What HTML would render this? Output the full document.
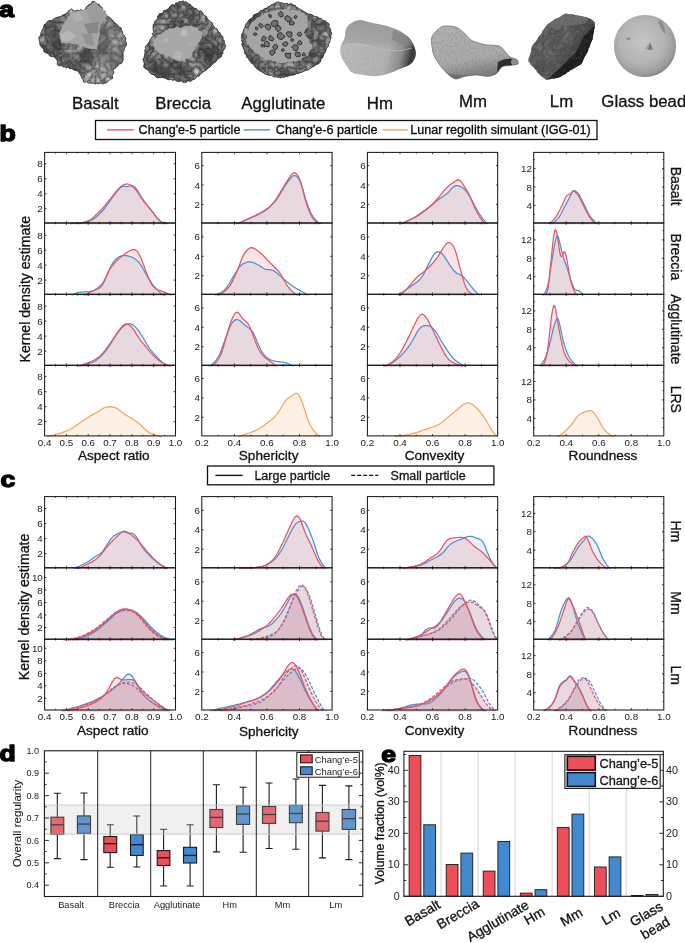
<!DOCTYPE html>
<html><head><meta charset="utf-8"><style>
html,body{margin:0;padding:0;background:#fff;width:685px;height:943px;overflow:hidden}
svg{will-change:transform} svg text{font-family:"Liberation Sans", sans-serif} svg text.b{stroke:#111;stroke-width:0.3px}
</style></head><body>
<svg width="685" height="943" viewBox="0 0 685 943" style="position:absolute;left:0;top:0">
<g font-family='"Liberation Sans", sans-serif'>
<defs>
<filter id="rk1" x="0" y="0" width="1" height="1" color-interpolation-filters="sRGB">
 <feTurbulence type="turbulence" baseFrequency="0.13" numOctaves="3" seed="2" result="n1"/>
 <feColorMatrix in="n1" type="matrix" values="1.05 0 0 0 0.16  1.05 0 0 0 0.16  1.05 0 0 0 0.16  0 0 0 0 1" result="g1"/>
 <feTurbulence type="fractalNoise" baseFrequency="0.045" numOctaves="2" seed="4" result="n2"/>
 <feColorMatrix in="n2" type="matrix" values="1.2 0 0 0 0.0  1.2 0 0 0 0.0  1.2 0 0 0 0.0  0 0 0 0 1" result="g2"/>
 <feBlend in="g1" in2="g2" mode="multiply" result="g3"/>
 <feColorMatrix in="g3" type="matrix" values="0.9 0 0 0 0.165  0.9 0 0 0 0.165  0.9 0 0 0 0.165  0 0 0 0 1"/>
 <feComposite in2="SourceGraphic" operator="in"/>
</filter>
<filter id="rk2" x="0" y="0" width="1" height="1" color-interpolation-filters="sRGB">
 <feTurbulence type="turbulence" baseFrequency="0.16" numOctaves="3" seed="8" result="n1"/>
 <feColorMatrix in="n1" type="matrix" values="1.0 0 0 0 0.14  1.0 0 0 0 0.14  1.0 0 0 0 0.14  0 0 0 0 1" result="g1"/>
 <feTurbulence type="fractalNoise" baseFrequency="0.05" numOctaves="2" seed="12" result="n2"/>
 <feColorMatrix in="n2" type="matrix" values="1.2 0 0 0 0.0  1.2 0 0 0 0.0  1.2 0 0 0 0.0  0 0 0 0 1" result="g2"/>
 <feBlend in="g1" in2="g2" mode="multiply" result="g3"/>
 <feColorMatrix in="g3" type="matrix" values="0.85 0 0 0 0.155  0.85 0 0 0 0.155  0.85 0 0 0 0.155  0 0 0 0 1"/>
 <feComposite in2="SourceGraphic" operator="in"/>
</filter>
<filter id="spk" x="0" y="0" width="1" height="1" color-interpolation-filters="sRGB">
 <feTurbulence type="fractalNoise" baseFrequency="0.3" numOctaves="2" seed="21" result="n"/>
 <feColorMatrix in="n" type="matrix" values="0 0 0 0 0  0 0 0 0 0  0 0 0 0 0  0 0 0 -1.6 0.95" result="a"/>
 <feComposite in="SourceGraphic" in2="a" operator="in"/>
</filter>
<filter id="fine" x="0" y="0" width="1" height="1">
 <feTurbulence type="fractalNoise" baseFrequency="0.9 0.4" numOctaves="2" seed="11" result="n"/>
 <feColorMatrix in="n" type="matrix" values="0 0 0 0 0  0 0 0 0 0  0 0 0 0 0  0 0 0 -3 1.7" result="a"/>
 <feComposite in="SourceGraphic" in2="a" operator="in"/>
</filter>
<filter id="soft"><feGaussianBlur stdDeviation="0.6"/></filter>
<radialGradient id="gbead" cx="0.45" cy="0.42" r="0.6">
 <stop offset="0" stop-color="#c4c4c4"/><stop offset="0.6" stop-color="#b4b4b4"/><stop offset="0.9" stop-color="#9a9a9a"/><stop offset="1" stop-color="#7c7c7c"/>
</radialGradient>
<linearGradient id="ghm" x1="0" y1="0" x2="1" y2="0.15">
 <stop offset="0" stop-color="#bcbcbc"/><stop offset="0.7" stop-color="#b2b2b2"/><stop offset="0.88" stop-color="#8c8c8c"/><stop offset="0.97" stop-color="#555"/><stop offset="1" stop-color="#3c3c3c"/>
</linearGradient>
<linearGradient id="ghmtop" x1="0" y1="0" x2="0" y2="1">
 <stop offset="0" stop-color="#8e8e8e" stop-opacity="0.7"/><stop offset="0.75" stop-color="#9a9a9a" stop-opacity="0.55"/><stop offset="1" stop-color="#9c9c9c" stop-opacity="0"/>
</linearGradient>
<linearGradient id="gmm" x1="0" y1="0" x2="0.3" y2="1">
 <stop offset="0" stop-color="#b2b2b2"/><stop offset="0.7" stop-color="#acacac"/><stop offset="1" stop-color="#808080"/>
</linearGradient>
<linearGradient id="glm" x1="0" y1="0" x2="1" y2="0.4">
 <stop offset="0" stop-color="#626262"/><stop offset="0.6" stop-color="#565656"/><stop offset="1" stop-color="#3a3a3a"/>
</linearGradient>
</defs>
<clipPath id="cpbas"><path d="M94.1,1.2 95.7,2.5 97.1,3.9 99.2,4.4 99.8,6.1 101.7,7 102.6,8.6 102.8,10.6 105.1,11.2 105,13.5 106.5,14.6 107.3,16.2 109,17 110.4,18 111.6,19.2 112.9,20.4 113.8,21.9 115.3,23 116.7,24.2 118.1,25.5 119.1,27.2 121.1,27.7 121.4,29.7 122.4,31.4 122.5,33.5 124.1,35 125.1,36.7 125.7,38.5 125.5,40.5 126.2,42.3 126.5,44.4 126,46.2 124.6,47.8 124.1,49.6 123.9,51.3 122.9,52.8 123.2,54.6 123.2,56.3 123,58 123.3,59.7 122.6,61.3 121.9,63 120.4,63.8 118.6,64.2 117.9,65.9 116.5,66.7 115.6,68.2 113.8,68.6 113,70.2 113.9,72.1 113.5,73.8 112.2,75.3 112.6,77.1 112.4,78.8 110.6,79.1 109.3,80.3 107.8,81 106.9,82.8 105,83 103.6,83.9 101.9,83.8 100.2,83 98.5,83.8 96.8,83.3 95,84.1 93.4,83.2 91.7,83.2 90,83 88.2,83.1 86.7,81.7 84.9,82.2 83.2,81.8 83.4,80 82.1,78.8 81.5,77.3 80.9,75.8 80.3,74.3 78.9,73.2 78.8,71.5 76.9,70.9 75,70.5 73.3,69.5 71.5,68.6 69.7,68.9 68.4,67.1 66.5,68 65,66.8 63.2,67.1 61.8,65.8 60.1,65.8 58.4,65.7 57,64.1 57.5,61.8 56.9,59.9 55.4,58.4 54.3,56.9 52.5,56.6 50.7,56.5 49.3,55.6 48.5,53.6 46.7,53.3 45.2,52.6 43.7,51.5 43.7,49.3 42.3,48.1 41.2,46.7 40.1,45.3 39.7,43.6 39.7,41.8 39.2,40.1 38.7,38.3 39.4,36.5 40.8,35.1 40.8,33.1 41.7,31.4 42,29.6 43.5,28.2 43.8,26.3 44.4,24.5 46,23.8 46.7,22.2 48,21.1 49.6,20.4 51.7,20.5 53.4,19.2 55,18.1 56.9,17.5 58.7,16.8 60.8,16.7 62.3,15.1 64.2,14.6 65.8,13.6 67.3,12.5 68.4,10.9 70.1,10 71.5,8.8 72.8,9.9 74.1,10.9 75.9,10.9 77.4,10 79.2,11.2 80.5,9.3 82.3,10.4 83.9,10.3 85.4,9.5 85.9,7.3 87.6,5.8 89.1,4.5 91.2,4 92,1.6Z"/></clipPath>
<path d="M94.1,1.2 95.7,2.5 97.1,3.9 99.2,4.4 99.8,6.1 101.7,7 102.6,8.6 102.8,10.6 105.1,11.2 105,13.5 106.5,14.6 107.3,16.2 109,17 110.4,18 111.6,19.2 112.9,20.4 113.8,21.9 115.3,23 116.7,24.2 118.1,25.5 119.1,27.2 121.1,27.7 121.4,29.7 122.4,31.4 122.5,33.5 124.1,35 125.1,36.7 125.7,38.5 125.5,40.5 126.2,42.3 126.5,44.4 126,46.2 124.6,47.8 124.1,49.6 123.9,51.3 122.9,52.8 123.2,54.6 123.2,56.3 123,58 123.3,59.7 122.6,61.3 121.9,63 120.4,63.8 118.6,64.2 117.9,65.9 116.5,66.7 115.6,68.2 113.8,68.6 113,70.2 113.9,72.1 113.5,73.8 112.2,75.3 112.6,77.1 112.4,78.8 110.6,79.1 109.3,80.3 107.8,81 106.9,82.8 105,83 103.6,83.9 101.9,83.8 100.2,83 98.5,83.8 96.8,83.3 95,84.1 93.4,83.2 91.7,83.2 90,83 88.2,83.1 86.7,81.7 84.9,82.2 83.2,81.8 83.4,80 82.1,78.8 81.5,77.3 80.9,75.8 80.3,74.3 78.9,73.2 78.8,71.5 76.9,70.9 75,70.5 73.3,69.5 71.5,68.6 69.7,68.9 68.4,67.1 66.5,68 65,66.8 63.2,67.1 61.8,65.8 60.1,65.8 58.4,65.7 57,64.1 57.5,61.8 56.9,59.9 55.4,58.4 54.3,56.9 52.5,56.6 50.7,56.5 49.3,55.6 48.5,53.6 46.7,53.3 45.2,52.6 43.7,51.5 43.7,49.3 42.3,48.1 41.2,46.7 40.1,45.3 39.7,43.6 39.7,41.8 39.2,40.1 38.7,38.3 39.4,36.5 40.8,35.1 40.8,33.1 41.7,31.4 42,29.6 43.5,28.2 43.8,26.3 44.4,24.5 46,23.8 46.7,22.2 48,21.1 49.6,20.4 51.7,20.5 53.4,19.2 55,18.1 56.9,17.5 58.7,16.8 60.8,16.7 62.3,15.1 64.2,14.6 65.8,13.6 67.3,12.5 68.4,10.9 70.1,10 71.5,8.8 72.8,9.9 74.1,10.9 75.9,10.9 77.4,10 79.2,11.2 80.5,9.3 82.3,10.4 83.9,10.3 85.4,9.5 85.9,7.3 87.6,5.8 89.1,4.5 91.2,4 92,1.6Z" fill="#6c6c6c"/>
<g clip-path="url(#cpbas)"><rect x="38" y="0" width="90" height="85" fill="#000" filter="url(#rk1)"/><path d="M98,20 L128,28 L128,72 L100,80 L92,50Z" fill="#a0a0a0" opacity="0.25"/><path d="M40,20 L60,20 L62,60 L40,60Z" fill="#202020" opacity="0.12"/></g>
<path d="M94.1,1.2 95.7,2.5 97.1,3.9 99.2,4.4 99.8,6.1 101.7,7 102.6,8.6 102.8,10.6 105.1,11.2 105,13.5 106.5,14.6 107.3,16.2 109,17 110.4,18 111.6,19.2 112.9,20.4 113.8,21.9 115.3,23 116.7,24.2 118.1,25.5 119.1,27.2 121.1,27.7 121.4,29.7 122.4,31.4 122.5,33.5 124.1,35 125.1,36.7 125.7,38.5 125.5,40.5 126.2,42.3 126.5,44.4 126,46.2 124.6,47.8 124.1,49.6 123.9,51.3 122.9,52.8 123.2,54.6 123.2,56.3 123,58 123.3,59.7 122.6,61.3 121.9,63 120.4,63.8 118.6,64.2 117.9,65.9 116.5,66.7 115.6,68.2 113.8,68.6 113,70.2 113.9,72.1 113.5,73.8 112.2,75.3 112.6,77.1 112.4,78.8 110.6,79.1 109.3,80.3 107.8,81 106.9,82.8 105,83 103.6,83.9 101.9,83.8 100.2,83 98.5,83.8 96.8,83.3 95,84.1 93.4,83.2 91.7,83.2 90,83 88.2,83.1 86.7,81.7 84.9,82.2 83.2,81.8 83.4,80 82.1,78.8 81.5,77.3 80.9,75.8 80.3,74.3 78.9,73.2 78.8,71.5 76.9,70.9 75,70.5 73.3,69.5 71.5,68.6 69.7,68.9 68.4,67.1 66.5,68 65,66.8 63.2,67.1 61.8,65.8 60.1,65.8 58.4,65.7 57,64.1 57.5,61.8 56.9,59.9 55.4,58.4 54.3,56.9 52.5,56.6 50.7,56.5 49.3,55.6 48.5,53.6 46.7,53.3 45.2,52.6 43.7,51.5 43.7,49.3 42.3,48.1 41.2,46.7 40.1,45.3 39.7,43.6 39.7,41.8 39.2,40.1 38.7,38.3 39.4,36.5 40.8,35.1 40.8,33.1 41.7,31.4 42,29.6 43.5,28.2 43.8,26.3 44.4,24.5 46,23.8 46.7,22.2 48,21.1 49.6,20.4 51.7,20.5 53.4,19.2 55,18.1 56.9,17.5 58.7,16.8 60.8,16.7 62.3,15.1 64.2,14.6 65.8,13.6 67.3,12.5 68.4,10.9 70.1,10 71.5,8.8 72.8,9.9 74.1,10.9 75.9,10.9 77.4,10 79.2,11.2 80.5,9.3 82.3,10.4 83.9,10.3 85.4,9.5 85.9,7.3 87.6,5.8 89.1,4.5 91.2,4 92,1.6Z" fill="none" stroke="#2a2a2a" stroke-width="0.9" opacity="0.8"/>
<path d="M58.5,33.6 59.4,32.4 60.3,31.1 60.8,29.7 61.7,28.5 62,26.8 62.7,25.5 63.6,24.3 64.2,22.9 65.1,21.6 66.5,20.7 66.8,19.1 67.3,17.7 68,16.3 69.5,15.4 69.7,13.8 70.5,12.5 72.1,12.8 73.5,11.9 75,11.6 76.6,11.8 78.1,11.3 79.5,10.8 81,10.3 82.6,10.5 84,9.7 85.5,9.5 87,8.9 87.4,7.1 88.8,6.4 90,5.4 91.5,4.8 92,3.1 93.6,2.6 94.5,1.3 95.4,2.6 96.5,3.7 97.6,4.7 98.4,6.1 100.1,6.7 101.1,7.9 102.3,8.8 103.6,9.8 104.5,11 105,12.7 106.1,13.8 107.5,14.6 107,16.3 105.6,17.3 104.8,18.8 103.8,20.1 102.8,21.5 102.2,23.1 100.6,24.1 100.2,25.8 100.1,27.5 99.7,29.1 99.5,30.8 99.9,32.5 99.9,34.2 99.3,35.8 99,37.5 98.5,39 98.2,40.4 98.1,42 98.6,43.6 97.4,44.9 97.4,46.4 97.1,47.9 97.3,49.5 95.7,49.2 94.3,48.4 92.5,49.1 90.9,48.9 89.4,48.6 87.8,48 86.3,47.7 84.7,47.5 83.2,46.8 81.8,46.1 80.1,46 78.9,44.7 77.2,44.5 75.9,43.5 74.3,43.3 72.7,44 71.2,43.7 69.6,42.9 68,43.3 66.4,43 64.9,43.2 63.3,43.2 61.7,43.3 60.8,41.8 60.7,40 59.6,38.6 59.9,36.7 59.6,35Z" fill="#a6a6a6"/>
<path d="M86,10 L95,2 L106,15 L100,24 L90,22 Z" fill="#9c9c9c"/>
<path d="M84,24 L99,22 L98,33 L88,33 Z" fill="#888"/><path d="M82,34 L92,33 L94,46 L86,44 Z" fill="#939393"/><path d="M60,35 L68,30 L76,36 L70,41 L62,41 Z" fill="#b6b6b6"/><path d="M72,14 L80,12 L84,20 L75,22 Z" fill="#b0b0b0"/>
<clipPath id="cpbre"><path d="M183.3,0.7 184.3,2.1 186.5,1.8 187.6,3.1 189,4 190.5,4.5 191.4,6.2 192.9,6.9 194.2,8.3 196.3,8.4 197.4,10.2 199,11 201.2,10.9 202.5,12.4 203.3,14.1 204.3,15.6 206.4,16.2 207.1,18 208.2,19.4 209.4,20.8 210.7,22 212.3,22.7 212.6,24.6 213.7,25.8 214.5,27.2 215.6,28.4 217.3,29.1 217.9,30.7 218.7,32.1 220.3,32.9 220.3,34.7 222.2,35.8 223.1,37.2 222.8,39.2 224.2,40.4 224.3,42.2 224.4,44.1 225.8,45.3 225.3,46.9 224.8,48.6 223.8,49.9 222.8,51.3 223,53.3 221.9,54.6 221.6,56.3 220.3,57.6 218.7,58.5 217.2,59.4 216.3,61.2 215,62.4 213.4,63.3 212.1,64.5 211.1,66.1 209.7,67.2 208.2,68.2 206.7,69.2 205.7,70.9 203.6,71.2 202.5,72.7 201,73.6 200,75 198.8,76.3 196.7,76.3 196,78.2 194.7,79.2 192.9,79.6 191.5,80.8 189.9,81.4 187.8,80.5 186.5,82.2 184.7,82.3 183,82.3 181.4,81.1 179.7,81.2 177.9,81.7 176.3,80.9 174.8,79.8 172.9,80.4 171.3,79.5 169.6,79.6 167.7,80 166.2,78.5 164.5,78.1 162.8,77.6 161,77.5 159.2,77.7 157.4,77.9 155.8,76.8 154.5,75.7 153.4,74.4 151.4,74.2 150.1,73 149,71.6 147.9,70.3 146.7,69.1 144.9,68.6 143.9,67.1 143.6,65.5 144.4,63.7 143.8,62.1 143.5,60.5 142.8,59 144.1,57.5 144.4,55.8 144.7,54 145,52.3 144.7,50.4 145.6,48.8 145.2,46.9 146.2,45.3 147.6,44.2 148.5,42.8 149.5,41.4 150.1,39.8 151,38.3 152,37 153.1,35.7 152.3,33.9 153.7,32 153.2,30.2 152.9,28.4 153.2,26.5 153.1,24.7 154.4,23.3 154.7,21.4 156.4,20.2 157.4,18.7 157.5,16.6 158.6,15.1 159.6,13.6 161.6,13.4 163.3,12.7 163.7,10.5 165.7,10.3 167.2,9.4 168.7,8.5 169.6,6.9 170.9,5.5 172.5,4.6 174.9,5.2 175.8,2.9 177.8,2.7 179.4,1.5 181.5,1.5Z"/></clipPath>
<path d="M183.3,0.7 184.3,2.1 186.5,1.8 187.6,3.1 189,4 190.5,4.5 191.4,6.2 192.9,6.9 194.2,8.3 196.3,8.4 197.4,10.2 199,11 201.2,10.9 202.5,12.4 203.3,14.1 204.3,15.6 206.4,16.2 207.1,18 208.2,19.4 209.4,20.8 210.7,22 212.3,22.7 212.6,24.6 213.7,25.8 214.5,27.2 215.6,28.4 217.3,29.1 217.9,30.7 218.7,32.1 220.3,32.9 220.3,34.7 222.2,35.8 223.1,37.2 222.8,39.2 224.2,40.4 224.3,42.2 224.4,44.1 225.8,45.3 225.3,46.9 224.8,48.6 223.8,49.9 222.8,51.3 223,53.3 221.9,54.6 221.6,56.3 220.3,57.6 218.7,58.5 217.2,59.4 216.3,61.2 215,62.4 213.4,63.3 212.1,64.5 211.1,66.1 209.7,67.2 208.2,68.2 206.7,69.2 205.7,70.9 203.6,71.2 202.5,72.7 201,73.6 200,75 198.8,76.3 196.7,76.3 196,78.2 194.7,79.2 192.9,79.6 191.5,80.8 189.9,81.4 187.8,80.5 186.5,82.2 184.7,82.3 183,82.3 181.4,81.1 179.7,81.2 177.9,81.7 176.3,80.9 174.8,79.8 172.9,80.4 171.3,79.5 169.6,79.6 167.7,80 166.2,78.5 164.5,78.1 162.8,77.6 161,77.5 159.2,77.7 157.4,77.9 155.8,76.8 154.5,75.7 153.4,74.4 151.4,74.2 150.1,73 149,71.6 147.9,70.3 146.7,69.1 144.9,68.6 143.9,67.1 143.6,65.5 144.4,63.7 143.8,62.1 143.5,60.5 142.8,59 144.1,57.5 144.4,55.8 144.7,54 145,52.3 144.7,50.4 145.6,48.8 145.2,46.9 146.2,45.3 147.6,44.2 148.5,42.8 149.5,41.4 150.1,39.8 151,38.3 152,37 153.1,35.7 152.3,33.9 153.7,32 153.2,30.2 152.9,28.4 153.2,26.5 153.1,24.7 154.4,23.3 154.7,21.4 156.4,20.2 157.4,18.7 157.5,16.6 158.6,15.1 159.6,13.6 161.6,13.4 163.3,12.7 163.7,10.5 165.7,10.3 167.2,9.4 168.7,8.5 169.6,6.9 170.9,5.5 172.5,4.6 174.9,5.2 175.8,2.9 177.8,2.7 179.4,1.5 181.5,1.5Z" fill="#5c5c5c"/>
<g clip-path="url(#cpbre)"><rect x="140" y="0" width="90" height="85" fill="#000" filter="url(#rk2)"/></g>
<path d="M183.3,0.7 184.3,2.1 186.5,1.8 187.6,3.1 189,4 190.5,4.5 191.4,6.2 192.9,6.9 194.2,8.3 196.3,8.4 197.4,10.2 199,11 201.2,10.9 202.5,12.4 203.3,14.1 204.3,15.6 206.4,16.2 207.1,18 208.2,19.4 209.4,20.8 210.7,22 212.3,22.7 212.6,24.6 213.7,25.8 214.5,27.2 215.6,28.4 217.3,29.1 217.9,30.7 218.7,32.1 220.3,32.9 220.3,34.7 222.2,35.8 223.1,37.2 222.8,39.2 224.2,40.4 224.3,42.2 224.4,44.1 225.8,45.3 225.3,46.9 224.8,48.6 223.8,49.9 222.8,51.3 223,53.3 221.9,54.6 221.6,56.3 220.3,57.6 218.7,58.5 217.2,59.4 216.3,61.2 215,62.4 213.4,63.3 212.1,64.5 211.1,66.1 209.7,67.2 208.2,68.2 206.7,69.2 205.7,70.9 203.6,71.2 202.5,72.7 201,73.6 200,75 198.8,76.3 196.7,76.3 196,78.2 194.7,79.2 192.9,79.6 191.5,80.8 189.9,81.4 187.8,80.5 186.5,82.2 184.7,82.3 183,82.3 181.4,81.1 179.7,81.2 177.9,81.7 176.3,80.9 174.8,79.8 172.9,80.4 171.3,79.5 169.6,79.6 167.7,80 166.2,78.5 164.5,78.1 162.8,77.6 161,77.5 159.2,77.7 157.4,77.9 155.8,76.8 154.5,75.7 153.4,74.4 151.4,74.2 150.1,73 149,71.6 147.9,70.3 146.7,69.1 144.9,68.6 143.9,67.1 143.6,65.5 144.4,63.7 143.8,62.1 143.5,60.5 142.8,59 144.1,57.5 144.4,55.8 144.7,54 145,52.3 144.7,50.4 145.6,48.8 145.2,46.9 146.2,45.3 147.6,44.2 148.5,42.8 149.5,41.4 150.1,39.8 151,38.3 152,37 153.1,35.7 152.3,33.9 153.7,32 153.2,30.2 152.9,28.4 153.2,26.5 153.1,24.7 154.4,23.3 154.7,21.4 156.4,20.2 157.4,18.7 157.5,16.6 158.6,15.1 159.6,13.6 161.6,13.4 163.3,12.7 163.7,10.5 165.7,10.3 167.2,9.4 168.7,8.5 169.6,6.9 170.9,5.5 172.5,4.6 174.9,5.2 175.8,2.9 177.8,2.7 179.4,1.5 181.5,1.5Z" fill="none" stroke="#2a2a2a" stroke-width="0.9" opacity="0.8"/>
<path d="M154.5,39.4 155.7,38 157.5,37.2 158,35.1 159.7,34.2 161.4,34.1 162,32.2 163.9,32.4 164.5,30.4 166.3,30.3 167.6,29.6 168.9,28.3 170.5,28.5 172,28.1 173.7,28.5 175.1,27.6 176.4,26.4 178.1,26.9 179.7,27.8 181.1,27.5 182.6,27.5 184.1,26.1 185.6,26.3 187.1,25.8 188.6,26.3 190.3,25.9 191.9,26.1 193.2,27.3 194.9,26.9 196.4,27.3 197.8,28.3 198.4,30.1 200.1,30.9 201.7,31.8 202.4,33.5 201.6,35.2 201.9,37.2 200.8,38.9 200.4,40.7 199.4,42.3 197.8,43.3 196.5,44.7 195.6,46.2 195.1,47.9 194.7,49.7 193.9,51.2 192.6,52.2 191.7,53.5 192,55.5 191.3,56.9 189.9,57.8 189,59.3 186.8,58.6 185.5,59.4 185,61.5 183.4,61.8 182,60.6 180.1,61.8 178.7,60.9 177.1,60.7 175.5,60.4 174.6,58.9 172.4,59.6 171.4,58.4 170.3,57.1 168.9,56.5 167.1,56.9 165.7,56.1 164.3,55.3 163,54 161.4,53.8 159.7,53.9 158.8,52.4 157.4,51.5 156.1,50.6 154.5,49.9 154.7,48 153.9,46.3 153.1,44.7 154,43.1 153.6,41.1Z" fill="#a8a8a8"/>
<circle cx="184" cy="33" r="3.5" fill="#bababa"/><circle cx="178" cy="55" r="4" fill="#b6b6b6"/><circle cx="166" cy="40" r="2.5" fill="#b4b4b4"/><circle cx="190" cy="44" r="2.2" fill="#b0b0b0"/><circle cx="205" cy="32" r="3" fill="#8c8c8c"/><circle cx="186" cy="21" r="2.2" fill="#8a8a8a"/>
<clipPath id="cpagg"><path d="M276.6,2.1 278.4,1.9 280.1,2.9 281.9,2.4 283.5,3.7 285.4,3.5 287.2,3.3 288.8,4.4 290.7,3.6 292.4,4.3 293.8,5.2 295.6,5.5 296.4,7.4 298.1,7.8 299.3,9 301.1,9.2 302.2,10.7 303.7,11.4 305.2,12.2 306.7,12.9 308.1,14.1 310,14 311.6,14.6 313.1,15.6 314.7,16.4 316.6,16.4 318.1,17.2 319.4,18.2 321.2,18.5 322.3,19.7 323.6,20.8 325.5,20.7 326.5,22.4 328.1,22.9 329.3,24.3 328.7,26.5 329.9,27.9 330.6,29.5 330.8,31.3 331.7,32.9 331.3,34.6 330.7,36.2 331.2,38 330.2,39.5 329.9,41.2 329.6,42.9 328.3,44.1 328.7,46.1 327.5,47.2 326.5,48.6 325.9,50.1 325.8,51.8 324.4,52.9 323.8,54.4 323.3,56.3 322.5,58 320.7,59.3 320.7,61.4 319.5,62.9 318.1,63.9 316.5,64.4 315.1,65.4 313.8,66.4 312.1,67 311,68.3 309.4,69.1 308.1,70.1 306.3,70.2 304.8,70.9 303.2,71.5 301.7,72.4 300,72.7 298.5,73.5 296.7,73.5 295.2,74.4 293.7,75 292,75.2 290.3,75.3 288.8,76 287.3,76.6 285.6,76.4 284.1,77.4 282.4,77.1 280.9,78 279.4,77.3 277.7,77.4 276.3,76.6 274.5,77.2 273,76.4 271.6,75.3 269.9,75.4 268.4,75 266.8,74.5 265.2,74.4 263.9,73.2 262.4,72.2 260.8,71.4 259.2,70.6 257.9,69.5 256.5,68.5 255.2,67.2 254.1,66 253.6,64.2 251.8,63.6 250.8,62.2 249.7,61.1 248.8,59.6 248.2,58 246.6,57.2 246.5,55.4 245.2,54 244.5,52.4 244.6,50.5 243.5,49.1 243.2,47.3 242.3,45.8 241.6,44.2 242.6,42.5 241.7,40.9 241.9,39.2 241.4,37.6 241.6,35.9 241.6,34.3 242.7,32.9 243.4,31.2 243.7,29.4 244.8,27.9 245.1,26.1 245.7,24.5 246.6,22.9 247.9,21.7 248.8,20.1 250.1,19 251.7,18.2 253,17 253.5,15.1 255.2,14.3 256.8,13.8 258.3,13.1 259.4,11.8 260.6,10.5 262.5,10.5 263.6,9.1 265.2,8.6 266.7,8 268,6.8 269.6,6.3 270.7,5.1 272.3,4.5 273.8,3.8 275.3,3.1Z"/></clipPath>
<path d="M276.6,2.1 278.4,1.9 280.1,2.9 281.9,2.4 283.5,3.7 285.4,3.5 287.2,3.3 288.8,4.4 290.7,3.6 292.4,4.3 293.8,5.2 295.6,5.5 296.4,7.4 298.1,7.8 299.3,9 301.1,9.2 302.2,10.7 303.7,11.4 305.2,12.2 306.7,12.9 308.1,14.1 310,14 311.6,14.6 313.1,15.6 314.7,16.4 316.6,16.4 318.1,17.2 319.4,18.2 321.2,18.5 322.3,19.7 323.6,20.8 325.5,20.7 326.5,22.4 328.1,22.9 329.3,24.3 328.7,26.5 329.9,27.9 330.6,29.5 330.8,31.3 331.7,32.9 331.3,34.6 330.7,36.2 331.2,38 330.2,39.5 329.9,41.2 329.6,42.9 328.3,44.1 328.7,46.1 327.5,47.2 326.5,48.6 325.9,50.1 325.8,51.8 324.4,52.9 323.8,54.4 323.3,56.3 322.5,58 320.7,59.3 320.7,61.4 319.5,62.9 318.1,63.9 316.5,64.4 315.1,65.4 313.8,66.4 312.1,67 311,68.3 309.4,69.1 308.1,70.1 306.3,70.2 304.8,70.9 303.2,71.5 301.7,72.4 300,72.7 298.5,73.5 296.7,73.5 295.2,74.4 293.7,75 292,75.2 290.3,75.3 288.8,76 287.3,76.6 285.6,76.4 284.1,77.4 282.4,77.1 280.9,78 279.4,77.3 277.7,77.4 276.3,76.6 274.5,77.2 273,76.4 271.6,75.3 269.9,75.4 268.4,75 266.8,74.5 265.2,74.4 263.9,73.2 262.4,72.2 260.8,71.4 259.2,70.6 257.9,69.5 256.5,68.5 255.2,67.2 254.1,66 253.6,64.2 251.8,63.6 250.8,62.2 249.7,61.1 248.8,59.6 248.2,58 246.6,57.2 246.5,55.4 245.2,54 244.5,52.4 244.6,50.5 243.5,49.1 243.2,47.3 242.3,45.8 241.6,44.2 242.6,42.5 241.7,40.9 241.9,39.2 241.4,37.6 241.6,35.9 241.6,34.3 242.7,32.9 243.4,31.2 243.7,29.4 244.8,27.9 245.1,26.1 245.7,24.5 246.6,22.9 247.9,21.7 248.8,20.1 250.1,19 251.7,18.2 253,17 253.5,15.1 255.2,14.3 256.8,13.8 258.3,13.1 259.4,11.8 260.6,10.5 262.5,10.5 263.6,9.1 265.2,8.6 266.7,8 268,6.8 269.6,6.3 270.7,5.1 272.3,4.5 273.8,3.8 275.3,3.1Z" fill="#5a5a5a"/>
<g clip-path="url(#cpagg)"><rect x="240" y="0" width="95" height="80" fill="#000" filter="url(#rk2)"/></g>
<path d="M276.6,2.1 278.4,1.9 280.1,2.9 281.9,2.4 283.5,3.7 285.4,3.5 287.2,3.3 288.8,4.4 290.7,3.6 292.4,4.3 293.8,5.2 295.6,5.5 296.4,7.4 298.1,7.8 299.3,9 301.1,9.2 302.2,10.7 303.7,11.4 305.2,12.2 306.7,12.9 308.1,14.1 310,14 311.6,14.6 313.1,15.6 314.7,16.4 316.6,16.4 318.1,17.2 319.4,18.2 321.2,18.5 322.3,19.7 323.6,20.8 325.5,20.7 326.5,22.4 328.1,22.9 329.3,24.3 328.7,26.5 329.9,27.9 330.6,29.5 330.8,31.3 331.7,32.9 331.3,34.6 330.7,36.2 331.2,38 330.2,39.5 329.9,41.2 329.6,42.9 328.3,44.1 328.7,46.1 327.5,47.2 326.5,48.6 325.9,50.1 325.8,51.8 324.4,52.9 323.8,54.4 323.3,56.3 322.5,58 320.7,59.3 320.7,61.4 319.5,62.9 318.1,63.9 316.5,64.4 315.1,65.4 313.8,66.4 312.1,67 311,68.3 309.4,69.1 308.1,70.1 306.3,70.2 304.8,70.9 303.2,71.5 301.7,72.4 300,72.7 298.5,73.5 296.7,73.5 295.2,74.4 293.7,75 292,75.2 290.3,75.3 288.8,76 287.3,76.6 285.6,76.4 284.1,77.4 282.4,77.1 280.9,78 279.4,77.3 277.7,77.4 276.3,76.6 274.5,77.2 273,76.4 271.6,75.3 269.9,75.4 268.4,75 266.8,74.5 265.2,74.4 263.9,73.2 262.4,72.2 260.8,71.4 259.2,70.6 257.9,69.5 256.5,68.5 255.2,67.2 254.1,66 253.6,64.2 251.8,63.6 250.8,62.2 249.7,61.1 248.8,59.6 248.2,58 246.6,57.2 246.5,55.4 245.2,54 244.5,52.4 244.6,50.5 243.5,49.1 243.2,47.3 242.3,45.8 241.6,44.2 242.6,42.5 241.7,40.9 241.9,39.2 241.4,37.6 241.6,35.9 241.6,34.3 242.7,32.9 243.4,31.2 243.7,29.4 244.8,27.9 245.1,26.1 245.7,24.5 246.6,22.9 247.9,21.7 248.8,20.1 250.1,19 251.7,18.2 253,17 253.5,15.1 255.2,14.3 256.8,13.8 258.3,13.1 259.4,11.8 260.6,10.5 262.5,10.5 263.6,9.1 265.2,8.6 266.7,8 268,6.8 269.6,6.3 270.7,5.1 272.3,4.5 273.8,3.8 275.3,3.1Z" fill="none" stroke="#2a2a2a" stroke-width="0.9" opacity="0.8"/>
<path d="M246.6,32.9 246.9,31.3 248.7,30.4 248.4,28.5 249.2,27.1 249.8,25.6 250.3,24 251.5,22.9 252.3,21.5 253.8,21 255.1,20.1 255.9,18.5 257.1,17.6 258.6,17 260.3,16.7 261.3,15.5 263,15.2 264,14 265.2,12.9 266.8,12.7 268.4,12.6 270,12.2 271.4,11.2 273,10.7 274.6,10.6 276.2,10.4 277.6,9.5 279.3,9.6 280.9,9.3 282.4,9.7 284.1,9 285.6,9.1 287.2,9.3 288.7,9.6 290.2,10.8 291.9,9.4 293.5,9.8 295,9.9 296.5,10.5 298.1,10.7 299.9,10.9 301,12.3 302.7,12.7 304,13.7 305,15.3 306.7,15.7 307.4,17.3 306.9,19 307.4,20.6 307.6,22.3 307.2,24 308.4,25.5 308.1,27.2 306.5,28.2 305.4,29.7 304.7,31.3 303.8,32.9 305.3,33.7 305.5,35.5 306.5,36.6 307.3,38 308.9,38.6 309.5,40.1 309.4,41.8 310.1,43.2 311.8,44.1 312.1,45.7 312.4,47.2 312.4,49 310.5,49.8 309.7,51.2 308.8,52.6 308.7,54.3 308.1,55.8 306.6,56.2 305.1,56.8 303.8,57.6 302.1,57.7 300.9,58.8 299.6,59.8 298.1,60.2 296.9,61.6 295.2,61.5 293.6,61.3 292,61.5 290.4,62.1 288.8,61.6 287.2,61.9 285.7,62.7 284.1,63.3 282.5,63.3 280.9,62.9 279.2,63.1 277.7,62.6 276.1,62 274.7,61 272.9,61.7 271.5,60.4 269.8,60.4 268.3,59.9 266.6,60.1 265.2,59.4 263.6,59 263,57.1 261.2,57 259.8,56.3 259.1,54.5 257.7,53.8 256,53.6 254.8,52.7 253.7,51.5 253.2,49.8 251.4,49.3 250.9,47.6 249.2,47 249,45 247.1,44.5 246.6,42.9 246.6,41.2 245.9,39.6 246.7,37.9 247.2,36.2 245.9,34.6Z" fill="#a4a4a4"/>
<path d="M283,14.3 C283.1,14.9 283.2,15.8 282.9,16.3 C282.5,16.7 281.5,17 280.9,16.9 C280.3,16.8 279.8,16.3 279.4,15.8 C278.9,15.4 278.3,14.8 278.3,14.3 C278.3,13.8 278.8,13.1 279.2,12.6 C279.7,12.1 280.4,11.3 280.9,11.4 C281.4,11.4 282.1,12.3 282.4,12.8 C282.8,13.3 283,13.7 283,14.3Z" fill="#707070" stroke="#2a2a2a" stroke-width="1.0"/>
<path d="M291.4,18.6 C291.5,19.2 290.8,20.3 290.2,20.8 C289.7,21.4 288.7,22 288,21.9 C287.3,21.9 286.6,21.1 286.1,20.5 C285.5,20 284.8,19.3 284.7,18.6 C284.6,17.9 285.2,16.8 285.7,16.3 C286.2,15.8 287.4,15.7 288,15.9 C288.6,16 289,16.6 289.5,17.1 C290.1,17.5 291.2,18 291.4,18.6Z" fill="#707070" stroke="#2a2a2a" stroke-width="1.0"/>
<path d="M294.3,23 C294.4,23.6 293.7,24.5 293.3,24.8 C292.8,25.1 292.1,24.9 291.5,24.9 C290.9,24.9 290,25.1 289.7,24.8 C289.4,24.5 289.5,23.6 289.5,23 C289.6,22.4 289.6,21.9 289.9,21.4 C290.3,21 291,20.3 291.5,20.3 C292,20.3 292.6,21 293,21.5 C293.5,21.9 294.3,22.4 294.3,23Z" fill="#707070" stroke="#2a2a2a" stroke-width="1.0"/>
<path d="M277.9,23.6 C277.9,24.5 277.5,25.6 277,26.1 C276.4,26.6 275.3,26.6 274.5,26.6 C273.7,26.5 272.7,26.4 272.2,25.9 C271.6,25.4 271.1,24.4 271.1,23.6 C271.1,22.8 271.7,21.8 272.3,21.4 C272.8,20.9 273.7,20.7 274.5,20.7 C275.3,20.6 276.6,20.4 277.2,20.9 C277.8,21.4 278,22.7 277.9,23.6Z" fill="#707070" stroke="#2a2a2a" stroke-width="1.0"/>
<path d="M270.5,26.5 C270.6,27.2 270.8,28.2 270.3,28.8 C269.9,29.5 268.7,30.2 268,30.1 C267.3,30 266.7,28.9 266.2,28.3 C265.7,27.7 265,27.1 265,26.5 C264.9,25.9 265.4,24.8 265.9,24.4 C266.4,24.1 267.4,24.2 268,24.3 C268.6,24.4 269.2,24.5 269.6,24.9 C270,25.2 270.3,25.8 270.5,26.5Z" fill="#707070" stroke="#2a2a2a" stroke-width="1.0"/>
<path d="M263.3,25.8 C263.3,26.2 262.7,26.8 262.3,27.2 C261.9,27.5 261.3,28.1 260.9,28.1 C260.5,28 260.2,27.2 259.9,26.8 C259.5,26.5 258.9,26.3 258.8,25.8 C258.7,25.3 258.9,24.5 259.2,24.1 C259.6,23.7 260.5,23.3 260.9,23.4 C261.3,23.6 261.5,24.4 261.9,24.8 C262.3,25.2 263.2,25.4 263.3,25.8Z" fill="#707070" stroke="#2a2a2a" stroke-width="1.0"/>
<path d="M281,28.5 C280.9,29.2 280.4,29.9 279.9,30.4 C279.4,31 278.6,31.9 278,31.9 C277.4,31.8 276.9,30.6 276.4,30.1 C276,29.5 275.6,29.2 275.5,28.5 C275.3,27.8 275.1,26.5 275.6,26.1 C276,25.6 277.3,25.6 278,25.6 C278.7,25.7 279.5,26 280,26.5 C280.5,27 281,27.8 281,28.5Z" fill="#707070" stroke="#2a2a2a" stroke-width="1.0"/>
<path d="M297,17.2 C297,17.6 296.4,17.9 296.1,18.1 C295.8,18.3 295.5,18.3 295.2,18.3 C294.9,18.3 294.4,18.4 294.2,18.2 C294,18 294,17.5 294,17.2 C294.1,16.9 294.2,16.7 294.4,16.4 C294.6,16.2 294.9,15.8 295.2,15.7 C295.5,15.6 296.2,15.6 296.5,15.9 C296.8,16.2 297.1,16.8 297,17.2Z" fill="#707070" stroke="#2a2a2a" stroke-width="1.0"/>
<path d="M301.5,34.3 C301.5,34.8 301.3,35.5 301,35.8 C300.7,36.1 300,36.1 299.5,36.1 C299,36 298.4,36 298.1,35.7 C297.7,35.4 297.3,34.8 297.3,34.3 C297.3,33.8 297.7,33.2 298.1,32.9 C298.4,32.5 299,32 299.5,32 C300,32 300.6,32.5 300.9,32.9 C301.3,33.3 301.5,33.8 301.5,34.3Z" fill="#707070" stroke="#2a2a2a" stroke-width="1.0"/>
<path d="M291.9,34.3 C291.9,35 292.1,36 291.7,36.5 C291.3,36.9 290.1,37.3 289.5,37.2 C288.9,37.1 288.3,36.5 287.8,36 C287.3,35.5 286.5,35 286.4,34.3 C286.3,33.6 286.5,32.2 287.1,31.9 C287.6,31.5 288.7,31.9 289.5,32 C290.3,32 291.2,31.8 291.6,32.2 C292,32.6 291.9,33.6 291.9,34.3Z" fill="#707070" stroke="#2a2a2a" stroke-width="1.0"/>
<path d="M284.9,36.3 C284.9,37 283.9,38.1 283.2,38.6 C282.6,39.2 281.7,39.4 280.9,39.4 C280.1,39.3 279.2,39.1 278.6,38.6 C278,38.1 277.4,37.1 277.3,36.3 C277.2,35.5 277.6,34.2 278.2,33.6 C278.8,33 280.1,32.5 280.9,32.7 C281.7,32.8 282.2,33.8 282.8,34.4 C283.5,35 284.8,35.6 284.9,36.3Z" fill="#707070" stroke="#2a2a2a" stroke-width="1.0"/>
<path d="M273.8,38.6 C273.9,39.2 273.5,40.4 273,40.7 C272.6,41.1 271.5,40.6 270.9,40.5 C270.3,40.4 269.8,40.4 269.4,40.1 C269.1,39.8 269,39.2 268.9,38.6 C268.8,38 268.5,37 268.8,36.5 C269.2,36 270.3,35.5 270.9,35.6 C271.5,35.7 271.7,36.8 272.2,37.3 C272.7,37.8 273.6,38 273.8,38.6Z" fill="#707070" stroke="#2a2a2a" stroke-width="1.0"/>
<path d="M266,38.6 C266,39.1 265.6,39.6 265.2,40 C264.9,40.4 264.4,40.9 263.8,41 C263.2,41.1 262,41.1 261.7,40.7 C261.4,40.3 261.8,39.2 262,38.6 C262.1,38 262.1,37.6 262.4,37.2 C262.7,36.8 263.3,36.2 263.8,36.2 C264.3,36.1 265.2,36.4 265.5,36.9 C265.9,37.3 266.1,38.1 266,38.6Z" fill="#707070" stroke="#2a2a2a" stroke-width="1.0"/>
<path d="M256.9,34.3 C256.8,34.7 256.5,35.1 256.2,35.3 C255.9,35.5 255.5,35.5 255.2,35.5 C254.9,35.5 254.6,35.4 254.3,35.2 C253.9,35.1 253.4,34.7 253.3,34.3 C253.3,33.9 253.7,33.3 254,33.1 C254.3,32.9 254.8,33.2 255.2,33.2 C255.6,33.1 256.1,32.9 256.4,33.1 C256.7,33.3 256.9,33.9 256.9,34.3Z" fill="#707070" stroke="#2a2a2a" stroke-width="1.0"/>
<path d="M269.2,44.3 C269.3,45 269.4,46.3 269,46.7 C268.6,47.1 267.4,46.4 266.6,46.4 C265.8,46.4 264.5,47.2 264.1,46.8 C263.7,46.4 264.2,45.1 264.2,44.3 C264.3,43.5 264.2,42.8 264.6,42.3 C265,41.8 265.9,41.1 266.6,41.1 C267.3,41.1 268.2,41.7 268.7,42.2 C269.1,42.8 269.2,43.6 269.2,44.3Z" fill="#707070" stroke="#2a2a2a" stroke-width="1.0"/>
<path d="M277.6,47.2 C277.5,47.8 277.2,48.4 276.8,48.8 C276.5,49.3 275.7,49.8 275.2,49.8 C274.7,49.8 274.1,49.2 273.7,48.7 C273.2,48.3 272.8,47.7 272.7,47.2 C272.7,46.7 273.2,46 273.6,45.6 C274,45.1 274.6,44.4 275.2,44.3 C275.8,44.3 276.7,44.8 277.1,45.3 C277.5,45.8 277.6,46.6 277.6,47.2Z" fill="#707070" stroke="#2a2a2a" stroke-width="1.0"/>
<path d="M287.8,44.3 C287.7,44.9 287.1,45.5 286.7,45.8 C286.3,46.1 285.7,46.1 285.2,46.1 C284.7,46.1 284.1,46.2 283.6,45.9 C283.2,45.6 282.4,44.8 282.4,44.3 C282.4,43.8 283.2,43.2 283.7,42.8 C284.2,42.4 284.6,42.1 285.2,42 C285.8,41.9 286.7,41.9 287.2,42.3 C287.6,42.7 287.8,43.7 287.8,44.3Z" fill="#707070" stroke="#2a2a2a" stroke-width="1.0"/>
<path d="M298,47.2 C298.1,48 298.2,49.1 297.7,49.7 C297.3,50.3 295.9,50.9 295.2,50.8 C294.5,50.7 293.9,49.6 293.4,49 C292.8,48.4 291.9,47.8 291.9,47.2 C291.9,46.6 292.9,45.8 293.4,45.4 C294,45 294.6,44.9 295.2,44.9 C295.8,44.8 296.7,44.8 297.2,45.2 C297.7,45.6 297.9,46.4 298,47.2Z" fill="#707070" stroke="#2a2a2a" stroke-width="1.0"/>
<path d="M301.6,42.9 C301.6,43.4 301.6,44.4 301.2,44.6 C300.9,44.9 300,44.5 299.5,44.5 C299,44.4 298.3,44.7 298,44.4 C297.6,44.2 297.5,43.3 297.6,42.9 C297.7,42.5 298.1,42.2 298.4,41.8 C298.7,41.4 299.1,40.5 299.5,40.4 C299.9,40.4 300.7,41 301,41.4 C301.4,41.8 301.5,42.4 301.6,42.9Z" fill="#707070" stroke="#2a2a2a" stroke-width="1.0"/>
<path d="M290.3,55.8 C290.3,56.6 290.9,58 290.5,58.3 C290.2,58.7 288.7,58.2 288,58.1 C287.3,57.9 286.8,57.8 286.4,57.4 C286,57 285.5,56.5 285.4,55.8 C285.2,55.1 285,53.6 285.4,53.2 C285.9,52.9 287.1,53.6 288,53.6 C288.9,53.6 290.2,52.9 290.6,53.2 C290.9,53.6 290.3,55 290.3,55.8Z" fill="#707070" stroke="#2a2a2a" stroke-width="1.0"/>
<path d="M274.9,52.9 C274.7,53.5 274,53.8 273.6,54.2 C273.2,54.6 272.8,55.4 272.3,55.4 C271.8,55.5 271,55 270.6,54.6 C270.2,54.2 269.8,53.5 269.8,52.9 C269.7,52.3 269.9,51.4 270.3,50.9 C270.8,50.5 271.6,50.3 272.3,50.2 C273,50.2 274.1,50.2 274.5,50.7 C274.9,51.1 275,52.3 274.9,52.9Z" fill="#707070" stroke="#2a2a2a" stroke-width="1.0"/>
<path d="M300.1,54.4 C300.1,55 300.5,56 300.1,56.4 C299.8,56.8 298.8,56.7 298.1,56.7 C297.4,56.7 296.6,56.8 296.1,56.4 C295.6,56 295.2,55.1 295.1,54.4 C295.1,53.7 295.4,52.6 295.9,52.2 C296.4,51.8 297.5,52.2 298.1,52.3 C298.7,52.4 299.5,52.4 299.8,52.7 C300.1,53.1 300,53.8 300.1,54.4Z" fill="#707070" stroke="#2a2a2a" stroke-width="1.0"/>
<path d="M305.6,54.4 C305.7,54.8 305.4,55.5 305.1,55.7 C304.8,55.9 304.2,55.8 303.8,55.8 C303.4,55.8 302.7,55.9 302.5,55.7 C302.3,55.5 302.4,54.8 302.4,54.4 C302.5,54 302.6,53.7 302.8,53.4 C303.1,53.2 303.5,52.7 303.8,52.7 C304.1,52.7 304.5,53.1 304.8,53.4 C305.1,53.7 305.6,54 305.6,54.4Z" fill="#707070" stroke="#2a2a2a" stroke-width="1.0"/>
<path d="M258,28.6 C258,29 257.8,29.3 257.6,29.6 C257.3,29.8 256.9,30 256.6,30 C256.3,30 256,29.7 255.8,29.4 C255.6,29.2 255.6,28.9 255.5,28.6 C255.4,28.3 255.2,27.7 255.4,27.4 C255.6,27.2 256.2,27.1 256.6,27.1 C257,27.1 257.5,27.2 257.7,27.5 C258,27.7 258,28.2 258,28.6Z" fill="#707070" stroke="#2a2a2a" stroke-width="1.0"/>
<path d="M264,45.8 C264,46.1 263.5,46.5 263.2,46.7 C262.9,46.9 262.6,47 262.3,47 C262,47 261.6,46.9 261.4,46.7 C261.2,46.5 261,46.1 261,45.8 C261,45.5 260.9,44.8 261.1,44.6 C261.3,44.4 261.9,44.4 262.3,44.4 C262.7,44.5 262.9,44.6 263.2,44.9 C263.5,45.1 264,45.5 264,45.8Z" fill="#707070" stroke="#2a2a2a" stroke-width="1.0"/>
<path d="M284.6,50 C284.6,50.3 284.1,50.7 283.9,50.9 C283.6,51 283.3,51.1 283,51.1 C282.7,51.2 282.1,51.3 281.9,51.1 C281.6,51 281.3,50.3 281.3,50 C281.4,49.7 281.8,49.3 282.1,49.1 C282.4,48.8 282.7,48.4 283,48.4 C283.3,48.5 283.5,49 283.8,49.2 C284,49.5 284.6,49.7 284.6,50Z" fill="#707070" stroke="#2a2a2a" stroke-width="1.0"/>
<path d="M293.4,40 C293.4,40.4 293.3,40.9 293.1,41.1 C292.8,41.3 292.3,41.3 292,41.3 C291.7,41.2 291.3,41.2 291.1,40.9 C290.8,40.7 290.5,40.3 290.4,40 C290.4,39.7 290.7,39.1 290.9,38.9 C291.2,38.7 291.6,38.8 292,38.8 C292.4,38.8 292.9,38.6 293.2,38.8 C293.4,39 293.4,39.6 293.4,40Z" fill="#707070" stroke="#2a2a2a" stroke-width="1.0"/>
<path d="M271.1,16 C271.2,16.4 271.5,17.1 271.3,17.3 C271.1,17.5 270.4,17.3 270,17.2 C269.6,17.1 269.3,17.1 269.1,16.9 C268.9,16.7 268.9,16.4 268.8,16 C268.7,15.6 268.5,14.9 268.7,14.7 C268.9,14.5 269.6,14.7 270,14.7 C270.4,14.8 270.9,14.7 271.1,14.9 C271.3,15.1 271.1,15.6 271.1,16Z" fill="#707070" stroke="#2a2a2a" stroke-width="1.0"/>
<path d="M359.3,19.9 C362.6,19.7 366,21.5 370.3,22.4 C374.6,23.3 380.5,24.2 385,25.4 C389.5,26.6 393.4,27.8 397.3,29.7 C401.2,31.6 405.4,34.2 408.3,37.1 C411.2,40 413.3,43.8 414.5,46.9 C415.7,50 416.3,52.6 415.7,55.5 C415.1,58.4 413.4,61.8 410.8,64 C408.2,66.2 403.7,67.3 399.8,69 C395.9,70.7 391.6,72.7 387.5,73.9 C383.4,75.1 379.3,76.1 375.2,76.3 C371.1,76.5 366.9,75.7 363,75.1 C359.1,74.5 354.7,74 352,72.6 C349.3,71.2 348.9,69.3 347,66.5 C345.1,63.6 341.9,59 340.9,55.5 C339.9,52 340.3,48.6 340.9,45.7 C341.5,42.8 343.8,41 344.6,38.3 C345.4,35.6 344.8,32.1 345.8,29.7 C346.8,27.2 348.4,25.2 350.7,23.6 C352.9,22 356,20.1 359.3,19.9Z" fill="url(#ghm)"/>
<clipPath id="cphm"><path d="M359.3,19.9 C362.6,19.7 366,21.5 370.3,22.4 C374.6,23.3 380.5,24.2 385,25.4 C389.5,26.6 393.4,27.8 397.3,29.7 C401.2,31.6 405.4,34.2 408.3,37.1 C411.2,40 413.3,43.8 414.5,46.9 C415.7,50 416.3,52.6 415.7,55.5 C415.1,58.4 413.4,61.8 410.8,64 C408.2,66.2 403.7,67.3 399.8,69 C395.9,70.7 391.6,72.7 387.5,73.9 C383.4,75.1 379.3,76.1 375.2,76.3 C371.1,76.5 366.9,75.7 363,75.1 C359.1,74.5 354.7,74 352,72.6 C349.3,71.2 348.9,69.3 347,66.5 C345.1,63.6 341.9,59 340.9,55.5 C339.9,52 340.3,48.6 340.9,45.7 C341.5,42.8 343.8,41 344.6,38.3 C345.4,35.6 344.8,32.1 345.8,29.7 C346.8,27.2 348.4,25.2 350.7,23.6 C352.9,22 356,20.1 359.3,19.9Z"/></clipPath>
<g clip-path="url(#cphm)"><path d="M338,46 C350,41 365,43 380,48 C392,51 402,50 418,46 L418,15 L338,15Z" fill="url(#ghmtop)"/><path d="M341,47 C350,42 365,44 380,49 C392,52 402,51 412,48" fill="none" stroke="#c2c2c2" stroke-width="1.2" opacity="0.7"/><path d="M393,30 L410,38 L405,46 L392,40Z" fill="#7c7c7c" opacity="0.5"/><rect x="338" y="15" width="80" height="65" fill="#707070" filter="url(#fine)" opacity="0.14"/></g>
<path d="M443.1,26.2 C445.8,25.5 452.7,26.1 455.4,26.9 C458.1,27.7 461.5,30.6 463.7,32.4 C465.9,34.2 469,39 471.9,40.6 C474.8,42.2 481.9,44 485.6,44.7 C489.3,45.4 496.7,45 499.4,46.1 C502.1,47.2 504.7,51.4 506.2,52.9 C507.7,54.4 508.8,56.2 510.3,57.1 C511.8,58 516.2,58.9 517.2,59.8 C518.2,60.7 518.6,63.2 517.9,63.9 C517.2,64.6 513.8,64.9 511.7,65.3 C509.6,65.7 504.1,65.6 502.1,66.7 C500.1,67.8 498.4,72.2 496.6,73.5 C494.8,74.8 491.1,76.1 488.4,76.3 C485.7,76.5 479.1,74.9 476,74.9 C472.9,74.9 467.8,75.8 465.1,76.3 C462.4,76.8 457.8,79.4 455.4,79 C453,78.6 449.4,75.5 447.2,73.5 C445,71.5 440.8,66.5 439,63.9 C437.2,61.3 434.5,57.6 433.5,54.3 C432.5,51 431.2,42.1 431.4,39.2 C431.6,36.3 433.3,34.1 434.9,32.4 C436.5,30.7 440.4,26.9 443.1,26.2Z" fill="url(#gmm)"/>
<clipPath id="cpmm"><path d="M443.1,26.2 C445.8,25.5 452.7,26.1 455.4,26.9 C458.1,27.7 461.5,30.6 463.7,32.4 C465.9,34.2 469,39 471.9,40.6 C474.8,42.2 481.9,44 485.6,44.7 C489.3,45.4 496.7,45 499.4,46.1 C502.1,47.2 504.7,51.4 506.2,52.9 C507.7,54.4 508.8,56.2 510.3,57.1 C511.8,58 516.2,58.9 517.2,59.8 C518.2,60.7 518.6,63.2 517.9,63.9 C517.2,64.6 513.8,64.9 511.7,65.3 C509.6,65.7 504.1,65.6 502.1,66.7 C500.1,67.8 498.4,72.2 496.6,73.5 C494.8,74.8 491.1,76.1 488.4,76.3 C485.7,76.5 479.1,74.9 476,74.9 C472.9,74.9 467.8,75.8 465.1,76.3 C462.4,76.8 457.8,79.4 455.4,79 C453,78.6 449.4,75.5 447.2,73.5 C445,71.5 440.8,66.5 439,63.9 C437.2,61.3 434.5,57.6 433.5,54.3 C432.5,51 431.2,42.1 431.4,39.2 C431.6,36.3 433.3,34.1 434.9,32.4 C436.5,30.7 440.4,26.9 443.1,26.2Z"/></clipPath>
<g clip-path="url(#cpmm)"><rect x="430" y="24" width="90" height="57" fill="#555" filter="url(#fine)" opacity="0.22"/><path d="M498,62 C503,59 508,58 512,59 L512,66 C507,67 502,69 497,72Z" fill="#2e2e2e"/><ellipse cx="514.5" cy="62" rx="3.6" ry="3" fill="#8a8a8a"/><path d="M440,70 C455,78 470,74 490,76 L500,70 L505,80 L440,82Z" fill="#5a5a5a" opacity="0.5"/></g>
<path d="M443.1,26.2 C445.8,25.5 452.7,26.1 455.4,26.9 C458.1,27.7 461.5,30.6 463.7,32.4 C465.9,34.2 469,39 471.9,40.6 C474.8,42.2 481.9,44 485.6,44.7 C489.3,45.4 496.7,45 499.4,46.1 C502.1,47.2 504.7,51.4 506.2,52.9 C507.7,54.4 508.8,56.2 510.3,57.1 C511.8,58 516.2,58.9 517.2,59.8 C518.2,60.7 518.6,63.2 517.9,63.9 C517.2,64.6 513.8,64.9 511.7,65.3 C509.6,65.7 504.1,65.6 502.1,66.7 C500.1,67.8 498.4,72.2 496.6,73.5 C494.8,74.8 491.1,76.1 488.4,76.3 C485.7,76.5 479.1,74.9 476,74.9 C472.9,74.9 467.8,75.8 465.1,76.3 C462.4,76.8 457.8,79.4 455.4,79 C453,78.6 449.4,75.5 447.2,73.5 C445,71.5 440.8,66.5 439,63.9 C437.2,61.3 434.5,57.6 433.5,54.3 C432.5,51 431.2,42.1 431.4,39.2 C431.6,36.3 433.3,34.1 434.9,32.4 C436.5,30.7 440.4,26.9 443.1,26.2Z" fill="none" stroke="#6a6a6a" stroke-width="0.7"/>
<path d="M566.2,13.5 568.3,14.3 570.6,14.6 572.9,14.3 575.1,15.1 577.3,15.5 579.5,15.8 581.7,16.5 584,16.8 586.2,17.3 588.4,18 590.8,19.1 593,20.6 595,22.4 594.6,25 594.6,27.6 593.9,30.2 593.7,32.5 593.2,34.7 592.9,36.9 592.5,39.2 591.7,41.3 590.6,43.1 590.1,45.1 589.5,47.1 588.3,48.8 588.1,51 587.1,52.8 586.1,54.6 584.7,56.7 583.6,58.9 582.7,61.2 581.7,63.5 580,64.9 578.1,65.8 576.3,67.1 574.4,68.1 572.6,69.3 570.6,70.1 569.1,71.5 567.2,72.2 565.8,73.7 564.1,74.8 562.1,75.4 560.6,76.8 558.6,77.4 556.5,77.9 554.5,78.5 552.3,78.5 550.3,79 548.2,79.6 546.2,80.1 544.5,78.5 542.4,77.3 540.7,75.6 539.1,73.9 537.3,72.4 536.3,70.6 535,69.1 533.6,67.6 532.2,66 530.6,64.7 529.9,62.7 528.4,61.3 528.5,59.1 529.1,57.1 530,55.1 530.6,53.1 531.1,51 531.3,48.9 531.8,46.8 532.9,44.8 534.1,42.9 535.9,41.4 537.2,39.6 538,37.4 539.5,35.7 541.1,33.9 542.1,31.7 543.4,29.7 544.9,27.8 546.2,25.8 547.7,24.1 549.7,23.1 551.4,21.6 553.4,20.6 555.1,19.1 557,18.2 558.9,17.5 560.8,16.6 562.4,15.2 564.3,14.3Z" fill="url(#glm)"/>
<clipPath id="cplm"><path d="M566.2,13.5 568.3,14.3 570.6,14.6 572.9,14.3 575.1,15.1 577.3,15.5 579.5,15.8 581.7,16.5 584,16.8 586.2,17.3 588.4,18 590.8,19.1 593,20.6 595,22.4 594.6,25 594.6,27.6 593.9,30.2 593.7,32.5 593.2,34.7 592.9,36.9 592.5,39.2 591.7,41.3 590.6,43.1 590.1,45.1 589.5,47.1 588.3,48.8 588.1,51 587.1,52.8 586.1,54.6 584.7,56.7 583.6,58.9 582.7,61.2 581.7,63.5 580,64.9 578.1,65.8 576.3,67.1 574.4,68.1 572.6,69.3 570.6,70.1 569.1,71.5 567.2,72.2 565.8,73.7 564.1,74.8 562.1,75.4 560.6,76.8 558.6,77.4 556.5,77.9 554.5,78.5 552.3,78.5 550.3,79 548.2,79.6 546.2,80.1 544.5,78.5 542.4,77.3 540.7,75.6 539.1,73.9 537.3,72.4 536.3,70.6 535,69.1 533.6,67.6 532.2,66 530.6,64.7 529.9,62.7 528.4,61.3 528.5,59.1 529.1,57.1 530,55.1 530.6,53.1 531.1,51 531.3,48.9 531.8,46.8 532.9,44.8 534.1,42.9 535.9,41.4 537.2,39.6 538,37.4 539.5,35.7 541.1,33.9 542.1,31.7 543.4,29.7 544.9,27.8 546.2,25.8 547.7,24.1 549.7,23.1 551.4,21.6 553.4,20.6 555.1,19.1 557,18.2 558.9,17.5 560.8,16.6 562.4,15.2 564.3,14.3Z"/></clipPath>
<g clip-path="url(#cplm)"><rect x="528" y="12" width="70" height="70" fill="#000" filter="url(#rk2)" opacity="0.3"/><path d="M596,24 L584,36 L576,52 L562,66 L546,81 L600,81 L600,20Z" fill="#1e1e1e"/><path d="M546,26 L566,13 L590,18 L584,24 L563,26 L558,30Z" fill="#6c6c6c"/><rect x="528" y="12" width="70" height="70" fill="#8a8a8a" filter="url(#spk)" opacity="0.3"/><rect x="528" y="12" width="70" height="70" fill="#222" filter="url(#spk)" opacity="0.25" transform="translate(1,1)"/></g>
<circle cx="645" cy="46" r="31.1" fill="url(#gbead)"/>
<ellipse cx="628.5" cy="38.6" rx="2.3" ry="1.2" fill="#8a8a8a"/>
<path d="M645.5,49 L650,42.5 L653,49.5 Z" fill="#9a9a9a"/><path d="M650,42.5 L653,49.5 L648,50 Z" fill="#7c7c7c"/>
<path d="M660,20 C664,24 666,30 665,34 C662,31 660,26 658,22Z" fill="#8c8c8c"/>
<text transform="translate(-0.7,17.1) scale(1.18,1)" font-size="22.5" font-weight="bold" fill="#000" style="stroke:#000;stroke-width:1.4px;stroke-linejoin:round">a</text>
<text transform="translate(-0.5,141.0) scale(1.18,1)" font-size="22.5" font-weight="bold" fill="#000" style="stroke:#000;stroke-width:1.4px;stroke-linejoin:round">b</text>
<text transform="translate(0.6,486.5) scale(1.18,1)" font-size="22.5" font-weight="bold" fill="#000" style="stroke:#000;stroke-width:1.4px;stroke-linejoin:round">c</text>
<text transform="translate(-0.44,760.8) scale(1.18,1)" font-size="22.5" font-weight="bold" fill="#000" style="stroke:#000;stroke-width:1.4px;stroke-linejoin:round">d</text>
<text transform="translate(381.2,761.6) scale(1.18,1)" font-size="22.5" font-weight="bold" fill="#000" style="stroke:#000;stroke-width:1.4px;stroke-linejoin:round">e</text>
<text class="b" x="95.3" y="108.5" font-size="16.8" text-anchor="middle" font-weight="normal" fill="#111" >Basalt</text>
<text class="b" x="183.2" y="108.6" font-size="16.8" text-anchor="middle" font-weight="normal" fill="#111" >Breccia</text>
<text class="b" x="283.3" y="108.6" font-size="16.8" text-anchor="middle" font-weight="normal" fill="#111" >Agglutinate</text>
<text class="b" x="379.9" y="108.7" font-size="16.8" text-anchor="middle" font-weight="normal" fill="#111" >Hm</text>
<text class="b" x="472.9" y="106.9" font-size="16.8" text-anchor="middle" font-weight="normal" fill="#111" >Mm</text>
<text class="b" x="561.5" y="106.9" font-size="16.8" text-anchor="middle" font-weight="normal" fill="#111" >Lm</text>
<text class="b" x="643.8" y="106.9" font-size="16.8" text-anchor="middle" font-weight="normal" fill="#111" >Glass bead</text>
<rect x="95.5" y="120.5" width="501.5" height="19" fill="#fff" stroke="#111" stroke-width="1.3"/>
<path d="M107,129.9 H133.8" stroke="#ea5461" stroke-width="1.4"/>
<path d="M243.7,129.9 H270" stroke="#4b90d5" stroke-width="1.4"/>
<path d="M382.4,129.9 H408" stroke="#f5a65b" stroke-width="1.4"/>
<text class="b" x="138.6" y="133.9" font-size="12.6" text-anchor="start" font-weight="normal" fill="#000" >Chang'e-5 particle</text>
<text class="b" x="275.8" y="133.9" font-size="12.6" text-anchor="start" font-weight="normal" fill="#000" >Chang'e-6 particle</text>
<text class="b" x="410.2" y="133.9" font-size="12.6" text-anchor="start" font-weight="normal" fill="#000" >Lunar regolith simulant (IGG-01)</text>
<clipPath id="clipb00"><rect x="44.6" y="152.4" width="130.9" height="72.2"/></clipPath>
<g clip-path="url(#clipb00)">
<path d="M76.6,223.6 78.1,223.5 79.5,223.3 81,223.1 82.6,222.8 84.1,222.5 85.5,222.2 87,221.9 88.5,221.5 89.9,221 91.4,220.3 92.8,219.4 94.3,218.4 95.7,217.3 97.2,216 98.8,214.6 100.3,213.2 101.7,211.7 103.2,210 104.7,208.1 106.1,206.2 107.6,204.2 109,202.2 110.5,200.3 111.9,198.2 113.6,195.9 115,193.9 116.5,192 118,190.2 119.4,188.7 120.9,187.4 122.3,186.5 123.8,186.3 125.2,186.4 126.7,186.6 128.2,186.5 129.8,186 131.2,185.7 132.7,185.8 134.2,186.7 135.6,188 137.1,189.9 138.5,192.1 140,194.5 141.4,197 142.9,199.3 144.5,201.7 146,203.7 147.5,205.6 148.9,207.4 150.4,209.3 151.8,211.1 153.3,213 154.7,215 156.2,216.9 157.7,218.7 159.1,220.3 160.7,221.5 162.2,222.3 163.7,222.9 165.1,223.2 166.6,223.5 168,223.7 168,226.8 76.6,226.8Z" fill="rgba(74,143,210,0.13)"/>
<path d="M70,223.6 71.6,223.6 73.1,223.4 74.9,223.3 76.4,223.2 78,223 79.5,222.9 81,222.6 82.6,222.4 84.1,222 85.7,221.6 87.2,221.1 88.8,220.5 90.3,219.7 92.1,218.5 93.6,217.2 95.1,215.8 96.7,214.3 98.2,212.8 99.8,211.2 101.3,209.6 102.9,207.9 104.4,206.1 105.9,204.2 107.7,202.1 109.2,200.2 110.8,198.3 112.3,196.4 113.9,194.4 115.4,192.5 117,190.6 118.5,188.9 120,187.4 121.6,186.1 123.1,185.1 124.9,184.3 126.4,183.9 128,184 129.5,184.5 131,185.4 132.6,186.6 134.1,188 135.7,189.7 137.2,191.7 138.8,194 140.5,196.7 142,199 143.6,201.1 145.1,203 146.7,204.9 148.2,206.7 149.8,208.5 151.3,210.3 152.9,212.2 154.4,214.2 155.9,216.3 157.7,218.5 159.2,220.2 160.8,221.5 162.3,222.4 163.9,223.1 165.4,223.5 166.9,223.7 166.9,226.8 70,226.8Z" fill="rgba(236,80,84,0.15)"/>
<path d="M76.6,223.6 78.1,223.5 79.5,223.3 81,223.1 82.6,222.8 84.1,222.5 85.5,222.2 87,221.9 88.5,221.5 89.9,221 91.4,220.3 92.8,219.4 94.3,218.4 95.7,217.3 97.2,216 98.8,214.6 100.3,213.2 101.7,211.7 103.2,210 104.7,208.1 106.1,206.2 107.6,204.2 109,202.2 110.5,200.3 111.9,198.2 113.6,195.9 115,193.9 116.5,192 118,190.2 119.4,188.7 120.9,187.4 122.3,186.5 123.8,186.3 125.2,186.4 126.7,186.6 128.2,186.5 129.8,186 131.2,185.7 132.7,185.8 134.2,186.7 135.6,188 137.1,189.9 138.5,192.1 140,194.5 141.4,197 142.9,199.3 144.5,201.7 146,203.7 147.5,205.6 148.9,207.4 150.4,209.3 151.8,211.1 153.3,213 154.7,215 156.2,216.9 157.7,218.7 159.1,220.3 160.7,221.5 162.2,222.3 163.7,222.9 165.1,223.2 166.6,223.5 168,223.7" fill="none" stroke="#4b90d5" stroke-width="1.25" stroke-linejoin="round"/>
<path d="M70,223.6 71.6,223.6 73.1,223.4 74.9,223.3 76.4,223.2 78,223 79.5,222.9 81,222.6 82.6,222.4 84.1,222 85.7,221.6 87.2,221.1 88.8,220.5 90.3,219.7 92.1,218.5 93.6,217.2 95.1,215.8 96.7,214.3 98.2,212.8 99.8,211.2 101.3,209.6 102.9,207.9 104.4,206.1 105.9,204.2 107.7,202.1 109.2,200.2 110.8,198.3 112.3,196.4 113.9,194.4 115.4,192.5 117,190.6 118.5,188.9 120,187.4 121.6,186.1 123.1,185.1 124.9,184.3 126.4,183.9 128,184 129.5,184.5 131,185.4 132.6,186.6 134.1,188 135.7,189.7 137.2,191.7 138.8,194 140.5,196.7 142,199 143.6,201.1 145.1,203 146.7,204.9 148.2,206.7 149.8,208.5 151.3,210.3 152.9,212.2 154.4,214.2 155.9,216.3 157.7,218.5 159.2,220.2 160.8,221.5 162.3,222.4 163.9,223.1 165.4,223.5 166.9,223.7" fill="none" stroke="#ea5461" stroke-width="1.25" stroke-linejoin="round"/>
</g>
<path d="M55.5,152.4 v1.2 M55.5,223 v-1.2 M66.4,152.4 v1.8 M66.4,223 v-1.8 M77.3,152.4 v1.2 M77.3,223 v-1.2 M88.2,152.4 v1.8 M88.2,223 v-1.8 M99.1,152.4 v1.2 M99.1,223 v-1.2 M110,152.4 v1.8 M110,223 v-1.8 M121,152.4 v1.2 M121,223 v-1.2 M131.9,152.4 v1.8 M131.9,223 v-1.8 M142.8,152.4 v1.2 M142.8,223 v-1.2 M153.7,152.4 v1.8 M153.7,223 v-1.8 M164.6,152.4 v1.2 M164.6,223 v-1.2 M44.6,208.8 h1.8 M175.5,208.8 h-1.8 M44.6,193.8 h1.8 M175.5,193.8 h-1.8 M44.6,178.8 h1.8 M175.5,178.8 h-1.8 M44.6,163.8 h1.8 M175.5,163.8 h-1.8" stroke="#222" stroke-width="0.9" fill="none"/>
<rect x="44.6" y="152.4" width="130.9" height="70.6" fill="none" stroke="#1a1a1a" stroke-width="1.05"/>
<text x="42.8" y="212.3" font-size="9.8" text-anchor="end" font-weight="normal" fill="#1a1a1a" >2</text>
<text x="42.8" y="197.3" font-size="9.8" text-anchor="end" font-weight="normal" fill="#1a1a1a" >4</text>
<text x="42.8" y="182.3" font-size="9.8" text-anchor="end" font-weight="normal" fill="#1a1a1a" >6</text>
<text x="42.8" y="167.3" font-size="9.8" text-anchor="end" font-weight="normal" fill="#1a1a1a" >8</text>
<clipPath id="clipb10"><rect x="44.6" y="223" width="130.9" height="72.9"/></clipPath>
<g clip-path="url(#clipb10)">
<path d="M71.7,294.9 73.1,294.6 74.4,293.9 75.8,293.3 77.2,292.7 78.5,292.4 79.9,292.2 81.5,292 82.8,292 84.2,291.9 85.6,291.9 87,291.8 88.3,291.7 89.7,291.5 91.1,291.2 92.4,290.9 93.8,290.5 95.2,290 96.7,289.4 98.1,288.8 99.5,287.9 100.9,286.8 102.2,285.3 103.6,283 105,280.1 106.3,276.7 107.7,273.2 109.1,269.9 110.6,266.6 112,264.2 113.4,262.2 114.7,260.5 116.1,259 117.5,257.8 118.9,256.9 120.2,256.3 121.6,255.9 123,255.6 124.4,255.6 125.9,255.7 127.3,255.9 128.6,256.2 130,256.6 131.4,257 132.8,257.6 134.1,258.3 135.5,259.2 136.9,260.4 138.2,261.7 139.8,263.5 141.2,265.4 142.5,267.7 143.9,270.2 145.3,272.9 146.7,275.3 148,277.6 149.4,279.8 150.8,281.9 152.1,283.9 153.5,285.7 155.1,287.5 156.4,289 157.8,290.4 159.2,291.7 160.5,293 161.9,294.1 163.3,294.8 164.7,295 164.7,298.1 71.7,298.1Z" fill="rgba(74,143,210,0.13)"/>
<path d="M83.7,295 85,294.8 86.3,294.4 87.7,293.8 89,293.1 90.3,292.5 91.6,291.8 93.1,291 94.4,290.2 95.7,289.4 97.1,288.5 98.4,287.5 99.7,286.3 101,285 102.3,283.4 103.7,281.3 105,279 106.3,276.4 107.8,273.4 109.1,270.8 110.4,268.5 111.7,266.5 113.1,264.8 114.4,263.3 115.7,261.9 117,260.5 118.3,259.3 119.7,258.1 121.1,256.8 122.5,255.7 123.8,254.7 125.1,253.6 126.4,252.7 127.7,251.9 129.1,251.2 130.4,250.6 131.7,250.1 133,249.7 134.3,249.7 135.8,250.2 137.2,251.4 138.5,253.2 139.8,255.6 141.1,258.4 142.4,261.7 143.8,265.3 145.1,269.1 146.4,272.6 147.7,275.9 149.2,279.3 150.5,282.1 151.8,284.6 153.2,286.5 154.5,287.8 155.8,288.8 157.1,289.4 158.4,290 159.8,290.4 161.1,290.9 162.4,291.3 163.9,291.9 165.2,292.4 166.5,293 167.8,293.6 169.2,294.2 170.5,294.7 171.8,295 171.8,298.1 83.7,298.1Z" fill="rgba(236,80,84,0.15)"/>
<path d="M71.7,294.9 73.1,294.6 74.4,293.9 75.8,293.3 77.2,292.7 78.5,292.4 79.9,292.2 81.5,292 82.8,292 84.2,291.9 85.6,291.9 87,291.8 88.3,291.7 89.7,291.5 91.1,291.2 92.4,290.9 93.8,290.5 95.2,290 96.7,289.4 98.1,288.8 99.5,287.9 100.9,286.8 102.2,285.3 103.6,283 105,280.1 106.3,276.7 107.7,273.2 109.1,269.9 110.6,266.6 112,264.2 113.4,262.2 114.7,260.5 116.1,259 117.5,257.8 118.9,256.9 120.2,256.3 121.6,255.9 123,255.6 124.4,255.6 125.9,255.7 127.3,255.9 128.6,256.2 130,256.6 131.4,257 132.8,257.6 134.1,258.3 135.5,259.2 136.9,260.4 138.2,261.7 139.8,263.5 141.2,265.4 142.5,267.7 143.9,270.2 145.3,272.9 146.7,275.3 148,277.6 149.4,279.8 150.8,281.9 152.1,283.9 153.5,285.7 155.1,287.5 156.4,289 157.8,290.4 159.2,291.7 160.5,293 161.9,294.1 163.3,294.8 164.7,295" fill="none" stroke="#4b90d5" stroke-width="1.25" stroke-linejoin="round"/>
<path d="M83.7,295 85,294.8 86.3,294.4 87.7,293.8 89,293.1 90.3,292.5 91.6,291.8 93.1,291 94.4,290.2 95.7,289.4 97.1,288.5 98.4,287.5 99.7,286.3 101,285 102.3,283.4 103.7,281.3 105,279 106.3,276.4 107.8,273.4 109.1,270.8 110.4,268.5 111.7,266.5 113.1,264.8 114.4,263.3 115.7,261.9 117,260.5 118.3,259.3 119.7,258.1 121.1,256.8 122.5,255.7 123.8,254.7 125.1,253.6 126.4,252.7 127.7,251.9 129.1,251.2 130.4,250.6 131.7,250.1 133,249.7 134.3,249.7 135.8,250.2 137.2,251.4 138.5,253.2 139.8,255.6 141.1,258.4 142.4,261.7 143.8,265.3 145.1,269.1 146.4,272.6 147.7,275.9 149.2,279.3 150.5,282.1 151.8,284.6 153.2,286.5 154.5,287.8 155.8,288.8 157.1,289.4 158.4,290 159.8,290.4 161.1,290.9 162.4,291.3 163.9,291.9 165.2,292.4 166.5,293 167.8,293.6 169.2,294.2 170.5,294.7 171.8,295" fill="none" stroke="#ea5461" stroke-width="1.25" stroke-linejoin="round"/>
</g>
<path d="M55.5,223 v1.2 M55.5,294.3 v-1.2 M66.4,223 v1.8 M66.4,294.3 v-1.8 M77.3,223 v1.2 M77.3,294.3 v-1.2 M88.2,223 v1.8 M88.2,294.3 v-1.8 M99.1,223 v1.2 M99.1,294.3 v-1.2 M110,223 v1.8 M110,294.3 v-1.8 M121,223 v1.2 M121,294.3 v-1.2 M131.9,223 v1.8 M131.9,294.3 v-1.8 M142.8,223 v1.2 M142.8,294.3 v-1.2 M153.7,223 v1.8 M153.7,294.3 v-1.8 M164.6,223 v1.2 M164.6,294.3 v-1.2 M44.6,280.1 h1.8 M175.5,280.1 h-1.8 M44.6,265.1 h1.8 M175.5,265.1 h-1.8 M44.6,250.1 h1.8 M175.5,250.1 h-1.8 M44.6,235.1 h1.8 M175.5,235.1 h-1.8" stroke="#222" stroke-width="0.9" fill="none"/>
<rect x="44.6" y="223" width="130.9" height="71.3" fill="none" stroke="#1a1a1a" stroke-width="1.05"/>
<text x="42.8" y="283.6" font-size="9.8" text-anchor="end" font-weight="normal" fill="#1a1a1a" >2</text>
<text x="42.8" y="268.6" font-size="9.8" text-anchor="end" font-weight="normal" fill="#1a1a1a" >4</text>
<text x="42.8" y="253.6" font-size="9.8" text-anchor="end" font-weight="normal" fill="#1a1a1a" >6</text>
<text x="42.8" y="238.6" font-size="9.8" text-anchor="end" font-weight="normal" fill="#1a1a1a" >8</text>
<clipPath id="clipb20"><rect x="44.6" y="294.3" width="130.9" height="72.6"/></clipPath>
<g clip-path="url(#clipb20)">
<path d="M78.7,366 80.1,365.8 81.6,365.5 83,365.2 84.4,364.8 86,364.4 87.5,363.9 88.9,363.5 90.3,363 91.8,362.6 93.2,362 94.6,361.3 96.1,360.4 97.5,359.3 98.9,358.1 100.3,356.8 102,355.1 103.4,353.6 104.8,352 106.2,350.3 107.7,348.4 109.1,346.2 110.5,344 112,341.6 113.4,339.2 114.8,336.9 116.4,334.5 117.9,332.6 119.3,330.7 120.7,329 122.2,327.4 123.6,326.2 125,325.2 126.5,324.5 127.9,324 129.3,323.7 130.7,323.9 132.4,324.6 133.8,325.6 135.2,326.9 136.7,328.4 138.1,330.1 139.5,332.1 140.9,334.3 142.4,336.5 143.8,338.9 145.2,341.3 146.8,344 148.3,346.3 149.7,348.5 151.1,350.4 152.6,352.2 154,353.9 155.4,355.5 156.9,357 158.3,358.5 159.7,360 161.2,361.3 162.8,362.7 164.2,363.6 165.6,364.4 167.1,365 168.5,365.6 169.9,365.9 169.9,369.1 78.7,369.1Z" fill="rgba(74,143,210,0.13)"/>
<path d="M77.4,365.9 78.9,365.7 80.3,365.3 81.8,364.9 83.2,364.4 84.7,363.9 86.3,363.4 87.8,362.8 89.2,362.3 90.7,361.7 92.2,361 93.6,360.3 95.1,359.5 96.5,358.6 98,357.6 99.4,356.4 100.9,355.2 102.5,353.5 104,351.7 105.5,349.9 106.9,347.9 108.4,345.8 109.8,343.8 111.3,341.7 112.7,339.6 114.2,337.4 115.7,335.2 117.3,332.8 118.7,330.7 120.2,328.8 121.7,327 123.1,325.4 124.6,324.3 126,323.8 127.5,324 128.9,324.8 130.4,325.9 131.9,327.3 133.5,329.4 135,331.6 136.4,334.1 137.9,336.4 139.3,338.6 140.8,340.5 142.2,342.4 143.7,344.2 145.2,346 146.6,347.7 148.3,349.7 149.7,351.4 151.2,353.1 152.6,354.7 154.1,356.1 155.5,357.5 157,358.8 158.4,360 159.9,361.2 161.4,362.2 162.8,363 164.5,363.8 165.9,364.4 167.4,364.9 168.8,365.4 170.3,365.7 171.7,366 171.7,369.1 77.4,369.1Z" fill="rgba(236,80,84,0.15)"/>
<path d="M78.7,366 80.1,365.8 81.6,365.5 83,365.2 84.4,364.8 86,364.4 87.5,363.9 88.9,363.5 90.3,363 91.8,362.6 93.2,362 94.6,361.3 96.1,360.4 97.5,359.3 98.9,358.1 100.3,356.8 102,355.1 103.4,353.6 104.8,352 106.2,350.3 107.7,348.4 109.1,346.2 110.5,344 112,341.6 113.4,339.2 114.8,336.9 116.4,334.5 117.9,332.6 119.3,330.7 120.7,329 122.2,327.4 123.6,326.2 125,325.2 126.5,324.5 127.9,324 129.3,323.7 130.7,323.9 132.4,324.6 133.8,325.6 135.2,326.9 136.7,328.4 138.1,330.1 139.5,332.1 140.9,334.3 142.4,336.5 143.8,338.9 145.2,341.3 146.8,344 148.3,346.3 149.7,348.5 151.1,350.4 152.6,352.2 154,353.9 155.4,355.5 156.9,357 158.3,358.5 159.7,360 161.2,361.3 162.8,362.7 164.2,363.6 165.6,364.4 167.1,365 168.5,365.6 169.9,365.9" fill="none" stroke="#4b90d5" stroke-width="1.25" stroke-linejoin="round"/>
<path d="M77.4,365.9 78.9,365.7 80.3,365.3 81.8,364.9 83.2,364.4 84.7,363.9 86.3,363.4 87.8,362.8 89.2,362.3 90.7,361.7 92.2,361 93.6,360.3 95.1,359.5 96.5,358.6 98,357.6 99.4,356.4 100.9,355.2 102.5,353.5 104,351.7 105.5,349.9 106.9,347.9 108.4,345.8 109.8,343.8 111.3,341.7 112.7,339.6 114.2,337.4 115.7,335.2 117.3,332.8 118.7,330.7 120.2,328.8 121.7,327 123.1,325.4 124.6,324.3 126,323.8 127.5,324 128.9,324.8 130.4,325.9 131.9,327.3 133.5,329.4 135,331.6 136.4,334.1 137.9,336.4 139.3,338.6 140.8,340.5 142.2,342.4 143.7,344.2 145.2,346 146.6,347.7 148.3,349.7 149.7,351.4 151.2,353.1 152.6,354.7 154.1,356.1 155.5,357.5 157,358.8 158.4,360 159.9,361.2 161.4,362.2 162.8,363 164.5,363.8 165.9,364.4 167.4,364.9 168.8,365.4 170.3,365.7 171.7,366" fill="none" stroke="#ea5461" stroke-width="1.25" stroke-linejoin="round"/>
</g>
<path d="M55.5,294.3 v1.2 M55.5,365.3 v-1.2 M66.4,294.3 v1.8 M66.4,365.3 v-1.8 M77.3,294.3 v1.2 M77.3,365.3 v-1.2 M88.2,294.3 v1.8 M88.2,365.3 v-1.8 M99.1,294.3 v1.2 M99.1,365.3 v-1.2 M110,294.3 v1.8 M110,365.3 v-1.8 M121,294.3 v1.2 M121,365.3 v-1.2 M131.9,294.3 v1.8 M131.9,365.3 v-1.8 M142.8,294.3 v1.2 M142.8,365.3 v-1.2 M153.7,294.3 v1.8 M153.7,365.3 v-1.8 M164.6,294.3 v1.2 M164.6,365.3 v-1.2 M44.6,351.1 h1.8 M175.5,351.1 h-1.8 M44.6,336.1 h1.8 M175.5,336.1 h-1.8 M44.6,321.1 h1.8 M175.5,321.1 h-1.8 M44.6,306.1 h1.8 M175.5,306.1 h-1.8" stroke="#222" stroke-width="0.9" fill="none"/>
<rect x="44.6" y="294.3" width="130.9" height="71" fill="none" stroke="#1a1a1a" stroke-width="1.05"/>
<text x="42.8" y="354.6" font-size="9.8" text-anchor="end" font-weight="normal" fill="#1a1a1a" >2</text>
<text x="42.8" y="339.6" font-size="9.8" text-anchor="end" font-weight="normal" fill="#1a1a1a" >4</text>
<text x="42.8" y="324.6" font-size="9.8" text-anchor="end" font-weight="normal" fill="#1a1a1a" >6</text>
<text x="42.8" y="309.6" font-size="9.8" text-anchor="end" font-weight="normal" fill="#1a1a1a" >8</text>
<clipPath id="clipb30"><rect x="44.6" y="365.3" width="130.9" height="72.2"/></clipPath>
<g clip-path="url(#clipb30)">
<path d="M47.1,436.5 48.8,436.3 50.6,435.9 52.3,435.4 54,435 55.7,434.5 57.4,434 59.4,433.4 61.1,432.9 62.8,432.3 64.5,431.7 66.2,431.1 68,430.3 69.7,429.5 71.4,428.6 73.1,427.6 74.8,426.5 76.6,425.2 78.5,423.9 80.2,422.7 81.9,421.5 83.6,420.3 85.4,419.1 87.1,417.9 88.8,416.9 90.5,415.8 92.2,414.9 94,414 95.9,412.9 97.6,412 99.3,410.9 101.1,409.8 102.8,408.6 104.5,407.6 106.2,407.1 107.9,406.8 109.6,406.7 111.4,406.9 113.1,407.2 115,407.7 116.7,408.4 118.5,409.4 120.2,410.7 121.9,412 123.6,413.3 125.3,414.6 127.1,415.7 128.8,416.8 130.5,417.8 132.4,419 134.1,420.1 135.9,421.3 137.6,422.5 139.3,423.8 141,425.3 142.7,427 144.5,428.7 146.2,430.2 147.9,431.6 149.6,432.7 151.5,433.6 153.3,434.2 155,434.9 156.7,435.5 158.4,436 160.1,436.4 161.9,436.6 161.9,439.7 47.1,439.7Z" fill="rgba(245,166,91,0.16)"/>
<path d="M47.1,436.5 48.8,436.3 50.6,435.9 52.3,435.4 54,435 55.7,434.5 57.4,434 59.4,433.4 61.1,432.9 62.8,432.3 64.5,431.7 66.2,431.1 68,430.3 69.7,429.5 71.4,428.6 73.1,427.6 74.8,426.5 76.6,425.2 78.5,423.9 80.2,422.7 81.9,421.5 83.6,420.3 85.4,419.1 87.1,417.9 88.8,416.9 90.5,415.8 92.2,414.9 94,414 95.9,412.9 97.6,412 99.3,410.9 101.1,409.8 102.8,408.6 104.5,407.6 106.2,407.1 107.9,406.8 109.6,406.7 111.4,406.9 113.1,407.2 115,407.7 116.7,408.4 118.5,409.4 120.2,410.7 121.9,412 123.6,413.3 125.3,414.6 127.1,415.7 128.8,416.8 130.5,417.8 132.4,419 134.1,420.1 135.9,421.3 137.6,422.5 139.3,423.8 141,425.3 142.7,427 144.5,428.7 146.2,430.2 147.9,431.6 149.6,432.7 151.5,433.6 153.3,434.2 155,434.9 156.7,435.5 158.4,436 160.1,436.4 161.9,436.6" fill="none" stroke="#f5a65b" stroke-width="1.25" stroke-linejoin="round"/>
</g>
<path d="M55.5,365.3 v1.2 M55.5,435.9 v-1.2 M66.4,365.3 v1.8 M66.4,435.9 v-1.8 M77.3,365.3 v1.2 M77.3,435.9 v-1.2 M88.2,365.3 v1.8 M88.2,435.9 v-1.8 M99.1,365.3 v1.2 M99.1,435.9 v-1.2 M110,365.3 v1.8 M110,435.9 v-1.8 M121,365.3 v1.2 M121,435.9 v-1.2 M131.9,365.3 v1.8 M131.9,435.9 v-1.8 M142.8,365.3 v1.2 M142.8,435.9 v-1.2 M153.7,365.3 v1.8 M153.7,435.9 v-1.8 M164.6,365.3 v1.2 M164.6,435.9 v-1.2 M44.6,421.7 h1.8 M175.5,421.7 h-1.8 M44.6,406.7 h1.8 M175.5,406.7 h-1.8 M44.6,391.7 h1.8 M175.5,391.7 h-1.8 M44.6,376.7 h1.8 M175.5,376.7 h-1.8" stroke="#222" stroke-width="0.9" fill="none"/>
<rect x="44.6" y="365.3" width="130.9" height="70.6" fill="none" stroke="#1a1a1a" stroke-width="1.05"/>
<text x="42.8" y="425.2" font-size="9.8" text-anchor="end" font-weight="normal" fill="#1a1a1a" >2</text>
<text x="42.8" y="410.2" font-size="9.8" text-anchor="end" font-weight="normal" fill="#1a1a1a" >4</text>
<text x="42.8" y="395.2" font-size="9.8" text-anchor="end" font-weight="normal" fill="#1a1a1a" >6</text>
<text x="42.8" y="380.2" font-size="9.8" text-anchor="end" font-weight="normal" fill="#1a1a1a" >8</text>
<clipPath id="clipb01"><rect x="201.8" y="152.4" width="130.3" height="72.2"/></clipPath>
<g clip-path="url(#clipb01)">
<path d="M236.5,223.7 237.7,223.5 238.9,223.1 240.2,222.6 241.4,222 242.7,221.4 243.9,220.9 245.1,220.4 246.5,219.8 247.8,219.2 249,218.6 250.3,218 251.5,217.4 252.7,216.8 254,216.1 255.2,215.5 256.5,214.8 257.7,214.2 258.9,213.5 260.3,212.8 261.6,212.1 262.8,211.3 264.1,210.6 265.3,209.8 266.5,209 267.8,208.1 269,207.2 270.3,206.2 271.5,205.1 272.9,203.8 274.1,202.6 275.4,201.1 276.6,199.5 277.8,197.7 279.1,195.7 280.3,193.6 281.6,191.6 282.8,189.6 284,187.5 285.3,185.5 286.7,183.4 287.9,181.6 289.2,180 290.4,178.5 291.6,177.1 292.9,176.1 294.1,175.6 295.4,175.7 296.6,176.3 297.8,177.5 299.2,179.6 300.5,182.2 301.7,185.6 303,189.8 304.2,194.2 305.4,198.4 306.7,202.3 307.9,205.8 309.2,209 310.4,211.9 311.6,214.4 313,216.6 314.3,218.2 315.5,219.6 316.8,220.9 318,222 319.2,222.9 320.5,223.5 321.7,223.7 321.7,226.8 236.5,226.8Z" fill="rgba(74,143,210,0.13)"/>
<path d="M235.8,223.6 237.1,223.5 238.3,223.2 239.6,222.8 240.8,222.4 242.1,221.8 243.5,221 244.8,220.4 246,219.8 247.3,219.2 248.6,218.7 249.8,218.2 251.1,217.7 252.4,217.2 253.6,216.7 254.9,216.2 256.1,215.6 257.6,214.9 258.8,214.3 260.1,213.7 261.3,213 262.6,212.3 263.9,211.5 265.1,210.7 266.4,209.8 267.7,208.8 268.9,207.7 270.3,206.3 271.6,204.9 272.9,203.4 274.1,201.9 275.4,200.2 276.6,198.3 277.9,196.3 279.2,194.2 280.4,192.1 281.7,189.9 283,187.8 284.4,185.4 285.6,183.3 286.9,181.3 288.2,179.3 289.4,177.5 290.7,175.7 291.9,174.2 293.2,173.1 294.5,172.7 295.7,173.2 297.1,174.6 298.4,176.7 299.7,179.5 300.9,183.1 302.2,187.6 303.5,192.5 304.7,197.5 306,201.9 307.2,205.9 308.5,209.4 309.8,212.6 311.2,215.6 312.4,217.6 313.7,219.3 315,220.6 316.2,221.8 317.5,222.8 318.8,223.4 320,223.7 320,226.8 235.8,226.8Z" fill="rgba(236,80,84,0.15)"/>
<path d="M236.5,223.7 237.7,223.5 238.9,223.1 240.2,222.6 241.4,222 242.7,221.4 243.9,220.9 245.1,220.4 246.5,219.8 247.8,219.2 249,218.6 250.3,218 251.5,217.4 252.7,216.8 254,216.1 255.2,215.5 256.5,214.8 257.7,214.2 258.9,213.5 260.3,212.8 261.6,212.1 262.8,211.3 264.1,210.6 265.3,209.8 266.5,209 267.8,208.1 269,207.2 270.3,206.2 271.5,205.1 272.9,203.8 274.1,202.6 275.4,201.1 276.6,199.5 277.8,197.7 279.1,195.7 280.3,193.6 281.6,191.6 282.8,189.6 284,187.5 285.3,185.5 286.7,183.4 287.9,181.6 289.2,180 290.4,178.5 291.6,177.1 292.9,176.1 294.1,175.6 295.4,175.7 296.6,176.3 297.8,177.5 299.2,179.6 300.5,182.2 301.7,185.6 303,189.8 304.2,194.2 305.4,198.4 306.7,202.3 307.9,205.8 309.2,209 310.4,211.9 311.6,214.4 313,216.6 314.3,218.2 315.5,219.6 316.8,220.9 318,222 319.2,222.9 320.5,223.5 321.7,223.7" fill="none" stroke="#4b90d5" stroke-width="1.25" stroke-linejoin="round"/>
<path d="M235.8,223.6 237.1,223.5 238.3,223.2 239.6,222.8 240.8,222.4 242.1,221.8 243.5,221 244.8,220.4 246,219.8 247.3,219.2 248.6,218.7 249.8,218.2 251.1,217.7 252.4,217.2 253.6,216.7 254.9,216.2 256.1,215.6 257.6,214.9 258.8,214.3 260.1,213.7 261.3,213 262.6,212.3 263.9,211.5 265.1,210.7 266.4,209.8 267.7,208.8 268.9,207.7 270.3,206.3 271.6,204.9 272.9,203.4 274.1,201.9 275.4,200.2 276.6,198.3 277.9,196.3 279.2,194.2 280.4,192.1 281.7,189.9 283,187.8 284.4,185.4 285.6,183.3 286.9,181.3 288.2,179.3 289.4,177.5 290.7,175.7 291.9,174.2 293.2,173.1 294.5,172.7 295.7,173.2 297.1,174.6 298.4,176.7 299.7,179.5 300.9,183.1 302.2,187.6 303.5,192.5 304.7,197.5 306,201.9 307.2,205.9 308.5,209.4 309.8,212.6 311.2,215.6 312.4,217.6 313.7,219.3 315,220.6 316.2,221.8 317.5,222.8 318.8,223.4 320,223.7" fill="none" stroke="#ea5461" stroke-width="1.25" stroke-linejoin="round"/>
</g>
<path d="M218.1,152.4 v1.2 M218.1,223 v-1.2 M234.4,152.4 v1.8 M234.4,223 v-1.8 M250.7,152.4 v1.2 M250.7,223 v-1.2 M266.9,152.4 v1.8 M266.9,223 v-1.8 M283.2,152.4 v1.2 M283.2,223 v-1.2 M299.5,152.4 v1.8 M299.5,223 v-1.8 M315.8,152.4 v1.2 M315.8,223 v-1.2 M201.8,204.4 h1.8 M332.1,204.4 h-1.8 M201.8,185 h1.8 M332.1,185 h-1.8 M201.8,165.6 h1.8 M332.1,165.6 h-1.8" stroke="#222" stroke-width="0.9" fill="none"/>
<rect x="201.8" y="152.4" width="130.3" height="70.6" fill="none" stroke="#1a1a1a" stroke-width="1.05"/>
<text x="200" y="207.9" font-size="9.8" text-anchor="end" font-weight="normal" fill="#1a1a1a" >2</text>
<text x="200" y="188.5" font-size="9.8" text-anchor="end" font-weight="normal" fill="#1a1a1a" >4</text>
<text x="200" y="169.1" font-size="9.8" text-anchor="end" font-weight="normal" fill="#1a1a1a" >6</text>
<clipPath id="clipb11"><rect x="201.8" y="223" width="130.3" height="72.9"/></clipPath>
<g clip-path="url(#clipb11)">
<path d="M214.8,294.9 216.2,294.6 217.6,294.1 219,293.5 220.4,292.8 221.8,292 223.1,291.1 224.7,289.7 226.1,288.2 227.5,286.2 228.9,284.1 230.3,281.8 231.6,279.4 233,277.1 234.4,274.8 235.8,272.5 237.2,270.3 238.6,268.2 240.1,266.2 241.5,265 242.9,264 244.3,263.2 245.7,262.6 247.1,262.1 248.4,261.9 249.8,261.9 251.2,262.1 252.6,262.4 254.2,263 255.5,263.6 256.9,264.2 258.3,265 259.7,265.8 261.1,266.8 262.5,267.8 263.9,268.5 265.2,269.1 266.6,269.4 268,269.6 269.6,269.7 271,269.9 272.3,270.3 273.7,270.9 275.1,271.7 276.5,272.8 277.9,274 279.3,275.2 280.7,276.4 282,277.6 283.6,278.9 285,280.1 286.4,281.3 287.8,282.4 289.1,283.5 290.5,284.5 291.9,285.5 293.3,286.5 294.7,287.5 296.1,288.3 297.5,289.1 299,290 300.4,290.8 301.8,291.5 303.2,292.3 304.6,293 305.9,293.8 307.3,294.4 308.7,294.9 308.7,298.1 214.8,298.1Z" fill="rgba(74,143,210,0.13)"/>
<path d="M218,295 219.1,294.7 220.3,294.2 221.5,293.5 222.7,292.7 223.9,291.8 225.1,290.9 226.4,289.7 227.6,288.5 228.8,287.2 230,285.6 231.2,283.6 232.4,281.4 233.5,279 234.7,276.5 235.9,273.8 237.1,271.1 238.3,268.2 239.6,264.7 240.8,261.5 242,258.4 243.2,255.8 244.4,253.6 245.6,251.9 246.8,250.5 247.9,249.3 249.1,248.4 250.3,247.9 251.7,247.7 252.8,247.9 254,248.4 255.2,249 256.4,249.8 257.6,250.7 258.8,251.6 260,252.6 261.2,253.6 262.3,254.7 263.5,255.9 264.9,257.3 266.1,258.5 267.2,259.7 268.4,260.9 269.6,262.1 270.8,263.4 272,264.6 273.2,265.8 274.4,267 275.6,268.2 276.9,269.5 278.1,270.7 279.3,272.1 280.5,273.8 281.6,275.7 282.8,277.9 284,280.1 285.2,282.3 286.4,284.3 287.6,286.1 288.8,287.7 290.1,289.4 291.3,290.7 292.5,291.8 293.7,292.8 294.9,293.6 296,294.3 297.2,294.8 298.4,295 298.4,298.1 218,298.1Z" fill="rgba(236,80,84,0.15)"/>
<path d="M214.8,294.9 216.2,294.6 217.6,294.1 219,293.5 220.4,292.8 221.8,292 223.1,291.1 224.7,289.7 226.1,288.2 227.5,286.2 228.9,284.1 230.3,281.8 231.6,279.4 233,277.1 234.4,274.8 235.8,272.5 237.2,270.3 238.6,268.2 240.1,266.2 241.5,265 242.9,264 244.3,263.2 245.7,262.6 247.1,262.1 248.4,261.9 249.8,261.9 251.2,262.1 252.6,262.4 254.2,263 255.5,263.6 256.9,264.2 258.3,265 259.7,265.8 261.1,266.8 262.5,267.8 263.9,268.5 265.2,269.1 266.6,269.4 268,269.6 269.6,269.7 271,269.9 272.3,270.3 273.7,270.9 275.1,271.7 276.5,272.8 277.9,274 279.3,275.2 280.7,276.4 282,277.6 283.6,278.9 285,280.1 286.4,281.3 287.8,282.4 289.1,283.5 290.5,284.5 291.9,285.5 293.3,286.5 294.7,287.5 296.1,288.3 297.5,289.1 299,290 300.4,290.8 301.8,291.5 303.2,292.3 304.6,293 305.9,293.8 307.3,294.4 308.7,294.9" fill="none" stroke="#4b90d5" stroke-width="1.25" stroke-linejoin="round"/>
<path d="M218,295 219.1,294.7 220.3,294.2 221.5,293.5 222.7,292.7 223.9,291.8 225.1,290.9 226.4,289.7 227.6,288.5 228.8,287.2 230,285.6 231.2,283.6 232.4,281.4 233.5,279 234.7,276.5 235.9,273.8 237.1,271.1 238.3,268.2 239.6,264.7 240.8,261.5 242,258.4 243.2,255.8 244.4,253.6 245.6,251.9 246.8,250.5 247.9,249.3 249.1,248.4 250.3,247.9 251.7,247.7 252.8,247.9 254,248.4 255.2,249 256.4,249.8 257.6,250.7 258.8,251.6 260,252.6 261.2,253.6 262.3,254.7 263.5,255.9 264.9,257.3 266.1,258.5 267.2,259.7 268.4,260.9 269.6,262.1 270.8,263.4 272,264.6 273.2,265.8 274.4,267 275.6,268.2 276.9,269.5 278.1,270.7 279.3,272.1 280.5,273.8 281.6,275.7 282.8,277.9 284,280.1 285.2,282.3 286.4,284.3 287.6,286.1 288.8,287.7 290.1,289.4 291.3,290.7 292.5,291.8 293.7,292.8 294.9,293.6 296,294.3 297.2,294.8 298.4,295" fill="none" stroke="#ea5461" stroke-width="1.25" stroke-linejoin="round"/>
</g>
<path d="M218.1,223 v1.2 M218.1,294.3 v-1.2 M234.4,223 v1.8 M234.4,294.3 v-1.8 M250.7,223 v1.2 M250.7,294.3 v-1.2 M266.9,223 v1.8 M266.9,294.3 v-1.8 M283.2,223 v1.2 M283.2,294.3 v-1.2 M299.5,223 v1.8 M299.5,294.3 v-1.8 M315.8,223 v1.2 M315.8,294.3 v-1.2 M201.8,275.7 h1.8 M332.1,275.7 h-1.8 M201.8,256.3 h1.8 M332.1,256.3 h-1.8 M201.8,236.9 h1.8 M332.1,236.9 h-1.8" stroke="#222" stroke-width="0.9" fill="none"/>
<rect x="201.8" y="223" width="130.3" height="71.3" fill="none" stroke="#1a1a1a" stroke-width="1.05"/>
<text x="200" y="279.2" font-size="9.8" text-anchor="end" font-weight="normal" fill="#1a1a1a" >2</text>
<text x="200" y="259.8" font-size="9.8" text-anchor="end" font-weight="normal" fill="#1a1a1a" >4</text>
<text x="200" y="240.4" font-size="9.8" text-anchor="end" font-weight="normal" fill="#1a1a1a" >6</text>
<clipPath id="clipb21"><rect x="201.8" y="294.3" width="130.3" height="72.6"/></clipPath>
<g clip-path="url(#clipb21)">
<path d="M208.6,366 209.9,365.7 211.1,365.1 212.3,364.1 213.6,363 214.8,361.6 216.1,360.1 217.3,358.4 218.7,356 220,353.5 221.2,350.4 222.4,347 223.7,343.4 224.9,339.9 226.2,336.5 227.4,333.2 228.6,330 229.9,327.1 231.1,324.5 232.5,322.4 233.8,321 235,320.1 236.3,319.6 237.5,319.6 238.7,320 240,320.7 241.2,321.8 242.5,322.9 243.7,324.1 245.1,325.2 246.3,326.2 247.6,327.2 248.8,328.1 250.1,329.2 251.3,330.4 252.6,331.9 253.8,333.9 255,336.4 256.3,339.4 257.5,342.6 258.9,345.8 260.2,348.5 261.4,350.8 262.7,352.8 263.9,354.5 265.1,355.9 266.4,357.1 267.6,358.1 268.9,358.9 270.1,359.6 271.5,360.2 272.7,360.6 274,360.9 275.2,361.1 276.5,361.3 277.7,361.5 279,361.6 280.2,361.8 281.4,362 282.7,362.2 283.9,362.4 285.3,362.7 286.6,363.1 287.8,363.5 289,364 290.3,364.6 291.5,365.1 292.8,365.6 294,365.9 294,369.1 208.6,369.1Z" fill="rgba(74,143,210,0.13)"/>
<path d="M210.9,366 211.9,365.8 212.9,365.3 213.9,364.6 214.8,363.7 215.8,362.7 216.8,361.5 217.9,360 218.9,358.5 219.9,356.8 220.8,354.6 221.8,352.1 222.8,349.1 223.8,345.8 224.8,342.4 225.7,338.9 226.7,335.4 227.7,332 228.8,328.4 229.8,325.2 230.7,322.3 231.7,319.7 232.7,317.4 233.7,315.5 234.7,313.9 235.6,312.8 236.6,312.3 237.6,312.3 238.7,313.1 239.7,314.3 240.7,315.7 241.6,317.2 242.6,318.4 243.6,319.5 244.6,320.3 245.6,321.1 246.5,322 247.5,323 248.5,324.3 249.6,326.3 250.6,328.6 251.6,331.2 252.5,334 253.5,336.8 254.5,339.4 255.5,341.9 256.4,344.4 257.4,346.6 258.4,348.7 259.5,350.8 260.5,352.4 261.5,353.8 262.4,355 263.4,356.1 264.4,357 265.4,357.9 266.4,358.7 267.3,359.4 268.3,360.1 269.3,360.8 270.4,361.5 271.4,362.2 272.4,362.9 273.3,363.7 274.3,364.5 275.3,365.2 276.3,365.7 277.2,366 277.2,369.1 210.9,369.1Z" fill="rgba(236,80,84,0.15)"/>
<path d="M208.6,366 209.9,365.7 211.1,365.1 212.3,364.1 213.6,363 214.8,361.6 216.1,360.1 217.3,358.4 218.7,356 220,353.5 221.2,350.4 222.4,347 223.7,343.4 224.9,339.9 226.2,336.5 227.4,333.2 228.6,330 229.9,327.1 231.1,324.5 232.5,322.4 233.8,321 235,320.1 236.3,319.6 237.5,319.6 238.7,320 240,320.7 241.2,321.8 242.5,322.9 243.7,324.1 245.1,325.2 246.3,326.2 247.6,327.2 248.8,328.1 250.1,329.2 251.3,330.4 252.6,331.9 253.8,333.9 255,336.4 256.3,339.4 257.5,342.6 258.9,345.8 260.2,348.5 261.4,350.8 262.7,352.8 263.9,354.5 265.1,355.9 266.4,357.1 267.6,358.1 268.9,358.9 270.1,359.6 271.5,360.2 272.7,360.6 274,360.9 275.2,361.1 276.5,361.3 277.7,361.5 279,361.6 280.2,361.8 281.4,362 282.7,362.2 283.9,362.4 285.3,362.7 286.6,363.1 287.8,363.5 289,364 290.3,364.6 291.5,365.1 292.8,365.6 294,365.9" fill="none" stroke="#4b90d5" stroke-width="1.25" stroke-linejoin="round"/>
<path d="M210.9,366 211.9,365.8 212.9,365.3 213.9,364.6 214.8,363.7 215.8,362.7 216.8,361.5 217.9,360 218.9,358.5 219.9,356.8 220.8,354.6 221.8,352.1 222.8,349.1 223.8,345.8 224.8,342.4 225.7,338.9 226.7,335.4 227.7,332 228.8,328.4 229.8,325.2 230.7,322.3 231.7,319.7 232.7,317.4 233.7,315.5 234.7,313.9 235.6,312.8 236.6,312.3 237.6,312.3 238.7,313.1 239.7,314.3 240.7,315.7 241.6,317.2 242.6,318.4 243.6,319.5 244.6,320.3 245.6,321.1 246.5,322 247.5,323 248.5,324.3 249.6,326.3 250.6,328.6 251.6,331.2 252.5,334 253.5,336.8 254.5,339.4 255.5,341.9 256.4,344.4 257.4,346.6 258.4,348.7 259.5,350.8 260.5,352.4 261.5,353.8 262.4,355 263.4,356.1 264.4,357 265.4,357.9 266.4,358.7 267.3,359.4 268.3,360.1 269.3,360.8 270.4,361.5 271.4,362.2 272.4,362.9 273.3,363.7 274.3,364.5 275.3,365.2 276.3,365.7 277.2,366" fill="none" stroke="#ea5461" stroke-width="1.25" stroke-linejoin="round"/>
</g>
<path d="M218.1,294.3 v1.2 M218.1,365.3 v-1.2 M234.4,294.3 v1.8 M234.4,365.3 v-1.8 M250.7,294.3 v1.2 M250.7,365.3 v-1.2 M266.9,294.3 v1.8 M266.9,365.3 v-1.8 M283.2,294.3 v1.2 M283.2,365.3 v-1.2 M299.5,294.3 v1.8 M299.5,365.3 v-1.8 M315.8,294.3 v1.2 M315.8,365.3 v-1.2 M201.8,346.7 h1.8 M332.1,346.7 h-1.8 M201.8,327.3 h1.8 M332.1,327.3 h-1.8 M201.8,307.9 h1.8 M332.1,307.9 h-1.8" stroke="#222" stroke-width="0.9" fill="none"/>
<rect x="201.8" y="294.3" width="130.3" height="71" fill="none" stroke="#1a1a1a" stroke-width="1.05"/>
<text x="200" y="350.2" font-size="9.8" text-anchor="end" font-weight="normal" fill="#1a1a1a" >2</text>
<text x="200" y="330.8" font-size="9.8" text-anchor="end" font-weight="normal" fill="#1a1a1a" >4</text>
<text x="200" y="311.4" font-size="9.8" text-anchor="end" font-weight="normal" fill="#1a1a1a" >6</text>
<clipPath id="clipb31"><rect x="201.8" y="365.3" width="130.3" height="72.2"/></clipPath>
<g clip-path="url(#clipb31)">
<path d="M238.1,436.5 239.3,436.3 240.5,435.9 241.7,435.5 242.9,435.1 244.1,434.7 245.4,434.3 246.7,433.8 247.9,433.4 249.1,433 250.3,432.5 251.6,432.1 252.8,431.6 254,431.1 255.2,430.6 256.4,430 257.6,429.4 258.8,428.8 260.2,428.1 261.4,427.3 262.6,426.5 263.8,425.5 265,424.5 266.3,423.5 267.5,422.6 268.7,421.7 269.9,420.9 271.1,420.1 272.5,419.1 273.7,418 274.9,416.7 276.1,415.2 277.3,413.6 278.5,411.8 279.7,410 280.9,408 282.2,406 283.4,404 284.6,402.1 285.9,400.3 287.2,399.1 288.4,398.1 289.6,397.2 290.8,396.4 292,395.6 293.2,394.7 294.4,393.9 295.6,393.3 296.8,393.3 298.2,394.3 299.4,396 300.6,398.3 301.8,401.3 303.1,404.8 304.3,408.7 305.5,412.5 306.7,416.2 307.9,419.6 309.1,422.6 310.3,425.2 311.7,427.6 312.9,429.4 314.1,431 315.3,432.4 316.5,433.7 317.7,434.8 319,435.8 320.2,436.4 320.2,439.7 238.1,439.7Z" fill="rgba(245,166,91,0.16)"/>
<path d="M238.1,436.5 239.3,436.3 240.5,435.9 241.7,435.5 242.9,435.1 244.1,434.7 245.4,434.3 246.7,433.8 247.9,433.4 249.1,433 250.3,432.5 251.6,432.1 252.8,431.6 254,431.1 255.2,430.6 256.4,430 257.6,429.4 258.8,428.8 260.2,428.1 261.4,427.3 262.6,426.5 263.8,425.5 265,424.5 266.3,423.5 267.5,422.6 268.7,421.7 269.9,420.9 271.1,420.1 272.5,419.1 273.7,418 274.9,416.7 276.1,415.2 277.3,413.6 278.5,411.8 279.7,410 280.9,408 282.2,406 283.4,404 284.6,402.1 285.9,400.3 287.2,399.1 288.4,398.1 289.6,397.2 290.8,396.4 292,395.6 293.2,394.7 294.4,393.9 295.6,393.3 296.8,393.3 298.2,394.3 299.4,396 300.6,398.3 301.8,401.3 303.1,404.8 304.3,408.7 305.5,412.5 306.7,416.2 307.9,419.6 309.1,422.6 310.3,425.2 311.7,427.6 312.9,429.4 314.1,431 315.3,432.4 316.5,433.7 317.7,434.8 319,435.8 320.2,436.4" fill="none" stroke="#f5a65b" stroke-width="1.25" stroke-linejoin="round"/>
</g>
<path d="M218.1,365.3 v1.2 M218.1,435.9 v-1.2 M234.4,365.3 v1.8 M234.4,435.9 v-1.8 M250.7,365.3 v1.2 M250.7,435.9 v-1.2 M266.9,365.3 v1.8 M266.9,435.9 v-1.8 M283.2,365.3 v1.2 M283.2,435.9 v-1.2 M299.5,365.3 v1.8 M299.5,435.9 v-1.8 M315.8,365.3 v1.2 M315.8,435.9 v-1.2 M201.8,417.3 h1.8 M332.1,417.3 h-1.8 M201.8,397.9 h1.8 M332.1,397.9 h-1.8 M201.8,378.5 h1.8 M332.1,378.5 h-1.8" stroke="#222" stroke-width="0.9" fill="none"/>
<rect x="201.8" y="365.3" width="130.3" height="70.6" fill="none" stroke="#1a1a1a" stroke-width="1.05"/>
<text x="200" y="420.8" font-size="9.8" text-anchor="end" font-weight="normal" fill="#1a1a1a" >2</text>
<text x="200" y="401.4" font-size="9.8" text-anchor="end" font-weight="normal" fill="#1a1a1a" >4</text>
<text x="200" y="382" font-size="9.8" text-anchor="end" font-weight="normal" fill="#1a1a1a" >6</text>
<clipPath id="clipb02"><rect x="367.4" y="152.4" width="130.3" height="72.2"/></clipPath>
<g clip-path="url(#clipb02)">
<path d="M400.2,223.5 401.5,223.2 402.8,222.7 404.1,222.2 405.4,221.6 406.6,221.1 407.9,220.6 409.4,220 410.7,219.4 411.9,218.8 413.2,218.2 414.5,217.6 415.8,216.9 417.1,216.1 418.4,215.3 419.6,214.5 420.9,213.7 422.2,212.8 423.6,211.7 424.9,210.8 426.2,209.8 427.5,208.8 428.8,207.8 430.1,206.7 431.3,205.7 432.6,204.6 433.9,203.5 435.2,202.4 436.6,201.1 437.9,200 439.2,199 440.5,198 441.8,197.2 443.1,196.4 444.3,195.6 445.6,194.8 446.9,193.8 448.2,192.5 449.5,191.1 450.9,189.5 452.2,188.1 453.5,186.9 454.8,186.1 456.1,185.6 457.3,185.5 458.6,185.8 459.9,186.2 461.2,186.9 462.5,187.7 463.9,188.9 465.2,190.2 466.5,191.7 467.8,193.4 469,195.3 470.3,197.5 471.6,199.8 472.9,202.4 474.2,204.9 475.5,207.4 476.7,209.6 478.2,212 479.5,214 480.8,215.8 482,217.6 483.3,219.3 484.6,220.9 485.9,222.3 487.2,223.3 488.5,223.7 488.5,226.8 400.2,226.8Z" fill="rgba(74,143,210,0.13)"/>
<path d="M402,223.7 403.2,223.4 404.4,222.9 405.6,222.3 406.8,221.6 408,220.9 409.3,220.3 410.5,219.6 411.8,218.9 413,218.2 414.2,217.4 415.5,216.7 416.7,215.9 417.9,215.1 419.1,214.3 420.3,213.5 421.5,212.6 422.7,211.8 423.9,210.9 425.3,209.9 426.5,209 427.7,208.1 428.9,207.1 430.2,206.1 431.4,205 432.6,203.9 433.8,202.6 435,201.4 436.2,200 437.6,198.5 438.8,197.1 440,195.7 441.2,194.2 442.4,192.7 443.6,191.2 444.8,189.8 446.1,188.4 447.3,187.2 448.5,186.1 449.7,185.1 451.1,184.1 452.3,183.3 453.5,182.4 454.7,181.5 455.9,180.7 457.1,180.1 458.3,179.8 459.5,180.1 460.7,181.2 462,182.7 463.3,184.8 464.5,186.7 465.7,188.6 467,190.6 468.2,192.8 469.4,195.2 470.6,197.7 471.8,200.5 473,203.4 474.2,206.3 475.4,208.9 476.8,211.7 478,213.9 479.2,215.9 480.4,217.8 481.6,219.6 482.9,221.2 484.1,222.5 485.3,223.4 486.5,223.7 486.5,226.8 402,226.8Z" fill="rgba(236,80,84,0.15)"/>
<path d="M400.2,223.5 401.5,223.2 402.8,222.7 404.1,222.2 405.4,221.6 406.6,221.1 407.9,220.6 409.4,220 410.7,219.4 411.9,218.8 413.2,218.2 414.5,217.6 415.8,216.9 417.1,216.1 418.4,215.3 419.6,214.5 420.9,213.7 422.2,212.8 423.6,211.7 424.9,210.8 426.2,209.8 427.5,208.8 428.8,207.8 430.1,206.7 431.3,205.7 432.6,204.6 433.9,203.5 435.2,202.4 436.6,201.1 437.9,200 439.2,199 440.5,198 441.8,197.2 443.1,196.4 444.3,195.6 445.6,194.8 446.9,193.8 448.2,192.5 449.5,191.1 450.9,189.5 452.2,188.1 453.5,186.9 454.8,186.1 456.1,185.6 457.3,185.5 458.6,185.8 459.9,186.2 461.2,186.9 462.5,187.7 463.9,188.9 465.2,190.2 466.5,191.7 467.8,193.4 469,195.3 470.3,197.5 471.6,199.8 472.9,202.4 474.2,204.9 475.5,207.4 476.7,209.6 478.2,212 479.5,214 480.8,215.8 482,217.6 483.3,219.3 484.6,220.9 485.9,222.3 487.2,223.3 488.5,223.7" fill="none" stroke="#4b90d5" stroke-width="1.25" stroke-linejoin="round"/>
<path d="M402,223.7 403.2,223.4 404.4,222.9 405.6,222.3 406.8,221.6 408,220.9 409.3,220.3 410.5,219.6 411.8,218.9 413,218.2 414.2,217.4 415.5,216.7 416.7,215.9 417.9,215.1 419.1,214.3 420.3,213.5 421.5,212.6 422.7,211.8 423.9,210.9 425.3,209.9 426.5,209 427.7,208.1 428.9,207.1 430.2,206.1 431.4,205 432.6,203.9 433.8,202.6 435,201.4 436.2,200 437.6,198.5 438.8,197.1 440,195.7 441.2,194.2 442.4,192.7 443.6,191.2 444.8,189.8 446.1,188.4 447.3,187.2 448.5,186.1 449.7,185.1 451.1,184.1 452.3,183.3 453.5,182.4 454.7,181.5 455.9,180.7 457.1,180.1 458.3,179.8 459.5,180.1 460.7,181.2 462,182.7 463.3,184.8 464.5,186.7 465.7,188.6 467,190.6 468.2,192.8 469.4,195.2 470.6,197.7 471.8,200.5 473,203.4 474.2,206.3 475.4,208.9 476.8,211.7 478,213.9 479.2,215.9 480.4,217.8 481.6,219.6 482.9,221.2 484.1,222.5 485.3,223.4 486.5,223.7" fill="none" stroke="#ea5461" stroke-width="1.25" stroke-linejoin="round"/>
</g>
<path d="M383.7,152.4 v1.2 M383.7,223 v-1.2 M400,152.4 v1.8 M400,223 v-1.8 M416.3,152.4 v1.2 M416.3,223 v-1.2 M432.5,152.4 v1.8 M432.5,223 v-1.8 M448.8,152.4 v1.2 M448.8,223 v-1.2 M465.1,152.4 v1.8 M465.1,223 v-1.8 M481.4,152.4 v1.2 M481.4,223 v-1.2 M367.4,204.4 h1.8 M497.7,204.4 h-1.8 M367.4,185 h1.8 M497.7,185 h-1.8 M367.4,165.6 h1.8 M497.7,165.6 h-1.8" stroke="#222" stroke-width="0.9" fill="none"/>
<rect x="367.4" y="152.4" width="130.3" height="70.6" fill="none" stroke="#1a1a1a" stroke-width="1.05"/>
<text x="365.6" y="207.9" font-size="9.8" text-anchor="end" font-weight="normal" fill="#1a1a1a" >2</text>
<text x="365.6" y="188.5" font-size="9.8" text-anchor="end" font-weight="normal" fill="#1a1a1a" >4</text>
<text x="365.6" y="169.1" font-size="9.8" text-anchor="end" font-weight="normal" fill="#1a1a1a" >6</text>
<clipPath id="clipb12"><rect x="367.4" y="223" width="130.3" height="72.9"/></clipPath>
<g clip-path="url(#clipb12)">
<path d="M397.4,294.9 398.6,294.5 399.8,293.9 401,293 402.2,292.2 403.4,291.4 404.6,290.6 405.8,289.8 407.2,288.9 408.4,288.1 409.6,287.3 410.8,286.5 412,285.7 413.2,284.8 414.4,284 415.6,283.1 416.8,282.2 418,281.3 419.2,280.1 420.6,278.6 421.8,277 423,275.1 424.2,272.9 425.4,270.5 426.6,268.1 427.8,265.6 429,263.3 430.2,260.9 431.4,258.6 432.7,256.3 433.9,254.6 435.1,253.2 436.3,252.2 437.5,251.8 438.7,251.9 439.9,252.4 441.2,253.1 442.4,254.1 443.6,255.4 444.8,257 446.1,259.1 447.3,261.1 448.5,263 449.7,264.9 450.9,266.7 452.1,268.4 453.3,270 454.5,271.3 455.7,272.3 456.9,273.2 458.3,273.9 459.5,274.5 460.7,275.2 461.9,275.9 463.1,276.8 464.3,278 465.5,279.3 466.7,280.8 467.9,282.3 469.1,283.8 470.3,285.4 471.7,287 472.9,288.5 474.1,290 475.3,291.3 476.5,292.5 477.7,293.6 478.9,294.4 480.1,294.9 480.1,298.1 397.4,298.1Z" fill="rgba(74,143,210,0.13)"/>
<path d="M398.9,295 400,294.7 401.1,294.1 402.2,293.3 403.3,292.3 404.4,291.3 405.5,290.3 406.6,289.2 407.8,287.8 408.9,286.5 410.1,285.1 411.2,283.7 412.3,282.4 413.4,281 414.5,279.7 415.6,278.5 416.7,277.4 417.8,276.4 418.9,275.5 420.1,274.5 421.2,273.7 422.3,272.9 423.4,272.1 424.5,271.2 425.6,270.3 426.7,269.3 427.8,268.3 428.9,267.2 430,266.1 431.3,264.8 432.4,263.5 433.5,262.3 434.6,260.9 435.7,259.5 436.8,258.1 437.9,256.5 439,254.9 440.1,253.1 441.2,251.3 442.3,249.5 443.6,247.5 444.7,245.8 445.8,244.3 446.9,243.2 448,242.6 449.1,242.6 450.2,243 451.3,243.7 452.4,244.9 453.5,246.5 454.7,249 455.8,252.1 456.9,255.8 458,259.9 459.1,264.1 460.2,268.3 461.3,272.6 462.4,276.7 463.5,280.5 464.6,283.9 465.7,286.8 467,289.2 468.1,290.8 469.2,292 470.3,293 471.4,293.8 472.5,294.5 473.6,294.8 473.6,298.1 398.9,298.1Z" fill="rgba(236,80,84,0.15)"/>
<path d="M397.4,294.9 398.6,294.5 399.8,293.9 401,293 402.2,292.2 403.4,291.4 404.6,290.6 405.8,289.8 407.2,288.9 408.4,288.1 409.6,287.3 410.8,286.5 412,285.7 413.2,284.8 414.4,284 415.6,283.1 416.8,282.2 418,281.3 419.2,280.1 420.6,278.6 421.8,277 423,275.1 424.2,272.9 425.4,270.5 426.6,268.1 427.8,265.6 429,263.3 430.2,260.9 431.4,258.6 432.7,256.3 433.9,254.6 435.1,253.2 436.3,252.2 437.5,251.8 438.7,251.9 439.9,252.4 441.2,253.1 442.4,254.1 443.6,255.4 444.8,257 446.1,259.1 447.3,261.1 448.5,263 449.7,264.9 450.9,266.7 452.1,268.4 453.3,270 454.5,271.3 455.7,272.3 456.9,273.2 458.3,273.9 459.5,274.5 460.7,275.2 461.9,275.9 463.1,276.8 464.3,278 465.5,279.3 466.7,280.8 467.9,282.3 469.1,283.8 470.3,285.4 471.7,287 472.9,288.5 474.1,290 475.3,291.3 476.5,292.5 477.7,293.6 478.9,294.4 480.1,294.9" fill="none" stroke="#4b90d5" stroke-width="1.25" stroke-linejoin="round"/>
<path d="M398.9,295 400,294.7 401.1,294.1 402.2,293.3 403.3,292.3 404.4,291.3 405.5,290.3 406.6,289.2 407.8,287.8 408.9,286.5 410.1,285.1 411.2,283.7 412.3,282.4 413.4,281 414.5,279.7 415.6,278.5 416.7,277.4 417.8,276.4 418.9,275.5 420.1,274.5 421.2,273.7 422.3,272.9 423.4,272.1 424.5,271.2 425.6,270.3 426.7,269.3 427.8,268.3 428.9,267.2 430,266.1 431.3,264.8 432.4,263.5 433.5,262.3 434.6,260.9 435.7,259.5 436.8,258.1 437.9,256.5 439,254.9 440.1,253.1 441.2,251.3 442.3,249.5 443.6,247.5 444.7,245.8 445.8,244.3 446.9,243.2 448,242.6 449.1,242.6 450.2,243 451.3,243.7 452.4,244.9 453.5,246.5 454.7,249 455.8,252.1 456.9,255.8 458,259.9 459.1,264.1 460.2,268.3 461.3,272.6 462.4,276.7 463.5,280.5 464.6,283.9 465.7,286.8 467,289.2 468.1,290.8 469.2,292 470.3,293 471.4,293.8 472.5,294.5 473.6,294.8" fill="none" stroke="#ea5461" stroke-width="1.25" stroke-linejoin="round"/>
</g>
<path d="M383.7,223 v1.2 M383.7,294.3 v-1.2 M400,223 v1.8 M400,294.3 v-1.8 M416.3,223 v1.2 M416.3,294.3 v-1.2 M432.5,223 v1.8 M432.5,294.3 v-1.8 M448.8,223 v1.2 M448.8,294.3 v-1.2 M465.1,223 v1.8 M465.1,294.3 v-1.8 M481.4,223 v1.2 M481.4,294.3 v-1.2 M367.4,275.7 h1.8 M497.7,275.7 h-1.8 M367.4,256.3 h1.8 M497.7,256.3 h-1.8 M367.4,236.9 h1.8 M497.7,236.9 h-1.8" stroke="#222" stroke-width="0.9" fill="none"/>
<rect x="367.4" y="223" width="130.3" height="71.3" fill="none" stroke="#1a1a1a" stroke-width="1.05"/>
<text x="365.6" y="279.2" font-size="9.8" text-anchor="end" font-weight="normal" fill="#1a1a1a" >2</text>
<text x="365.6" y="259.8" font-size="9.8" text-anchor="end" font-weight="normal" fill="#1a1a1a" >4</text>
<text x="365.6" y="240.4" font-size="9.8" text-anchor="end" font-weight="normal" fill="#1a1a1a" >6</text>
<clipPath id="clipb22"><rect x="367.4" y="294.3" width="130.3" height="72.6"/></clipPath>
<g clip-path="url(#clipb22)">
<path d="M385,365.8 386.2,365.5 387.5,365.1 388.7,364.6 390,364 391.2,363.4 392.6,362.5 393.8,361.7 395.1,360.7 396.3,359.7 397.6,358.7 398.8,357.6 400,356.5 401.3,355.3 402.5,354 403.8,352.7 405,351.3 406.4,349.6 407.6,348 408.9,346.2 410.1,344.4 411.3,342.5 412.6,340.5 413.8,338.3 415.1,335.9 416.3,333.6 417.5,331.5 418.9,329.4 420.2,328 421.4,326.9 422.7,326.2 423.9,325.8 425.1,325.6 426.4,325.5 427.6,325.6 428.9,325.8 430.1,326.2 431.3,326.9 432.7,328.1 434,329.4 435.2,330.9 436.5,332.7 437.7,334.7 438.9,336.8 440.2,339 441.4,341.1 442.7,343.1 443.9,345.1 445.3,347.4 446.5,349.3 447.8,351.1 449,352.9 450.3,354.6 451.5,356.2 452.7,357.7 454,359 455.2,360.2 456.5,361.2 457.7,362.1 459.1,363 460.3,363.8 461.6,364.4 462.8,365 464,365.4 465.3,365.8 466.5,366 466.5,369.1 385,369.1Z" fill="rgba(74,143,210,0.13)"/>
<path d="M383.7,366 384.9,365.8 386.1,365.4 387.3,364.9 388.5,364.3 389.8,363.6 391,362.8 392.4,361.9 393.6,360.8 394.8,359.6 396,358.3 397.2,356.8 398.4,355.3 399.7,353.5 400.9,351.6 402.1,349.6 403.3,347.4 404.5,345.1 405.9,342.5 407.1,340.1 408.3,337.6 409.6,335.1 410.8,332.5 412,329.9 413.2,327.3 414.4,324.7 415.7,322.2 416.9,319.9 418.2,317.7 419.5,316.1 420.7,314.8 421.9,314.2 423.1,314.4 424.3,315.2 425.5,316.6 426.8,318.4 428,320.4 429.2,322.7 430.4,325.2 431.8,328 433,330.5 434.2,333 435.4,335.6 436.7,338.1 437.9,340.7 439.1,343.2 440.3,345.7 441.5,348.1 442.8,350.4 444.1,352.9 445.3,354.9 446.6,356.8 447.8,358.5 449,359.7 450.2,360.8 451.4,361.6 452.7,362.3 453.9,363 455.1,363.6 456.3,364.1 457.7,364.6 458.9,364.9 460.1,365.3 461.3,365.6 462.5,365.8 463.8,366 463.8,369.1 383.7,369.1Z" fill="rgba(236,80,84,0.15)"/>
<path d="M385,365.8 386.2,365.5 387.5,365.1 388.7,364.6 390,364 391.2,363.4 392.6,362.5 393.8,361.7 395.1,360.7 396.3,359.7 397.6,358.7 398.8,357.6 400,356.5 401.3,355.3 402.5,354 403.8,352.7 405,351.3 406.4,349.6 407.6,348 408.9,346.2 410.1,344.4 411.3,342.5 412.6,340.5 413.8,338.3 415.1,335.9 416.3,333.6 417.5,331.5 418.9,329.4 420.2,328 421.4,326.9 422.7,326.2 423.9,325.8 425.1,325.6 426.4,325.5 427.6,325.6 428.9,325.8 430.1,326.2 431.3,326.9 432.7,328.1 434,329.4 435.2,330.9 436.5,332.7 437.7,334.7 438.9,336.8 440.2,339 441.4,341.1 442.7,343.1 443.9,345.1 445.3,347.4 446.5,349.3 447.8,351.1 449,352.9 450.3,354.6 451.5,356.2 452.7,357.7 454,359 455.2,360.2 456.5,361.2 457.7,362.1 459.1,363 460.3,363.8 461.6,364.4 462.8,365 464,365.4 465.3,365.8 466.5,366" fill="none" stroke="#4b90d5" stroke-width="1.25" stroke-linejoin="round"/>
<path d="M383.7,366 384.9,365.8 386.1,365.4 387.3,364.9 388.5,364.3 389.8,363.6 391,362.8 392.4,361.9 393.6,360.8 394.8,359.6 396,358.3 397.2,356.8 398.4,355.3 399.7,353.5 400.9,351.6 402.1,349.6 403.3,347.4 404.5,345.1 405.9,342.5 407.1,340.1 408.3,337.6 409.6,335.1 410.8,332.5 412,329.9 413.2,327.3 414.4,324.7 415.7,322.2 416.9,319.9 418.2,317.7 419.5,316.1 420.7,314.8 421.9,314.2 423.1,314.4 424.3,315.2 425.5,316.6 426.8,318.4 428,320.4 429.2,322.7 430.4,325.2 431.8,328 433,330.5 434.2,333 435.4,335.6 436.7,338.1 437.9,340.7 439.1,343.2 440.3,345.7 441.5,348.1 442.8,350.4 444.1,352.9 445.3,354.9 446.6,356.8 447.8,358.5 449,359.7 450.2,360.8 451.4,361.6 452.7,362.3 453.9,363 455.1,363.6 456.3,364.1 457.7,364.6 458.9,364.9 460.1,365.3 461.3,365.6 462.5,365.8 463.8,366" fill="none" stroke="#ea5461" stroke-width="1.25" stroke-linejoin="round"/>
</g>
<path d="M383.7,294.3 v1.2 M383.7,365.3 v-1.2 M400,294.3 v1.8 M400,365.3 v-1.8 M416.3,294.3 v1.2 M416.3,365.3 v-1.2 M432.5,294.3 v1.8 M432.5,365.3 v-1.8 M448.8,294.3 v1.2 M448.8,365.3 v-1.2 M465.1,294.3 v1.8 M465.1,365.3 v-1.8 M481.4,294.3 v1.2 M481.4,365.3 v-1.2 M367.4,346.7 h1.8 M497.7,346.7 h-1.8 M367.4,327.3 h1.8 M497.7,327.3 h-1.8 M367.4,307.9 h1.8 M497.7,307.9 h-1.8" stroke="#222" stroke-width="0.9" fill="none"/>
<rect x="367.4" y="294.3" width="130.3" height="71" fill="none" stroke="#1a1a1a" stroke-width="1.05"/>
<text x="365.6" y="350.2" font-size="9.8" text-anchor="end" font-weight="normal" fill="#1a1a1a" >2</text>
<text x="365.6" y="330.8" font-size="9.8" text-anchor="end" font-weight="normal" fill="#1a1a1a" >4</text>
<text x="365.6" y="311.4" font-size="9.8" text-anchor="end" font-weight="normal" fill="#1a1a1a" >6</text>
<clipPath id="clipb32"><rect x="367.4" y="365.3" width="130.3" height="72.2"/></clipPath>
<g clip-path="url(#clipb32)">
<path d="M394.7,436.4 396.3,436.3 397.8,436.2 399.4,436 401.2,435.8 402.7,435.6 404.3,435.3 405.9,435 407.4,434.7 409,434.3 410.6,434 412.2,433.6 413.7,433.2 415.3,432.8 416.9,432.4 418.6,431.8 420.2,431.3 421.8,430.7 423.3,430.2 424.9,429.6 426.5,429.1 428.1,428.5 429.6,428 431.2,427.5 432.8,427 434.5,426.4 436.1,425.8 437.7,425 439.2,424.2 440.8,423.1 442.4,421.9 444,420.6 445.5,419.2 447.1,417.9 448.7,416.6 450.2,415.3 452,413.9 453.6,412.6 455.1,411.3 456.7,410 458.3,408.6 459.9,407.2 461.4,405.9 463,404.8 464.6,403.8 466.1,403.2 467.9,402.8 469.5,403 471,403.7 472.6,404.6 474.2,405.7 475.8,407.2 477.3,408.8 478.9,410.5 480.5,412.3 482,414.3 483.6,416.5 485.4,419.3 487,421.9 488.5,424.7 490.1,427.5 491.7,430.1 493.2,432.4 494.8,434.2 496.4,435.7 497.9,436.5 497.9,439.7 394.7,439.7Z" fill="rgba(245,166,91,0.16)"/>
<path d="M394.7,436.4 396.3,436.3 397.8,436.2 399.4,436 401.2,435.8 402.7,435.6 404.3,435.3 405.9,435 407.4,434.7 409,434.3 410.6,434 412.2,433.6 413.7,433.2 415.3,432.8 416.9,432.4 418.6,431.8 420.2,431.3 421.8,430.7 423.3,430.2 424.9,429.6 426.5,429.1 428.1,428.5 429.6,428 431.2,427.5 432.8,427 434.5,426.4 436.1,425.8 437.7,425 439.2,424.2 440.8,423.1 442.4,421.9 444,420.6 445.5,419.2 447.1,417.9 448.7,416.6 450.2,415.3 452,413.9 453.6,412.6 455.1,411.3 456.7,410 458.3,408.6 459.9,407.2 461.4,405.9 463,404.8 464.6,403.8 466.1,403.2 467.9,402.8 469.5,403 471,403.7 472.6,404.6 474.2,405.7 475.8,407.2 477.3,408.8 478.9,410.5 480.5,412.3 482,414.3 483.6,416.5 485.4,419.3 487,421.9 488.5,424.7 490.1,427.5 491.7,430.1 493.2,432.4 494.8,434.2 496.4,435.7 497.9,436.5" fill="none" stroke="#f5a65b" stroke-width="1.25" stroke-linejoin="round"/>
</g>
<path d="M383.7,365.3 v1.2 M383.7,435.9 v-1.2 M400,365.3 v1.8 M400,435.9 v-1.8 M416.3,365.3 v1.2 M416.3,435.9 v-1.2 M432.5,365.3 v1.8 M432.5,435.9 v-1.8 M448.8,365.3 v1.2 M448.8,435.9 v-1.2 M465.1,365.3 v1.8 M465.1,435.9 v-1.8 M481.4,365.3 v1.2 M481.4,435.9 v-1.2 M367.4,417.3 h1.8 M497.7,417.3 h-1.8 M367.4,397.9 h1.8 M497.7,397.9 h-1.8 M367.4,378.5 h1.8 M497.7,378.5 h-1.8" stroke="#222" stroke-width="0.9" fill="none"/>
<rect x="367.4" y="365.3" width="130.3" height="70.6" fill="none" stroke="#1a1a1a" stroke-width="1.05"/>
<text x="365.6" y="420.8" font-size="9.8" text-anchor="end" font-weight="normal" fill="#1a1a1a" >2</text>
<text x="365.6" y="401.4" font-size="9.8" text-anchor="end" font-weight="normal" fill="#1a1a1a" >4</text>
<text x="365.6" y="382" font-size="9.8" text-anchor="end" font-weight="normal" fill="#1a1a1a" >6</text>
<clipPath id="clipb03"><rect x="533.7" y="152.4" width="130.1" height="72.2"/></clipPath>
<g clip-path="url(#clipb03)">
<path d="M551.1,223.7 551.9,223.6 552.6,223.2 553.4,222.7 554.1,222.1 554.9,221.4 555.7,220.7 556.4,220.1 557.1,219.3 557.9,218.6 558.6,217.7 559.4,216.7 560.1,215.5 560.8,214.2 561.6,212.8 562.3,211.4 563.1,209.7 563.9,208.3 564.6,206.9 565.4,205.5 566.1,204.1 566.8,202.7 567.6,201.3 568.3,199.9 569,198.5 569.8,197 570.6,195.3 571.4,193.7 572.1,192.3 572.8,191.2 573.6,190.7 574.3,190.6 575,190.8 575.8,191.2 576.5,191.8 577.3,192.4 578,193.2 578.8,194.2 579.6,195.4 580.3,196.7 581,198.2 581.8,199.8 582.5,201.3 583.3,202.9 584,204.4 584.7,205.8 585.5,207.4 586.3,209.1 587,210.6 587.8,212.1 588.5,213.6 589.3,214.9 590,216.1 590.7,217.1 591.5,218 592.2,218.9 593,219.7 593.7,220.5 594.5,221.4 595.3,222.1 596,222.8 596.7,223.4 597.5,223.7 597.5,226.8 551.1,226.8Z" fill="rgba(74,143,210,0.13)"/>
<path d="M548.6,223.7 549.3,223.5 550.1,223 550.8,222.4 551.6,221.7 552.4,220.9 553.1,220.2 553.9,219.4 554.6,218.6 555.4,217.7 556.1,216.6 556.9,215.4 557.6,214.1 558.4,212.7 559.1,211.3 559.8,209.8 560.7,208.2 561.4,206.7 562.2,205.1 562.9,203.5 563.7,201.7 564.4,200 565.2,198.4 565.9,197 566.6,196 567.4,195.2 568.2,194.7 569,194.5 569.7,194.2 570.5,193.6 571.2,192.9 572,192 572.7,191.3 573.4,191.1 574.2,191.3 574.9,191.8 575.7,192.4 576.5,193.3 577.3,194.1 578,195.1 578.7,196.2 579.5,197.4 580.2,198.9 581,200.4 581.7,202 582.5,203.6 583.2,205.1 584.1,206.8 584.8,208.2 585.5,209.6 586.3,211 587,212.5 587.8,213.8 588.5,215.1 589.3,216.4 590,217.5 590.8,218.5 591.5,219.5 592.3,220.5 593.1,221.4 593.8,222.3 594.6,223.1 595.3,223.6 596.1,223.8 596.1,226.8 548.6,226.8Z" fill="rgba(236,80,84,0.15)"/>
<path d="M551.1,223.7 551.9,223.6 552.6,223.2 553.4,222.7 554.1,222.1 554.9,221.4 555.7,220.7 556.4,220.1 557.1,219.3 557.9,218.6 558.6,217.7 559.4,216.7 560.1,215.5 560.8,214.2 561.6,212.8 562.3,211.4 563.1,209.7 563.9,208.3 564.6,206.9 565.4,205.5 566.1,204.1 566.8,202.7 567.6,201.3 568.3,199.9 569,198.5 569.8,197 570.6,195.3 571.4,193.7 572.1,192.3 572.8,191.2 573.6,190.7 574.3,190.6 575,190.8 575.8,191.2 576.5,191.8 577.3,192.4 578,193.2 578.8,194.2 579.6,195.4 580.3,196.7 581,198.2 581.8,199.8 582.5,201.3 583.3,202.9 584,204.4 584.7,205.8 585.5,207.4 586.3,209.1 587,210.6 587.8,212.1 588.5,213.6 589.3,214.9 590,216.1 590.7,217.1 591.5,218 592.2,218.9 593,219.7 593.7,220.5 594.5,221.4 595.3,222.1 596,222.8 596.7,223.4 597.5,223.7" fill="none" stroke="#4b90d5" stroke-width="1.25" stroke-linejoin="round"/>
<path d="M548.6,223.7 549.3,223.5 550.1,223 550.8,222.4 551.6,221.7 552.4,220.9 553.1,220.2 553.9,219.4 554.6,218.6 555.4,217.7 556.1,216.6 556.9,215.4 557.6,214.1 558.4,212.7 559.1,211.3 559.8,209.8 560.7,208.2 561.4,206.7 562.2,205.1 562.9,203.5 563.7,201.7 564.4,200 565.2,198.4 565.9,197 566.6,196 567.4,195.2 568.2,194.7 569,194.5 569.7,194.2 570.5,193.6 571.2,192.9 572,192 572.7,191.3 573.4,191.1 574.2,191.3 574.9,191.8 575.7,192.4 576.5,193.3 577.3,194.1 578,195.1 578.7,196.2 579.5,197.4 580.2,198.9 581,200.4 581.7,202 582.5,203.6 583.2,205.1 584.1,206.8 584.8,208.2 585.5,209.6 586.3,211 587,212.5 587.8,213.8 588.5,215.1 589.3,216.4 590,217.5 590.8,218.5 591.5,219.5 592.3,220.5 593.1,221.4 593.8,222.3 594.6,223.1 595.3,223.6 596.1,223.8" fill="none" stroke="#ea5461" stroke-width="1.25" stroke-linejoin="round"/>
</g>
<path d="M550,152.4 v1.2 M550,223 v-1.2 M566.2,152.4 v1.8 M566.2,223 v-1.8 M582.5,152.4 v1.2 M582.5,223 v-1.2 M598.8,152.4 v1.8 M598.8,223 v-1.8 M615,152.4 v1.2 M615,223 v-1.2 M631.3,152.4 v1.8 M631.3,223 v-1.8 M647.5,152.4 v1.2 M647.5,223 v-1.2 M533.7,214.6 h1.2 M663.8,214.6 h-1.2 M533.7,205.4 h1.8 M663.8,205.4 h-1.8 M533.7,196.2 h1.2 M663.8,196.2 h-1.2 M533.7,187 h1.8 M663.8,187 h-1.8 M533.7,177.8 h1.2 M663.8,177.8 h-1.2 M533.7,168.6 h1.8 M663.8,168.6 h-1.8 M533.7,159.4 h1.2 M663.8,159.4 h-1.2" stroke="#222" stroke-width="0.9" fill="none"/>
<rect x="533.7" y="152.4" width="130.1" height="70.6" fill="none" stroke="#1a1a1a" stroke-width="1.05"/>
<text x="531.9" y="208.9" font-size="9.8" text-anchor="end" font-weight="normal" fill="#1a1a1a" >4</text>
<text x="531.9" y="190.5" font-size="9.8" text-anchor="end" font-weight="normal" fill="#1a1a1a" >8</text>
<text x="531.9" y="172.1" font-size="9.8" text-anchor="end" font-weight="normal" fill="#1a1a1a" >12</text>
<clipPath id="clipb13"><rect x="533.7" y="223" width="130.1" height="72.9"/></clipPath>
<g clip-path="url(#clipb13)">
<path d="M542.5,295.1 543.1,295 543.8,294.6 544.4,293.8 545.1,292.6 545.8,291.1 546.5,289.6 547.1,287.7 547.8,285.3 548.4,282.3 549.1,278.7 549.7,274.6 550.4,270.4 551,266.2 551.7,262 552.3,257.8 553.1,253.2 553.7,249.3 554.4,245.7 555,242.6 555.7,239.9 556.3,237.6 557,236.1 557.6,235.8 558.3,236.9 558.9,239.1 559.7,242.3 560.3,245.2 561,248 561.6,250.8 562.3,253.4 562.9,255.9 563.6,258.2 564.2,260.2 564.9,262 565.5,263.7 566.2,265.4 566.9,267.4 567.6,269.3 568.2,271.4 568.9,273.6 569.5,275.9 570.2,278 570.8,280.1 571.5,282 572.1,283.8 572.8,285.5 573.5,287.2 574.2,288.3 574.8,289.2 575.5,289.7 576.1,290.1 576.8,290.3 577.4,290.4 578.1,290.5 578.7,290.7 579.4,290.9 580,291.4 580.8,292.1 581.4,292.9 582.1,293.9 582.7,294.6 583.4,295 583.4,298.1 542.5,298.1Z" fill="rgba(74,143,210,0.13)"/>
<path d="M545,295 545.5,294.9 546,294.3 546.6,293.3 547.2,291.5 547.7,289.4 548.3,286.5 548.8,282.7 549.4,278 549.9,272.6 550.4,267 551,261.3 551.5,255.7 552.1,250.3 552.6,245.2 553.2,240 553.8,235.9 554.3,232.6 554.8,230.5 555.4,229.7 555.9,230.3 556.5,231.9 557,234.2 557.5,237.2 558.1,240.7 558.7,245.2 559.2,249.2 559.8,252.5 560.3,254.8 560.9,256.1 561.4,256.6 561.9,256.3 562.5,255.3 563,253.9 563.6,252.5 564.1,251.6 564.7,251.7 565.2,252.8 565.8,254.7 566.3,257.3 566.9,260.1 567.4,263.1 568,266.1 568.5,269.2 569,272.2 569.6,275.1 570.2,278.1 570.7,280.5 571.3,282.7 571.8,284.6 572.3,286.4 572.9,287.9 573.4,289.2 574,290.3 574.5,291.4 575,292.4 575.6,293.3 576.2,294.1 576.7,294.7 577.3,294.9 577.8,295.1 577.8,298.1 545,298.1Z" fill="rgba(236,80,84,0.15)"/>
<path d="M542.5,295.1 543.1,295 543.8,294.6 544.4,293.8 545.1,292.6 545.8,291.1 546.5,289.6 547.1,287.7 547.8,285.3 548.4,282.3 549.1,278.7 549.7,274.6 550.4,270.4 551,266.2 551.7,262 552.3,257.8 553.1,253.2 553.7,249.3 554.4,245.7 555,242.6 555.7,239.9 556.3,237.6 557,236.1 557.6,235.8 558.3,236.9 558.9,239.1 559.7,242.3 560.3,245.2 561,248 561.6,250.8 562.3,253.4 562.9,255.9 563.6,258.2 564.2,260.2 564.9,262 565.5,263.7 566.2,265.4 566.9,267.4 567.6,269.3 568.2,271.4 568.9,273.6 569.5,275.9 570.2,278 570.8,280.1 571.5,282 572.1,283.8 572.8,285.5 573.5,287.2 574.2,288.3 574.8,289.2 575.5,289.7 576.1,290.1 576.8,290.3 577.4,290.4 578.1,290.5 578.7,290.7 579.4,290.9 580,291.4 580.8,292.1 581.4,292.9 582.1,293.9 582.7,294.6 583.4,295" fill="none" stroke="#4b90d5" stroke-width="1.25" stroke-linejoin="round"/>
<path d="M545,295 545.5,294.9 546,294.3 546.6,293.3 547.2,291.5 547.7,289.4 548.3,286.5 548.8,282.7 549.4,278 549.9,272.6 550.4,267 551,261.3 551.5,255.7 552.1,250.3 552.6,245.2 553.2,240 553.8,235.9 554.3,232.6 554.8,230.5 555.4,229.7 555.9,230.3 556.5,231.9 557,234.2 557.5,237.2 558.1,240.7 558.7,245.2 559.2,249.2 559.8,252.5 560.3,254.8 560.9,256.1 561.4,256.6 561.9,256.3 562.5,255.3 563,253.9 563.6,252.5 564.1,251.6 564.7,251.7 565.2,252.8 565.8,254.7 566.3,257.3 566.9,260.1 567.4,263.1 568,266.1 568.5,269.2 569,272.2 569.6,275.1 570.2,278.1 570.7,280.5 571.3,282.7 571.8,284.6 572.3,286.4 572.9,287.9 573.4,289.2 574,290.3 574.5,291.4 575,292.4 575.6,293.3 576.2,294.1 576.7,294.7 577.3,294.9 577.8,295.1" fill="none" stroke="#ea5461" stroke-width="1.25" stroke-linejoin="round"/>
</g>
<path d="M550,223 v1.2 M550,294.3 v-1.2 M566.2,223 v1.8 M566.2,294.3 v-1.8 M582.5,223 v1.2 M582.5,294.3 v-1.2 M598.8,223 v1.8 M598.8,294.3 v-1.8 M615,223 v1.2 M615,294.3 v-1.2 M631.3,223 v1.8 M631.3,294.3 v-1.8 M647.5,223 v1.2 M647.5,294.3 v-1.2 M533.7,285.9 h1.2 M663.8,285.9 h-1.2 M533.7,276.7 h1.8 M663.8,276.7 h-1.8 M533.7,267.5 h1.2 M663.8,267.5 h-1.2 M533.7,258.3 h1.8 M663.8,258.3 h-1.8 M533.7,249.1 h1.2 M663.8,249.1 h-1.2 M533.7,239.9 h1.8 M663.8,239.9 h-1.8 M533.7,230.7 h1.2 M663.8,230.7 h-1.2" stroke="#222" stroke-width="0.9" fill="none"/>
<rect x="533.7" y="223" width="130.1" height="71.3" fill="none" stroke="#1a1a1a" stroke-width="1.05"/>
<text x="531.9" y="280.2" font-size="9.8" text-anchor="end" font-weight="normal" fill="#1a1a1a" >4</text>
<text x="531.9" y="261.8" font-size="9.8" text-anchor="end" font-weight="normal" fill="#1a1a1a" >8</text>
<text x="531.9" y="243.4" font-size="9.8" text-anchor="end" font-weight="normal" fill="#1a1a1a" >12</text>
<clipPath id="clipb23"><rect x="533.7" y="294.3" width="130.1" height="72.6"/></clipPath>
<g clip-path="url(#clipb23)">
<path d="M539.2,366.1 539.8,365.9 540.5,365.6 541.1,364.9 541.7,364 542.5,363 543.1,362 543.7,360.9 544.4,359.7 545,358.4 545.7,356.9 546.3,355.3 546.9,353.4 547.6,351.3 548.2,349.1 548.9,346.8 549.6,344.1 550.2,341.6 550.9,339 551.5,336.3 552.1,333.6 552.8,330.9 553.4,328.4 554.1,326.2 554.7,324.1 555.3,322.2 556.1,320.3 556.7,319 557.4,318.4 558,318.7 558.6,320.1 559.3,322.5 559.9,325.5 560.6,328.5 561.2,331.4 561.8,334.3 562.5,337.2 563.2,340.3 563.8,342.8 564.5,345.1 565.1,347.1 565.8,349 566.4,350.8 567,352.5 567.7,354 568.3,355.4 569,356.7 569.7,357.9 570.3,358.9 571,359.9 571.6,360.7 572.2,361.5 572.9,362.2 573.5,362.8 574.2,363.4 574.8,363.9 575.5,364.4 576.1,364.9 576.8,365.3 577.5,365.7 578.1,365.9 578.7,366 578.7,369.1 539.2,369.1Z" fill="rgba(74,143,210,0.13)"/>
<path d="M541.7,366.1 542.3,365.9 542.8,365.5 543.4,364.7 544.1,363.5 544.7,362.2 545.2,360.6 545.8,358.8 546.4,356.7 547,353.9 547.6,350.2 548.2,345.7 548.7,340.6 549.3,335.3 549.9,330.1 550.6,324.4 551.1,319.5 551.7,315.1 552.3,311.4 552.9,308.5 553.5,306.4 554,305.4 554.6,305.8 555.2,307.7 555.8,310.6 556.4,314.4 557,317.9 557.6,321.3 558.2,324.7 558.8,328 559.4,331.2 559.9,334.2 560.5,337 561.1,339.7 561.7,342.4 562.3,345 562.9,347.7 563.5,349.9 564.1,351.9 564.7,353.6 565.3,355.1 565.8,356.3 566.4,357.4 567,358.4 567.6,359.2 568.2,360 568.8,360.9 569.4,361.5 570,362.1 570.6,362.6 571.1,363.1 571.7,363.5 572.3,363.9 572.9,364.4 573.5,364.8 574.1,365.2 574.6,365.5 575.3,365.8 575.9,366 576.5,366 576.5,369.1 541.7,369.1Z" fill="rgba(236,80,84,0.15)"/>
<path d="M539.2,366.1 539.8,365.9 540.5,365.6 541.1,364.9 541.7,364 542.5,363 543.1,362 543.7,360.9 544.4,359.7 545,358.4 545.7,356.9 546.3,355.3 546.9,353.4 547.6,351.3 548.2,349.1 548.9,346.8 549.6,344.1 550.2,341.6 550.9,339 551.5,336.3 552.1,333.6 552.8,330.9 553.4,328.4 554.1,326.2 554.7,324.1 555.3,322.2 556.1,320.3 556.7,319 557.4,318.4 558,318.7 558.6,320.1 559.3,322.5 559.9,325.5 560.6,328.5 561.2,331.4 561.8,334.3 562.5,337.2 563.2,340.3 563.8,342.8 564.5,345.1 565.1,347.1 565.8,349 566.4,350.8 567,352.5 567.7,354 568.3,355.4 569,356.7 569.7,357.9 570.3,358.9 571,359.9 571.6,360.7 572.2,361.5 572.9,362.2 573.5,362.8 574.2,363.4 574.8,363.9 575.5,364.4 576.1,364.9 576.8,365.3 577.5,365.7 578.1,365.9 578.7,366" fill="none" stroke="#4b90d5" stroke-width="1.25" stroke-linejoin="round"/>
<path d="M541.7,366.1 542.3,365.9 542.8,365.5 543.4,364.7 544.1,363.5 544.7,362.2 545.2,360.6 545.8,358.8 546.4,356.7 547,353.9 547.6,350.2 548.2,345.7 548.7,340.6 549.3,335.3 549.9,330.1 550.6,324.4 551.1,319.5 551.7,315.1 552.3,311.4 552.9,308.5 553.5,306.4 554,305.4 554.6,305.8 555.2,307.7 555.8,310.6 556.4,314.4 557,317.9 557.6,321.3 558.2,324.7 558.8,328 559.4,331.2 559.9,334.2 560.5,337 561.1,339.7 561.7,342.4 562.3,345 562.9,347.7 563.5,349.9 564.1,351.9 564.7,353.6 565.3,355.1 565.8,356.3 566.4,357.4 567,358.4 567.6,359.2 568.2,360 568.8,360.9 569.4,361.5 570,362.1 570.6,362.6 571.1,363.1 571.7,363.5 572.3,363.9 572.9,364.4 573.5,364.8 574.1,365.2 574.6,365.5 575.3,365.8 575.9,366 576.5,366" fill="none" stroke="#ea5461" stroke-width="1.25" stroke-linejoin="round"/>
</g>
<path d="M550,294.3 v1.2 M550,365.3 v-1.2 M566.2,294.3 v1.8 M566.2,365.3 v-1.8 M582.5,294.3 v1.2 M582.5,365.3 v-1.2 M598.8,294.3 v1.8 M598.8,365.3 v-1.8 M615,294.3 v1.2 M615,365.3 v-1.2 M631.3,294.3 v1.8 M631.3,365.3 v-1.8 M647.5,294.3 v1.2 M647.5,365.3 v-1.2 M533.7,356.9 h1.2 M663.8,356.9 h-1.2 M533.7,347.7 h1.8 M663.8,347.7 h-1.8 M533.7,338.5 h1.2 M663.8,338.5 h-1.2 M533.7,329.3 h1.8 M663.8,329.3 h-1.8 M533.7,320.1 h1.2 M663.8,320.1 h-1.2 M533.7,310.9 h1.8 M663.8,310.9 h-1.8 M533.7,301.7 h1.2 M663.8,301.7 h-1.2" stroke="#222" stroke-width="0.9" fill="none"/>
<rect x="533.7" y="294.3" width="130.1" height="71" fill="none" stroke="#1a1a1a" stroke-width="1.05"/>
<text x="531.9" y="351.2" font-size="9.8" text-anchor="end" font-weight="normal" fill="#1a1a1a" >4</text>
<text x="531.9" y="332.8" font-size="9.8" text-anchor="end" font-weight="normal" fill="#1a1a1a" >8</text>
<text x="531.9" y="314.4" font-size="9.8" text-anchor="end" font-weight="normal" fill="#1a1a1a" >12</text>
<clipPath id="clipb33"><rect x="533.7" y="365.3" width="130.1" height="72.2"/></clipPath>
<g clip-path="url(#clipb33)">
<path d="M557.3,436.6 558.1,436.4 559,435.9 559.9,435.3 560.7,434.7 561.6,434.1 562.6,433.4 563.5,432.8 564.3,432.1 565.2,431.3 566.1,430.4 567,429.6 567.8,428.7 568.7,427.7 569.6,426.8 570.5,425.7 571.3,424.7 572.3,423.5 573.2,422.3 574.1,421.1 574.9,419.8 575.8,418.4 576.7,417.3 577.6,416.3 578.4,415.4 579.3,414.8 580.2,414.1 581.2,413.5 582,413.1 582.9,412.6 583.8,412.2 584.6,411.9 585.5,411.6 586.4,411.3 587.3,411.1 588.1,410.9 589,410.7 589.9,410.5 590.9,410.6 591.7,410.9 592.6,411.6 593.5,412.5 594.4,413.5 595.2,414.6 596.1,415.8 597,417.2 597.9,418.7 598.7,420.1 599.7,421.9 600.6,423.5 601.5,425.1 602.3,426.6 603.2,428 604.1,429.2 604.9,430.2 605.8,431.1 606.7,431.9 607.6,432.7 608.4,433.5 609.4,434.3 610.3,435 611.2,435.6 612,436.1 612.9,436.5 613.8,436.7 613.8,439.7 557.3,439.7Z" fill="rgba(245,166,91,0.16)"/>
<path d="M557.3,436.6 558.1,436.4 559,435.9 559.9,435.3 560.7,434.7 561.6,434.1 562.6,433.4 563.5,432.8 564.3,432.1 565.2,431.3 566.1,430.4 567,429.6 567.8,428.7 568.7,427.7 569.6,426.8 570.5,425.7 571.3,424.7 572.3,423.5 573.2,422.3 574.1,421.1 574.9,419.8 575.8,418.4 576.7,417.3 577.6,416.3 578.4,415.4 579.3,414.8 580.2,414.1 581.2,413.5 582,413.1 582.9,412.6 583.8,412.2 584.6,411.9 585.5,411.6 586.4,411.3 587.3,411.1 588.1,410.9 589,410.7 589.9,410.5 590.9,410.6 591.7,410.9 592.6,411.6 593.5,412.5 594.4,413.5 595.2,414.6 596.1,415.8 597,417.2 597.9,418.7 598.7,420.1 599.7,421.9 600.6,423.5 601.5,425.1 602.3,426.6 603.2,428 604.1,429.2 604.9,430.2 605.8,431.1 606.7,431.9 607.6,432.7 608.4,433.5 609.4,434.3 610.3,435 611.2,435.6 612,436.1 612.9,436.5 613.8,436.7" fill="none" stroke="#f5a65b" stroke-width="1.25" stroke-linejoin="round"/>
</g>
<path d="M550,365.3 v1.2 M550,435.9 v-1.2 M566.2,365.3 v1.8 M566.2,435.9 v-1.8 M582.5,365.3 v1.2 M582.5,435.9 v-1.2 M598.8,365.3 v1.8 M598.8,435.9 v-1.8 M615,365.3 v1.2 M615,435.9 v-1.2 M631.3,365.3 v1.8 M631.3,435.9 v-1.8 M647.5,365.3 v1.2 M647.5,435.9 v-1.2 M533.7,427.5 h1.2 M663.8,427.5 h-1.2 M533.7,418.3 h1.8 M663.8,418.3 h-1.8 M533.7,409.1 h1.2 M663.8,409.1 h-1.2 M533.7,399.9 h1.8 M663.8,399.9 h-1.8 M533.7,390.7 h1.2 M663.8,390.7 h-1.2 M533.7,381.5 h1.8 M663.8,381.5 h-1.8 M533.7,372.3 h1.2 M663.8,372.3 h-1.2" stroke="#222" stroke-width="0.9" fill="none"/>
<rect x="533.7" y="365.3" width="130.1" height="70.6" fill="none" stroke="#1a1a1a" stroke-width="1.05"/>
<text x="531.9" y="421.8" font-size="9.8" text-anchor="end" font-weight="normal" fill="#1a1a1a" >4</text>
<text x="531.9" y="403.4" font-size="9.8" text-anchor="end" font-weight="normal" fill="#1a1a1a" >8</text>
<text x="531.9" y="385" font-size="9.8" text-anchor="end" font-weight="normal" fill="#1a1a1a" >12</text>
<text x="44.6" y="446.2" font-size="9.8" text-anchor="middle" font-weight="normal" fill="#1a1a1a" >0.4</text>
<text x="66.4" y="446.2" font-size="9.8" text-anchor="middle" font-weight="normal" fill="#1a1a1a" >0.5</text>
<text x="88.2" y="446.2" font-size="9.8" text-anchor="middle" font-weight="normal" fill="#1a1a1a" >0.6</text>
<text x="110" y="446.2" font-size="9.8" text-anchor="middle" font-weight="normal" fill="#1a1a1a" >0.7</text>
<text x="131.9" y="446.2" font-size="9.8" text-anchor="middle" font-weight="normal" fill="#1a1a1a" >0.8</text>
<text x="153.7" y="446.2" font-size="9.8" text-anchor="middle" font-weight="normal" fill="#1a1a1a" >0.9</text>
<text x="175.5" y="446.2" font-size="9.8" text-anchor="middle" font-weight="normal" fill="#1a1a1a" >1.0</text>
<text x="201.8" y="446.2" font-size="9.8" text-anchor="middle" font-weight="normal" fill="#1a1a1a" >0.2</text>
<text x="234.4" y="446.2" font-size="9.8" text-anchor="middle" font-weight="normal" fill="#1a1a1a" >0.4</text>
<text x="266.9" y="446.2" font-size="9.8" text-anchor="middle" font-weight="normal" fill="#1a1a1a" >0.6</text>
<text x="299.5" y="446.2" font-size="9.8" text-anchor="middle" font-weight="normal" fill="#1a1a1a" >0.8</text>
<text x="332.1" y="446.2" font-size="9.8" text-anchor="middle" font-weight="normal" fill="#1a1a1a" >1.0</text>
<text x="367.4" y="446.2" font-size="9.8" text-anchor="middle" font-weight="normal" fill="#1a1a1a" >0.2</text>
<text x="400" y="446.2" font-size="9.8" text-anchor="middle" font-weight="normal" fill="#1a1a1a" >0.4</text>
<text x="432.5" y="446.2" font-size="9.8" text-anchor="middle" font-weight="normal" fill="#1a1a1a" >0.6</text>
<text x="465.1" y="446.2" font-size="9.8" text-anchor="middle" font-weight="normal" fill="#1a1a1a" >0.8</text>
<text x="497.7" y="446.2" font-size="9.8" text-anchor="middle" font-weight="normal" fill="#1a1a1a" >1.0</text>
<text x="533.7" y="446.2" font-size="9.8" text-anchor="middle" font-weight="normal" fill="#1a1a1a" >0.2</text>
<text x="566.2" y="446.2" font-size="9.8" text-anchor="middle" font-weight="normal" fill="#1a1a1a" >0.4</text>
<text x="598.8" y="446.2" font-size="9.8" text-anchor="middle" font-weight="normal" fill="#1a1a1a" >0.6</text>
<text x="631.3" y="446.2" font-size="9.8" text-anchor="middle" font-weight="normal" fill="#1a1a1a" >0.8</text>
<text x="663.8" y="446.2" font-size="9.8" text-anchor="middle" font-weight="normal" fill="#1a1a1a" >1.0</text>
<clipPath id="clipc00"><rect x="44.6" y="496.6" width="130.9" height="72.8"/></clipPath>
<g clip-path="url(#clipc00)">
<path d="M73.8,568.5 75.2,568.1 76.6,567.6 78,566.9 79.4,566.2 80.8,565.5 82.2,564.8 83.8,564 85.2,563.3 86.6,562.5 88,561.7 89.4,560.8 90.8,559.8 92.2,558.8 93.6,557.7 95,556.7 96.4,555.8 97.8,555 99.4,554.2 100.8,553.2 102.2,551.9 103.6,550.1 105,547.9 106.4,545.7 107.8,543.5 109.2,541.4 110.6,539.4 112.1,537.6 113.6,536.1 115,535.2 116.4,534.4 117.8,533.7 119.2,533 120.7,532.4 122.1,531.9 123.5,531.8 124.9,532 126.3,532.6 127.7,533 129.3,533.2 130.7,533.2 132.1,533.4 133.5,534 134.9,535 136.3,536.6 137.7,538.8 139.1,541.3 140.5,544 141.9,546.4 143.5,548.7 144.9,550.5 146.3,552.1 147.7,553.6 149.1,555 150.5,556.4 151.9,557.8 153.3,559.1 154.7,560.4 156.1,561.6 157.5,562.8 159.1,563.9 160.5,564.8 161.9,565.7 163.3,566.6 164.7,567.4 166.1,568.1 167.5,568.4 167.5,571.6 73.8,571.6Z" fill="rgba(74,143,210,0.13)"/>
<path d="M77.7,568.5 79.1,568.2 80.4,567.7 81.8,567 83.1,566.4 84.4,565.7 85.8,565 87.3,564.3 88.7,563.6 90,562.9 91.4,562.2 92.7,561.4 94.1,560.6 95.4,559.7 96.8,558.7 98.1,557.5 99.5,556.2 100.8,554.7 102.3,552.8 103.7,551.1 105,549.4 106.4,547.7 107.7,546 109.1,544.5 110.4,543 111.8,541.6 113.1,540.2 114.5,538.9 116,537.5 117.3,536.2 118.7,534.9 120,533.5 121.4,532.3 122.7,531.5 124.1,531.2 125.4,531.4 126.8,531.9 128.1,532.7 129.5,533.6 131,534.6 132.3,535.7 133.7,536.8 135,538 136.4,539.3 137.7,540.6 139.1,542 140.4,543.5 141.8,545.1 143.1,546.7 144.7,548.5 146,550.1 147.3,551.7 148.7,553.2 150,554.8 151.4,556.2 152.7,557.6 154.1,559 155.4,560.2 156.8,561.4 158.1,562.6 159.7,563.7 161,564.7 162.4,565.6 163.7,566.5 165.1,567.3 166.4,568 167.8,568.4 167.8,571.6 77.7,571.6Z" fill="rgba(236,80,84,0.15)"/>
<path d="M73.8,568.5 75.2,568.1 76.6,567.6 78,566.9 79.4,566.2 80.8,565.5 82.2,564.8 83.8,564 85.2,563.3 86.6,562.5 88,561.7 89.4,560.8 90.8,559.8 92.2,558.8 93.6,557.7 95,556.7 96.4,555.8 97.8,555 99.4,554.2 100.8,553.2 102.2,551.9 103.6,550.1 105,547.9 106.4,545.7 107.8,543.5 109.2,541.4 110.6,539.4 112.1,537.6 113.6,536.1 115,535.2 116.4,534.4 117.8,533.7 119.2,533 120.7,532.4 122.1,531.9 123.5,531.8 124.9,532 126.3,532.6 127.7,533 129.3,533.2 130.7,533.2 132.1,533.4 133.5,534 134.9,535 136.3,536.6 137.7,538.8 139.1,541.3 140.5,544 141.9,546.4 143.5,548.7 144.9,550.5 146.3,552.1 147.7,553.6 149.1,555 150.5,556.4 151.9,557.8 153.3,559.1 154.7,560.4 156.1,561.6 157.5,562.8 159.1,563.9 160.5,564.8 161.9,565.7 163.3,566.6 164.7,567.4 166.1,568.1 167.5,568.4" fill="none" stroke="#4b90d5" stroke-width="1.25" stroke-linejoin="round"/>
<path d="M77.7,568.5 79.1,568.2 80.4,567.7 81.8,567 83.1,566.4 84.4,565.7 85.8,565 87.3,564.3 88.7,563.6 90,562.9 91.4,562.2 92.7,561.4 94.1,560.6 95.4,559.7 96.8,558.7 98.1,557.5 99.5,556.2 100.8,554.7 102.3,552.8 103.7,551.1 105,549.4 106.4,547.7 107.7,546 109.1,544.5 110.4,543 111.8,541.6 113.1,540.2 114.5,538.9 116,537.5 117.3,536.2 118.7,534.9 120,533.5 121.4,532.3 122.7,531.5 124.1,531.2 125.4,531.4 126.8,531.9 128.1,532.7 129.5,533.6 131,534.6 132.3,535.7 133.7,536.8 135,538 136.4,539.3 137.7,540.6 139.1,542 140.4,543.5 141.8,545.1 143.1,546.7 144.7,548.5 146,550.1 147.3,551.7 148.7,553.2 150,554.8 151.4,556.2 152.7,557.6 154.1,559 155.4,560.2 156.8,561.4 158.1,562.6 159.7,563.7 161,564.7 162.4,565.6 163.7,566.5 165.1,567.3 166.4,568 167.8,568.4" fill="none" stroke="#ea5461" stroke-width="1.25" stroke-linejoin="round"/>
</g>
<path d="M55.5,496.6 v1.2 M55.5,567.8 v-1.2 M66.4,496.6 v1.8 M66.4,567.8 v-1.8 M77.3,496.6 v1.2 M77.3,567.8 v-1.2 M88.2,496.6 v1.8 M88.2,567.8 v-1.8 M99.1,496.6 v1.2 M99.1,567.8 v-1.2 M110,496.6 v1.8 M110,567.8 v-1.8 M121,496.6 v1.2 M121,567.8 v-1.2 M131.9,496.6 v1.8 M131.9,567.8 v-1.8 M142.8,496.6 v1.2 M142.8,567.8 v-1.2 M153.7,496.6 v1.8 M153.7,567.8 v-1.8 M164.6,496.6 v1.2 M164.6,567.8 v-1.2 M44.6,553.6 h1.8 M175.5,553.6 h-1.8 M44.6,538.6 h1.8 M175.5,538.6 h-1.8 M44.6,523.6 h1.8 M175.5,523.6 h-1.8 M44.6,508.6 h1.8 M175.5,508.6 h-1.8" stroke="#222" stroke-width="0.9" fill="none"/>
<rect x="44.6" y="496.6" width="130.9" height="71.2" fill="none" stroke="#1a1a1a" stroke-width="1.05"/>
<text x="42.8" y="557.1" font-size="9.8" text-anchor="end" font-weight="normal" fill="#1a1a1a" >2</text>
<text x="42.8" y="542.1" font-size="9.8" text-anchor="end" font-weight="normal" fill="#1a1a1a" >4</text>
<text x="42.8" y="527.1" font-size="9.8" text-anchor="end" font-weight="normal" fill="#1a1a1a" >6</text>
<text x="42.8" y="512.1" font-size="9.8" text-anchor="end" font-weight="normal" fill="#1a1a1a" >8</text>
<clipPath id="clipc10"><rect x="44.6" y="567.8" width="130.9" height="73"/></clipPath>
<g clip-path="url(#clipc10)">
<path d="M67.7,639.9 69.3,639.8 70.9,639.5 72.5,639.2 74,638.8 75.6,638.4 77.4,638 78.9,637.6 80.5,637.1 82.1,636.5 83.7,635.9 85.2,635.2 86.8,634.3 88.4,633.5 90,632.6 91.5,631.7 93.1,630.7 94.9,629.6 96.5,628.6 98,627.5 99.6,626.3 101.2,625.2 102.7,623.9 104.3,622.7 105.9,621.5 107.5,620.2 109,618.8 110.8,617.2 112.4,615.8 114,614.6 115.5,613.6 117.1,612.8 118.7,612.1 120.3,611.5 121.8,611.1 123.4,610.7 125,610.5 126.5,610.5 128.3,610.7 129.9,610.9 131.5,611.2 133,611.5 134.6,612.1 136.2,612.9 137.8,614.2 139.3,615.6 140.9,617.3 142.5,618.9 144.2,620.9 145.8,622.7 147.4,624.6 149,626.5 150.5,628.2 152.1,629.7 153.7,631 155.3,632.3 156.8,633.4 158.4,634.5 160,635.5 161.8,636.4 163.3,637.1 164.9,637.8 166.5,638.4 168,639.1 169.6,639.5 171.2,639.9 171.2,643 67.7,643Z" fill="rgba(74,143,210,0.13)"/>
<path d="M72,639.9 73.5,639.8 75,639.6 76.6,639.3 78.1,639 79.7,638.7 81.4,638.2 83,637.8 84.5,637.2 86,636.5 87.6,635.8 89.1,635 90.7,634.1 92.2,633.2 93.8,632.3 95.3,631.3 96.9,630.3 98.6,629 100.1,627.7 101.7,626.4 103.2,625.1 104.8,623.8 106.3,622.4 107.9,621 109.4,619.6 110.9,618.2 112.5,616.7 114.2,615 115.8,613.7 117.3,612.6 118.9,611.8 120.4,611.1 122,610.5 123.5,609.9 125,609.6 126.6,609.4 128.1,609.4 129.7,609.6 131.4,610.1 133,610.7 134.5,611.5 136,612.3 137.6,613.3 139.1,614.6 140.7,616 142.2,617.6 143.8,619.2 145.3,620.8 147,622.7 148.6,624.5 150.1,626.2 151.7,627.8 153.2,629.3 154.8,630.7 156.3,632 157.9,633.3 159.4,634.4 160.9,635.5 162.5,636.4 164.2,637.2 165.8,637.9 167.3,638.5 168.9,639 170.4,639.5 171.9,639.8 173.5,639.9 173.5,643 72,643Z" fill="rgba(74,143,210,0.13)"/>
<path d="M63.5,639.9 65.1,639.8 66.7,639.6 68.3,639.4 69.9,639.1 71.5,638.7 73.3,638.3 74.9,638 76.5,637.6 78.1,637.2 79.7,636.7 81.3,636.1 83,635.5 84.6,634.8 86.2,634 87.8,633.1 89.4,632.3 91.2,631.3 92.8,630.3 94.4,629.3 96,628.2 97.6,627 99.2,625.7 100.8,624.4 102.4,623.1 104,621.8 105.6,620.5 107.4,619.1 109,617.7 110.6,616.4 112.2,615.1 113.8,614 115.4,613 117,612.2 118.6,611.5 120.2,610.9 121.8,610.4 123.4,610.1 125.2,609.9 126.8,610 128.4,610.2 130,610.6 131.6,611.1 133.2,611.9 134.8,613 136.4,614.4 138,615.9 139.6,617.6 141.4,619.6 143,621.5 144.7,623.6 146.3,625.6 147.9,627.5 149.5,629.2 151.1,630.8 152.7,632.2 154.3,633.6 155.9,634.8 157.5,635.9 159.3,636.9 160.9,637.6 162.5,638.3 164.1,638.9 165.7,639.4 167.3,639.7 168.9,639.9 168.9,643 63.5,643Z" fill="rgba(236,80,84,0.15)"/>
<path d="M67.6,639.9 69.1,639.8 70.7,639.6 72.2,639.3 73.8,639 75.3,638.6 77.1,638.2 78.6,637.8 80.1,637.4 81.7,636.8 83.2,636.2 84.8,635.6 86.3,634.9 87.9,634.1 89.4,633.4 91,632.6 92.5,631.7 94.2,630.7 95.8,629.7 97.3,628.6 98.9,627.4 100.4,626.1 102,624.9 103.5,623.5 105,622.2 106.6,620.8 108.1,619.4 109.9,617.6 111.4,616.1 113,614.6 114.5,613.3 116,612.1 117.6,611.2 119.1,610.3 120.7,609.6 122.2,609.1 123.8,608.9 125.3,608.9 127,609.2 128.6,609.5 130.1,609.9 131.7,610.5 133.2,611.2 134.8,612.2 136.3,613.4 137.9,614.7 139.4,616.2 140.9,617.8 142.7,619.8 144.2,621.7 145.8,623.7 147.3,625.6 148.9,627.4 150.4,629 151.9,630.5 153.5,631.9 155,633.2 156.6,634.5 158.1,635.5 159.9,636.5 161.4,637.2 163,637.9 164.5,638.6 166,639.2 167.6,639.7 169.1,639.9 169.1,643 67.6,643Z" fill="rgba(236,80,84,0.15)"/>
<path d="M67.7,639.9 69.3,639.8 70.9,639.5 72.5,639.2 74,638.8 75.6,638.4 77.4,638 78.9,637.6 80.5,637.1 82.1,636.5 83.7,635.9 85.2,635.2 86.8,634.3 88.4,633.5 90,632.6 91.5,631.7 93.1,630.7 94.9,629.6 96.5,628.6 98,627.5 99.6,626.3 101.2,625.2 102.7,623.9 104.3,622.7 105.9,621.5 107.5,620.2 109,618.8 110.8,617.2 112.4,615.8 114,614.6 115.5,613.6 117.1,612.8 118.7,612.1 120.3,611.5 121.8,611.1 123.4,610.7 125,610.5 126.5,610.5 128.3,610.7 129.9,610.9 131.5,611.2 133,611.5 134.6,612.1 136.2,612.9 137.8,614.2 139.3,615.6 140.9,617.3 142.5,618.9 144.2,620.9 145.8,622.7 147.4,624.6 149,626.5 150.5,628.2 152.1,629.7 153.7,631 155.3,632.3 156.8,633.4 158.4,634.5 160,635.5 161.8,636.4 163.3,637.1 164.9,637.8 166.5,638.4 168,639.1 169.6,639.5 171.2,639.9" fill="none" stroke="#4b90d5" stroke-width="1.25" stroke-linejoin="round" stroke-dasharray="3.2,1.6"/>
<path d="M72,639.9 73.5,639.8 75,639.6 76.6,639.3 78.1,639 79.7,638.7 81.4,638.2 83,637.8 84.5,637.2 86,636.5 87.6,635.8 89.1,635 90.7,634.1 92.2,633.2 93.8,632.3 95.3,631.3 96.9,630.3 98.6,629 100.1,627.7 101.7,626.4 103.2,625.1 104.8,623.8 106.3,622.4 107.9,621 109.4,619.6 110.9,618.2 112.5,616.7 114.2,615 115.8,613.7 117.3,612.6 118.9,611.8 120.4,611.1 122,610.5 123.5,609.9 125,609.6 126.6,609.4 128.1,609.4 129.7,609.6 131.4,610.1 133,610.7 134.5,611.5 136,612.3 137.6,613.3 139.1,614.6 140.7,616 142.2,617.6 143.8,619.2 145.3,620.8 147,622.7 148.6,624.5 150.1,626.2 151.7,627.8 153.2,629.3 154.8,630.7 156.3,632 157.9,633.3 159.4,634.4 160.9,635.5 162.5,636.4 164.2,637.2 165.8,637.9 167.3,638.5 168.9,639 170.4,639.5 171.9,639.8 173.5,639.9" fill="none" stroke="#4b90d5" stroke-width="1.25" stroke-linejoin="round"/>
<path d="M63.5,639.9 65.1,639.8 66.7,639.6 68.3,639.4 69.9,639.1 71.5,638.7 73.3,638.3 74.9,638 76.5,637.6 78.1,637.2 79.7,636.7 81.3,636.1 83,635.5 84.6,634.8 86.2,634 87.8,633.1 89.4,632.3 91.2,631.3 92.8,630.3 94.4,629.3 96,628.2 97.6,627 99.2,625.7 100.8,624.4 102.4,623.1 104,621.8 105.6,620.5 107.4,619.1 109,617.7 110.6,616.4 112.2,615.1 113.8,614 115.4,613 117,612.2 118.6,611.5 120.2,610.9 121.8,610.4 123.4,610.1 125.2,609.9 126.8,610 128.4,610.2 130,610.6 131.6,611.1 133.2,611.9 134.8,613 136.4,614.4 138,615.9 139.6,617.6 141.4,619.6 143,621.5 144.7,623.6 146.3,625.6 147.9,627.5 149.5,629.2 151.1,630.8 152.7,632.2 154.3,633.6 155.9,634.8 157.5,635.9 159.3,636.9 160.9,637.6 162.5,638.3 164.1,638.9 165.7,639.4 167.3,639.7 168.9,639.9" fill="none" stroke="#ea5461" stroke-width="1.25" stroke-linejoin="round" stroke-dasharray="3.2,1.6"/>
<path d="M67.6,639.9 69.1,639.8 70.7,639.6 72.2,639.3 73.8,639 75.3,638.6 77.1,638.2 78.6,637.8 80.1,637.4 81.7,636.8 83.2,636.2 84.8,635.6 86.3,634.9 87.9,634.1 89.4,633.4 91,632.6 92.5,631.7 94.2,630.7 95.8,629.7 97.3,628.6 98.9,627.4 100.4,626.1 102,624.9 103.5,623.5 105,622.2 106.6,620.8 108.1,619.4 109.9,617.6 111.4,616.1 113,614.6 114.5,613.3 116,612.1 117.6,611.2 119.1,610.3 120.7,609.6 122.2,609.1 123.8,608.9 125.3,608.9 127,609.2 128.6,609.5 130.1,609.9 131.7,610.5 133.2,611.2 134.8,612.2 136.3,613.4 137.9,614.7 139.4,616.2 140.9,617.8 142.7,619.8 144.2,621.7 145.8,623.7 147.3,625.6 148.9,627.4 150.4,629 151.9,630.5 153.5,631.9 155,633.2 156.6,634.5 158.1,635.5 159.9,636.5 161.4,637.2 163,637.9 164.5,638.6 166,639.2 167.6,639.7 169.1,639.9" fill="none" stroke="#ea5461" stroke-width="1.25" stroke-linejoin="round"/>
</g>
<path d="M55.5,567.8 v1.2 M55.5,639.2 v-1.2 M66.4,567.8 v1.8 M66.4,639.2 v-1.8 M77.3,567.8 v1.2 M77.3,639.2 v-1.2 M88.2,567.8 v1.8 M88.2,639.2 v-1.8 M99.1,567.8 v1.2 M99.1,639.2 v-1.2 M110,567.8 v1.8 M110,639.2 v-1.8 M121,567.8 v1.2 M121,639.2 v-1.2 M131.9,567.8 v1.8 M131.9,639.2 v-1.8 M142.8,567.8 v1.2 M142.8,639.2 v-1.2 M153.7,567.8 v1.8 M153.7,639.2 v-1.8 M164.6,567.8 v1.2 M164.6,639.2 v-1.2 M44.6,627.5 h1.8 M175.5,627.5 h-1.8 M44.6,615 h1.8 M175.5,615 h-1.8 M44.6,602.5 h1.8 M175.5,602.5 h-1.8 M44.6,590 h1.8 M175.5,590 h-1.8 M44.6,577.5 h1.8 M175.5,577.5 h-1.8" stroke="#222" stroke-width="0.9" fill="none"/>
<rect x="44.6" y="567.8" width="130.9" height="71.4" fill="none" stroke="#1a1a1a" stroke-width="1.05"/>
<text x="42.8" y="631" font-size="9.8" text-anchor="end" font-weight="normal" fill="#1a1a1a" >2</text>
<text x="42.8" y="618.5" font-size="9.8" text-anchor="end" font-weight="normal" fill="#1a1a1a" >4</text>
<text x="42.8" y="606" font-size="9.8" text-anchor="end" font-weight="normal" fill="#1a1a1a" >6</text>
<text x="42.8" y="593.5" font-size="9.8" text-anchor="end" font-weight="normal" fill="#1a1a1a" >8</text>
<text x="42.8" y="581" font-size="9.8" text-anchor="end" font-weight="normal" fill="#1a1a1a" >10</text>
<clipPath id="clipc20"><rect x="44.6" y="639.2" width="130.9" height="72.4"/></clipPath>
<g clip-path="url(#clipc20)">
<path d="M61.9,710.7 63.5,710.5 65.1,710.3 66.7,709.9 68.3,709.6 69.9,709.2 71.5,708.7 73.3,708.2 74.9,707.8 76.5,707.4 78.1,706.9 79.7,706.4 81.3,705.9 83,705.5 84.6,704.9 86.2,704.4 87.8,703.9 89.4,703.3 91.2,702.6 92.8,702 94.4,701.2 96,700.5 97.6,699.6 99.2,698.7 100.8,697.8 102.4,696.7 104,695.5 105.6,694.1 107.4,692.5 109,691 110.6,689.6 112.2,688.4 113.8,687.3 115.4,686.4 117,685.5 118.6,684.7 120.2,683.9 121.8,683.2 123.4,682.7 125.2,682.2 126.8,682 128.4,682 130,682.2 131.6,682.6 133.2,683.2 134.8,683.8 136.4,684.6 138,685.6 139.6,686.9 141.4,688.6 143,690.2 144.7,691.9 146.3,693.5 147.9,695 149.5,696.5 151.1,697.9 152.7,699.4 154.3,700.8 155.9,702.1 157.5,703.3 159.3,704.6 160.9,705.6 162.5,706.6 164.1,707.6 165.7,708.6 167.3,709.5 168.9,710.3 170.5,710.7 170.5,713.8 61.9,713.8Z" fill="rgba(74,143,210,0.13)"/>
<path d="M61.9,710.7 63.5,710.5 65.1,710.1 66.7,709.7 68.3,709.3 69.9,708.9 71.5,708.4 73.3,707.9 74.9,707.4 76.5,707 78.1,706.5 79.7,706 81.3,705.5 82.9,704.9 84.4,704.4 86,703.8 87.6,703.3 89.2,702.7 91,702 92.6,701.3 94.2,700.6 95.8,699.8 97.4,698.9 99,698.1 100.6,697.2 102.2,696.3 103.8,695.3 105.4,694.3 107.2,693.1 108.8,692.1 110.4,690.9 112,689.7 113.6,688.5 115.2,687.2 116.8,685.7 118.4,684.2 120,682.4 121.6,680.5 123.2,678.7 125,676.7 126.6,675.1 128.2,674.2 129.8,674.3 131.4,675.5 132.9,677.4 134.5,679.7 136.1,682.4 137.7,685.5 139.3,688.6 141.1,691.7 142.7,694 144.3,695.8 145.9,697.4 147.5,698.8 149.1,700.2 150.7,701.4 152.3,702.5 153.9,703.5 155.5,704.4 157.1,705.3 158.9,706.3 160.5,707.1 162.1,707.9 163.7,708.6 165.3,709.4 166.9,710.1 168.5,710.5 170.1,710.7 170.1,713.8 61.9,713.8Z" fill="rgba(74,143,210,0.13)"/>
<path d="M61.7,710.7 63.2,710.6 64.8,710.3 66.3,710 67.9,709.7 69.4,709.3 71,708.9 72.7,708.4 74.2,708 75.8,707.6 77.3,707.1 78.9,706.7 80.4,706.2 82,705.8 83.5,705.3 85,704.8 86.6,704.3 88.1,703.8 89.9,703.1 91.4,702.5 93,701.9 94.5,701.2 96,700.4 97.6,699.6 99.1,698.7 100.7,697.8 102.2,696.9 103.8,695.8 105.5,694.5 107,693.2 108.6,691.9 110.1,690.6 111.7,689.4 113.2,688.3 114.8,687.3 116.3,686.3 117.9,685.3 119.4,684.4 120.9,683.7 122.7,683.3 124.2,683.3 125.8,683.4 127.3,683.7 128.9,684.1 130.4,684.6 132,685.2 133.5,686 135,687 136.6,688.3 138.3,690 139.9,691.6 141.4,693.1 143,694.5 144.5,695.9 146,697.3 147.6,698.7 149.1,700.1 150.7,701.4 152.2,702.6 153.8,703.8 155.5,704.9 157,705.9 158.6,706.9 160.1,707.8 161.7,708.8 163.2,709.7 164.8,710.4 166.3,710.7 166.3,713.8 61.7,713.8Z" fill="rgba(236,80,84,0.15)"/>
<path d="M67.4,710.7 69,710.5 70.5,710.3 72,710 73.5,709.6 75,709.3 76.7,708.8 78.2,708.4 79.8,707.9 81.3,707.5 82.8,707.1 84.3,706.6 85.8,706.1 87.3,705.7 88.8,705.2 90.4,704.6 91.9,704 93.6,703.1 95.1,702.4 96.6,701.5 98.1,700.5 99.6,699.5 101.2,698.3 102.7,696.9 104.2,695.3 105.7,693.4 107.2,691.3 108.9,688.3 110.4,685.4 112,682.6 113.5,680.1 115,678.3 116.5,677.4 118,677.7 119.5,678.6 121,679.4 122.6,679.8 124.1,679.9 125.8,679.8 127.3,679.6 128.8,679.5 130.3,679.5 131.8,679.7 133.4,680.3 134.9,681.6 136.4,683.4 137.9,685.5 139.4,687.7 141.1,689.9 142.6,691.6 144.2,693.1 145.7,694.4 147.2,695.6 148.7,696.8 150.2,698 151.7,699.1 153.2,700.3 154.8,701.4 156.3,702.6 158,703.8 159.5,704.9 161,706 162.5,707.1 164,708.2 165.6,709.4 167.1,710.3 168.6,710.7 168.6,713.8 67.4,713.8Z" fill="rgba(236,80,84,0.15)"/>
<path d="M61.9,710.7 63.5,710.5 65.1,710.3 66.7,709.9 68.3,709.6 69.9,709.2 71.5,708.7 73.3,708.2 74.9,707.8 76.5,707.4 78.1,706.9 79.7,706.4 81.3,705.9 83,705.5 84.6,704.9 86.2,704.4 87.8,703.9 89.4,703.3 91.2,702.6 92.8,702 94.4,701.2 96,700.5 97.6,699.6 99.2,698.7 100.8,697.8 102.4,696.7 104,695.5 105.6,694.1 107.4,692.5 109,691 110.6,689.6 112.2,688.4 113.8,687.3 115.4,686.4 117,685.5 118.6,684.7 120.2,683.9 121.8,683.2 123.4,682.7 125.2,682.2 126.8,682 128.4,682 130,682.2 131.6,682.6 133.2,683.2 134.8,683.8 136.4,684.6 138,685.6 139.6,686.9 141.4,688.6 143,690.2 144.7,691.9 146.3,693.5 147.9,695 149.5,696.5 151.1,697.9 152.7,699.4 154.3,700.8 155.9,702.1 157.5,703.3 159.3,704.6 160.9,705.6 162.5,706.6 164.1,707.6 165.7,708.6 167.3,709.5 168.9,710.3 170.5,710.7" fill="none" stroke="#4b90d5" stroke-width="1.25" stroke-linejoin="round" stroke-dasharray="3.2,1.6"/>
<path d="M61.9,710.7 63.5,710.5 65.1,710.1 66.7,709.7 68.3,709.3 69.9,708.9 71.5,708.4 73.3,707.9 74.9,707.4 76.5,707 78.1,706.5 79.7,706 81.3,705.5 82.9,704.9 84.4,704.4 86,703.8 87.6,703.3 89.2,702.7 91,702 92.6,701.3 94.2,700.6 95.8,699.8 97.4,698.9 99,698.1 100.6,697.2 102.2,696.3 103.8,695.3 105.4,694.3 107.2,693.1 108.8,692.1 110.4,690.9 112,689.7 113.6,688.5 115.2,687.2 116.8,685.7 118.4,684.2 120,682.4 121.6,680.5 123.2,678.7 125,676.7 126.6,675.1 128.2,674.2 129.8,674.3 131.4,675.5 132.9,677.4 134.5,679.7 136.1,682.4 137.7,685.5 139.3,688.6 141.1,691.7 142.7,694 144.3,695.8 145.9,697.4 147.5,698.8 149.1,700.2 150.7,701.4 152.3,702.5 153.9,703.5 155.5,704.4 157.1,705.3 158.9,706.3 160.5,707.1 162.1,707.9 163.7,708.6 165.3,709.4 166.9,710.1 168.5,710.5 170.1,710.7" fill="none" stroke="#4b90d5" stroke-width="1.25" stroke-linejoin="round"/>
<path d="M61.7,710.7 63.2,710.6 64.8,710.3 66.3,710 67.9,709.7 69.4,709.3 71,708.9 72.7,708.4 74.2,708 75.8,707.6 77.3,707.1 78.9,706.7 80.4,706.2 82,705.8 83.5,705.3 85,704.8 86.6,704.3 88.1,703.8 89.9,703.1 91.4,702.5 93,701.9 94.5,701.2 96,700.4 97.6,699.6 99.1,698.7 100.7,697.8 102.2,696.9 103.8,695.8 105.5,694.5 107,693.2 108.6,691.9 110.1,690.6 111.7,689.4 113.2,688.3 114.8,687.3 116.3,686.3 117.9,685.3 119.4,684.4 120.9,683.7 122.7,683.3 124.2,683.3 125.8,683.4 127.3,683.7 128.9,684.1 130.4,684.6 132,685.2 133.5,686 135,687 136.6,688.3 138.3,690 139.9,691.6 141.4,693.1 143,694.5 144.5,695.9 146,697.3 147.6,698.7 149.1,700.1 150.7,701.4 152.2,702.6 153.8,703.8 155.5,704.9 157,705.9 158.6,706.9 160.1,707.8 161.7,708.8 163.2,709.7 164.8,710.4 166.3,710.7" fill="none" stroke="#ea5461" stroke-width="1.25" stroke-linejoin="round" stroke-dasharray="3.2,1.6"/>
<path d="M67.4,710.7 69,710.5 70.5,710.3 72,710 73.5,709.6 75,709.3 76.7,708.8 78.2,708.4 79.8,707.9 81.3,707.5 82.8,707.1 84.3,706.6 85.8,706.1 87.3,705.7 88.8,705.2 90.4,704.6 91.9,704 93.6,703.1 95.1,702.4 96.6,701.5 98.1,700.5 99.6,699.5 101.2,698.3 102.7,696.9 104.2,695.3 105.7,693.4 107.2,691.3 108.9,688.3 110.4,685.4 112,682.6 113.5,680.1 115,678.3 116.5,677.4 118,677.7 119.5,678.6 121,679.4 122.6,679.8 124.1,679.9 125.8,679.8 127.3,679.6 128.8,679.5 130.3,679.5 131.8,679.7 133.4,680.3 134.9,681.6 136.4,683.4 137.9,685.5 139.4,687.7 141.1,689.9 142.6,691.6 144.2,693.1 145.7,694.4 147.2,695.6 148.7,696.8 150.2,698 151.7,699.1 153.2,700.3 154.8,701.4 156.3,702.6 158,703.8 159.5,704.9 161,706 162.5,707.1 164,708.2 165.6,709.4 167.1,710.3 168.6,710.7" fill="none" stroke="#ea5461" stroke-width="1.25" stroke-linejoin="round"/>
</g>
<path d="M55.5,639.2 v1.2 M55.5,710 v-1.2 M66.4,639.2 v1.8 M66.4,710 v-1.8 M77.3,639.2 v1.2 M77.3,710 v-1.2 M88.2,639.2 v1.8 M88.2,710 v-1.8 M99.1,639.2 v1.2 M99.1,710 v-1.2 M110,639.2 v1.8 M110,710 v-1.8 M121,639.2 v1.2 M121,710 v-1.2 M131.9,639.2 v1.8 M131.9,710 v-1.8 M142.8,639.2 v1.2 M142.8,710 v-1.2 M153.7,639.2 v1.8 M153.7,710 v-1.8 M164.6,639.2 v1.2 M164.6,710 v-1.2 M44.6,698.3 h1.8 M175.5,698.3 h-1.8 M44.6,685.8 h1.8 M175.5,685.8 h-1.8 M44.6,673.3 h1.8 M175.5,673.3 h-1.8 M44.6,660.8 h1.8 M175.5,660.8 h-1.8 M44.6,648.3 h1.8 M175.5,648.3 h-1.8" stroke="#222" stroke-width="0.9" fill="none"/>
<rect x="44.6" y="639.2" width="130.9" height="70.8" fill="none" stroke="#1a1a1a" stroke-width="1.05"/>
<text x="42.8" y="701.8" font-size="9.8" text-anchor="end" font-weight="normal" fill="#1a1a1a" >2</text>
<text x="42.8" y="689.3" font-size="9.8" text-anchor="end" font-weight="normal" fill="#1a1a1a" >4</text>
<text x="42.8" y="676.8" font-size="9.8" text-anchor="end" font-weight="normal" fill="#1a1a1a" >6</text>
<text x="42.8" y="664.3" font-size="9.8" text-anchor="end" font-weight="normal" fill="#1a1a1a" >8</text>
<text x="42.8" y="651.8" font-size="9.8" text-anchor="end" font-weight="normal" fill="#1a1a1a" >10</text>
<clipPath id="clipc01"><rect x="201.8" y="496.6" width="130.3" height="72.8"/></clipPath>
<g clip-path="url(#clipc01)">
<path d="M238.5,568.3 240,568.3 241.6,568.2 243.2,568.2 244.7,568.1 246.3,568 248,568 249.6,567.9 251.2,567.8 252.7,567.7 254.3,567.6 255.9,567.4 257.4,567.1 259,566.9 260.6,566.6 262.1,566.3 263.9,565.8 265.5,565.3 267,564.6 268.6,563.8 270.2,562.8 271.7,561.7 273.3,560.5 274.9,559 276.4,557.3 278,555.3 279.6,553.2 281.3,550.5 282.9,547.8 284.5,544.8 286,541.5 287.6,538.2 289.2,535.1 290.7,532 292.3,529.1 293.9,526.4 295.4,524.2 297.2,522.6 298.8,521.8 300.3,521.3 301.9,521.1 303.5,521.2 305,522.4 306.6,524.9 308.2,528.2 309.7,531.9 311.3,535.7 312.9,539.9 314.6,545.2 316.2,550.2 317.7,554.8 319.3,558.6 320.9,561.6 322.4,564.1 324,566.2 325.6,567.7 327.1,568.4 327.1,571.6 238.5,571.6Z" fill="rgba(74,143,210,0.13)"/>
<path d="M241.2,568.3 242.6,568.3 244,568.2 245.4,568.1 246.7,568.1 248.1,568 249.5,567.9 250.9,567.8 252.2,567.8 253.6,567.6 255.1,567.5 256.5,567.4 257.9,567.2 259.3,567 260.6,566.8 262,566.5 263.4,566.1 264.8,565.5 266.1,564.8 267.5,564 269,563 270.4,561.9 271.8,560.8 273.2,559.4 274.5,557.8 275.9,555.8 277.3,553.5 278.6,551 280,548.3 281.4,545.5 282.8,542.7 284.3,539.3 285.7,536.1 287.1,533 288.4,529.9 289.8,527 291.2,524.1 292.5,521.2 293.9,518.7 295.3,516.7 296.7,515.8 298.2,516.3 299.6,518.3 301,521.3 302.3,525 303.7,528.8 305.1,532.4 306.4,535.5 307.8,538.3 309.2,541.1 310.6,544 311.9,547.1 313.5,550.7 314.9,553.8 316.2,556.8 317.6,559.6 319,562.1 320.3,564.3 321.7,566.3 323.1,567.7 324.5,568.4 324.5,571.6 241.2,571.6Z" fill="rgba(236,80,84,0.15)"/>
<path d="M238.5,568.3 240,568.3 241.6,568.2 243.2,568.2 244.7,568.1 246.3,568 248,568 249.6,567.9 251.2,567.8 252.7,567.7 254.3,567.6 255.9,567.4 257.4,567.1 259,566.9 260.6,566.6 262.1,566.3 263.9,565.8 265.5,565.3 267,564.6 268.6,563.8 270.2,562.8 271.7,561.7 273.3,560.5 274.9,559 276.4,557.3 278,555.3 279.6,553.2 281.3,550.5 282.9,547.8 284.5,544.8 286,541.5 287.6,538.2 289.2,535.1 290.7,532 292.3,529.1 293.9,526.4 295.4,524.2 297.2,522.6 298.8,521.8 300.3,521.3 301.9,521.1 303.5,521.2 305,522.4 306.6,524.9 308.2,528.2 309.7,531.9 311.3,535.7 312.9,539.9 314.6,545.2 316.2,550.2 317.7,554.8 319.3,558.6 320.9,561.6 322.4,564.1 324,566.2 325.6,567.7 327.1,568.4" fill="none" stroke="#4b90d5" stroke-width="1.25" stroke-linejoin="round"/>
<path d="M241.2,568.3 242.6,568.3 244,568.2 245.4,568.1 246.7,568.1 248.1,568 249.5,567.9 250.9,567.8 252.2,567.8 253.6,567.6 255.1,567.5 256.5,567.4 257.9,567.2 259.3,567 260.6,566.8 262,566.5 263.4,566.1 264.8,565.5 266.1,564.8 267.5,564 269,563 270.4,561.9 271.8,560.8 273.2,559.4 274.5,557.8 275.9,555.8 277.3,553.5 278.6,551 280,548.3 281.4,545.5 282.8,542.7 284.3,539.3 285.7,536.1 287.1,533 288.4,529.9 289.8,527 291.2,524.1 292.5,521.2 293.9,518.7 295.3,516.7 296.7,515.8 298.2,516.3 299.6,518.3 301,521.3 302.3,525 303.7,528.8 305.1,532.4 306.4,535.5 307.8,538.3 309.2,541.1 310.6,544 311.9,547.1 313.5,550.7 314.9,553.8 316.2,556.8 317.6,559.6 319,562.1 320.3,564.3 321.7,566.3 323.1,567.7 324.5,568.4" fill="none" stroke="#ea5461" stroke-width="1.25" stroke-linejoin="round"/>
</g>
<path d="M218.1,496.6 v1.2 M218.1,567.8 v-1.2 M234.4,496.6 v1.8 M234.4,567.8 v-1.8 M250.7,496.6 v1.2 M250.7,567.8 v-1.2 M266.9,496.6 v1.8 M266.9,567.8 v-1.8 M283.2,496.6 v1.2 M283.2,567.8 v-1.2 M299.5,496.6 v1.8 M299.5,567.8 v-1.8 M315.8,496.6 v1.2 M315.8,567.8 v-1.2 M201.8,549.2 h1.8 M332.1,549.2 h-1.8 M201.8,529.8 h1.8 M332.1,529.8 h-1.8 M201.8,510.4 h1.8 M332.1,510.4 h-1.8" stroke="#222" stroke-width="0.9" fill="none"/>
<rect x="201.8" y="496.6" width="130.3" height="71.2" fill="none" stroke="#1a1a1a" stroke-width="1.05"/>
<text x="200" y="552.7" font-size="9.8" text-anchor="end" font-weight="normal" fill="#1a1a1a" >2</text>
<text x="200" y="533.3" font-size="9.8" text-anchor="end" font-weight="normal" fill="#1a1a1a" >4</text>
<text x="200" y="513.9" font-size="9.8" text-anchor="end" font-weight="normal" fill="#1a1a1a" >6</text>
<clipPath id="clipc11"><rect x="201.8" y="567.8" width="130.3" height="73"/></clipPath>
<g clip-path="url(#clipc11)">
<path d="M251.4,639.8 252.6,639.6 253.7,639.4 254.8,639.2 256,639 257.1,638.7 258.4,638.4 259.5,638.1 260.6,637.9 261.8,637.6 262.9,637.3 264,637 265.1,636.7 266.3,636.4 267.4,636 268.5,635.7 269.7,635.3 270.9,634.7 272.1,634.2 273.2,633.6 274.3,633 275.5,632.2 276.6,631.4 277.7,630.3 278.9,629.1 280,627.7 281.1,626.1 282.4,624.2 283.5,622.3 284.7,620.2 285.8,617.9 286.9,615.3 288.1,612.4 289.2,609.4 290.3,606.3 291.4,603.5 292.6,600.8 293.7,598.4 295,595.8 296.1,593.7 297.2,591.8 298.4,590 299.5,588.4 300.6,587.1 301.8,586.3 302.9,586.2 304,586.7 305.2,587.8 306.4,589.6 307.6,591.6 308.7,594.1 309.8,597.1 311,600.4 312.1,604 313.2,607.7 314.4,611.5 315.5,615.2 316.6,618.9 317.7,622.7 319,626.8 320.1,630.3 321.3,633.3 322.4,635.6 323.5,637.3 324.7,638.7 325.8,639.5 326.9,639.9 326.9,643 251.4,643Z" fill="rgba(74,143,210,0.13)"/>
<path d="M234.4,639.8 235.6,639.6 236.8,639.2 238,638.8 239.2,638.4 240.5,638 241.7,637.6 243,637.2 244.3,636.8 245.5,636.4 246.7,635.9 247.9,635.5 249.1,635 250.3,634.4 251.6,633.8 252.8,633.1 254,632.4 255.2,631.7 256.6,630.8 257.8,630.1 259,629.5 260.2,628.9 261.5,628.3 262.7,627.8 263.9,627.4 265.1,627.1 266.3,626.8 267.6,626.4 268.9,625.9 270.1,625.1 271.4,624.2 272.6,623.2 273.8,622 275,620.8 276.2,619.5 277.5,618.1 278.7,616.6 279.9,615 281.1,613.3 282.5,611.2 283.7,609.3 284.9,607.3 286.1,605.1 287.4,602.8 288.6,600.4 289.8,598.3 291,596.5 292.2,595.2 293.4,594.3 294.8,593.9 296,594.3 297.2,595.4 298.5,597.2 299.7,599.7 300.9,602.6 302.1,605.8 303.3,609.4 304.6,613.2 305.8,616.9 307,620.4 308.4,624.2 309.6,627.4 310.8,630.2 312,632.8 313.2,635 314.5,636.9 315.7,638.5 316.9,639.5 318.1,639.9 318.1,643 234.4,643Z" fill="rgba(74,143,210,0.13)"/>
<path d="M251.3,639.8 252.4,639.7 253.5,639.5 254.7,639.3 255.8,639.1 256.9,638.9 258.1,638.7 259.2,638.5 260.3,638.3 261.4,638.2 262.6,638 263.7,637.9 264.8,637.7 265.9,637.5 267,637.2 268.1,636.9 269.2,636.6 270.5,636.1 271.6,635.6 272.7,635 273.8,634.3 274.9,633.6 276,632.7 277.1,631.5 278.2,630.2 279.3,628.5 280.4,626.8 281.7,624.6 282.8,622.6 283.9,620.4 285,618.1 286.1,615.7 287.2,613.2 288.3,610.5 289.5,607.8 290.6,604.9 291.7,602 292.8,599 294,595.7 295.1,592.9 296.3,590.5 297.4,588.6 298.5,586.9 299.6,585.7 300.7,585 301.8,584.9 302.9,585.4 304,586.7 305.3,588.7 306.4,590.9 307.5,593.6 308.6,596.7 309.7,600 310.8,603.6 311.9,607.3 313,611 314.1,614.7 315.3,618.5 316.4,622.2 317.6,626.2 318.7,629.5 319.8,632.5 320.9,634.9 322,636.8 323.2,638.3 324.3,639.3 325.4,639.8 325.4,643 251.3,643Z" fill="rgba(236,80,84,0.15)"/>
<path d="M232.5,639.9 233.7,639.7 234.9,639.4 236.2,639.1 237.4,638.8 238.6,638.5 239.9,638.2 241.3,637.8 242.5,637.5 243.7,637.2 245,636.9 246.2,636.5 247.4,636.1 248.7,635.8 249.9,635.3 251.1,634.9 252.4,634.4 253.6,633.8 255,633.1 256.2,632.5 257.4,631.8 258.7,631.1 259.9,630.4 261.1,629.6 262.4,628.8 263.6,628 264.8,627 266.1,626.1 267.5,624.9 268.7,623.8 269.9,622.5 271.2,621.2 272.4,619.8 273.6,618.4 274.9,616.9 276.1,615.4 277.3,613.8 278.6,612.2 279.8,610.5 281.2,608.5 282.4,606.7 283.7,604.7 284.9,602.7 286.1,600.7 287.4,598.7 288.6,597.1 289.8,595.7 291.1,594.6 292.3,594 293.7,594 294.9,594.6 296.1,595.8 297.4,597.5 298.6,599.6 299.8,602.3 301.1,605.4 302.3,608.7 303.5,612.2 304.8,615.8 306,619.5 307.4,623.5 308.6,626.8 309.9,629.9 311.1,632.7 312.3,635.1 313.6,637 314.8,638.6 316,639.5 317.3,639.9 317.3,643 232.5,643Z" fill="rgba(236,80,84,0.15)"/>
<path d="M251.4,639.8 252.6,639.6 253.7,639.4 254.8,639.2 256,639 257.1,638.7 258.4,638.4 259.5,638.1 260.6,637.9 261.8,637.6 262.9,637.3 264,637 265.1,636.7 266.3,636.4 267.4,636 268.5,635.7 269.7,635.3 270.9,634.7 272.1,634.2 273.2,633.6 274.3,633 275.5,632.2 276.6,631.4 277.7,630.3 278.9,629.1 280,627.7 281.1,626.1 282.4,624.2 283.5,622.3 284.7,620.2 285.8,617.9 286.9,615.3 288.1,612.4 289.2,609.4 290.3,606.3 291.4,603.5 292.6,600.8 293.7,598.4 295,595.8 296.1,593.7 297.2,591.8 298.4,590 299.5,588.4 300.6,587.1 301.8,586.3 302.9,586.2 304,586.7 305.2,587.8 306.4,589.6 307.6,591.6 308.7,594.1 309.8,597.1 311,600.4 312.1,604 313.2,607.7 314.4,611.5 315.5,615.2 316.6,618.9 317.7,622.7 319,626.8 320.1,630.3 321.3,633.3 322.4,635.6 323.5,637.3 324.7,638.7 325.8,639.5 326.9,639.9" fill="none" stroke="#4b90d5" stroke-width="1.25" stroke-linejoin="round" stroke-dasharray="3.2,1.6"/>
<path d="M234.4,639.8 235.6,639.6 236.8,639.2 238,638.8 239.2,638.4 240.5,638 241.7,637.6 243,637.2 244.3,636.8 245.5,636.4 246.7,635.9 247.9,635.5 249.1,635 250.3,634.4 251.6,633.8 252.8,633.1 254,632.4 255.2,631.7 256.6,630.8 257.8,630.1 259,629.5 260.2,628.9 261.5,628.3 262.7,627.8 263.9,627.4 265.1,627.1 266.3,626.8 267.6,626.4 268.9,625.9 270.1,625.1 271.4,624.2 272.6,623.2 273.8,622 275,620.8 276.2,619.5 277.5,618.1 278.7,616.6 279.9,615 281.1,613.3 282.5,611.2 283.7,609.3 284.9,607.3 286.1,605.1 287.4,602.8 288.6,600.4 289.8,598.3 291,596.5 292.2,595.2 293.4,594.3 294.8,593.9 296,594.3 297.2,595.4 298.5,597.2 299.7,599.7 300.9,602.6 302.1,605.8 303.3,609.4 304.6,613.2 305.8,616.9 307,620.4 308.4,624.2 309.6,627.4 310.8,630.2 312,632.8 313.2,635 314.5,636.9 315.7,638.5 316.9,639.5 318.1,639.9" fill="none" stroke="#4b90d5" stroke-width="1.25" stroke-linejoin="round"/>
<path d="M251.3,639.8 252.4,639.7 253.5,639.5 254.7,639.3 255.8,639.1 256.9,638.9 258.1,638.7 259.2,638.5 260.3,638.3 261.4,638.2 262.6,638 263.7,637.9 264.8,637.7 265.9,637.5 267,637.2 268.1,636.9 269.2,636.6 270.5,636.1 271.6,635.6 272.7,635 273.8,634.3 274.9,633.6 276,632.7 277.1,631.5 278.2,630.2 279.3,628.5 280.4,626.8 281.7,624.6 282.8,622.6 283.9,620.4 285,618.1 286.1,615.7 287.2,613.2 288.3,610.5 289.5,607.8 290.6,604.9 291.7,602 292.8,599 294,595.7 295.1,592.9 296.3,590.5 297.4,588.6 298.5,586.9 299.6,585.7 300.7,585 301.8,584.9 302.9,585.4 304,586.7 305.3,588.7 306.4,590.9 307.5,593.6 308.6,596.7 309.7,600 310.8,603.6 311.9,607.3 313,611 314.1,614.7 315.3,618.5 316.4,622.2 317.6,626.2 318.7,629.5 319.8,632.5 320.9,634.9 322,636.8 323.2,638.3 324.3,639.3 325.4,639.8" fill="none" stroke="#ea5461" stroke-width="1.25" stroke-linejoin="round" stroke-dasharray="3.2,1.6"/>
<path d="M232.5,639.9 233.7,639.7 234.9,639.4 236.2,639.1 237.4,638.8 238.6,638.5 239.9,638.2 241.3,637.8 242.5,637.5 243.7,637.2 245,636.9 246.2,636.5 247.4,636.1 248.7,635.8 249.9,635.3 251.1,634.9 252.4,634.4 253.6,633.8 255,633.1 256.2,632.5 257.4,631.8 258.7,631.1 259.9,630.4 261.1,629.6 262.4,628.8 263.6,628 264.8,627 266.1,626.1 267.5,624.9 268.7,623.8 269.9,622.5 271.2,621.2 272.4,619.8 273.6,618.4 274.9,616.9 276.1,615.4 277.3,613.8 278.6,612.2 279.8,610.5 281.2,608.5 282.4,606.7 283.7,604.7 284.9,602.7 286.1,600.7 287.4,598.7 288.6,597.1 289.8,595.7 291.1,594.6 292.3,594 293.7,594 294.9,594.6 296.1,595.8 297.4,597.5 298.6,599.6 299.8,602.3 301.1,605.4 302.3,608.7 303.5,612.2 304.8,615.8 306,619.5 307.4,623.5 308.6,626.8 309.9,629.9 311.1,632.7 312.3,635.1 313.6,637 314.8,638.6 316,639.5 317.3,639.9" fill="none" stroke="#ea5461" stroke-width="1.25" stroke-linejoin="round"/>
</g>
<path d="M218.1,567.8 v1.2 M218.1,639.2 v-1.2 M234.4,567.8 v1.8 M234.4,639.2 v-1.8 M250.7,567.8 v1.2 M250.7,639.2 v-1.2 M266.9,567.8 v1.8 M266.9,639.2 v-1.8 M283.2,567.8 v1.2 M283.2,639.2 v-1.2 M299.5,567.8 v1.8 M299.5,639.2 v-1.8 M315.8,567.8 v1.2 M315.8,639.2 v-1.2 M201.8,620.6 h1.8 M332.1,620.6 h-1.8 M201.8,601.2 h1.8 M332.1,601.2 h-1.8 M201.8,581.8 h1.8 M332.1,581.8 h-1.8" stroke="#222" stroke-width="0.9" fill="none"/>
<rect x="201.8" y="567.8" width="130.3" height="71.4" fill="none" stroke="#1a1a1a" stroke-width="1.05"/>
<text x="200" y="624.1" font-size="9.8" text-anchor="end" font-weight="normal" fill="#1a1a1a" >2</text>
<text x="200" y="604.7" font-size="9.8" text-anchor="end" font-weight="normal" fill="#1a1a1a" >4</text>
<text x="200" y="585.3" font-size="9.8" text-anchor="end" font-weight="normal" fill="#1a1a1a" >6</text>
<clipPath id="clipc21"><rect x="201.8" y="639.2" width="130.3" height="72.4"/></clipPath>
<g clip-path="url(#clipc21)">
<path d="M220.9,710.6 222.4,710.4 224,710.2 225.5,710 227,709.8 228.6,709.5 230.3,709.3 231.8,709 233.4,708.7 234.9,708.5 236.5,708.2 238,707.9 239.5,707.6 241.1,707.4 242.6,707.1 244.2,706.8 245.7,706.5 247.4,706.2 249,705.8 250.5,705.5 252,705.1 253.6,704.7 255.1,704.2 256.6,703.7 258.2,703.2 259.7,702.5 261.3,701.8 263,700.8 264.5,699.7 266.1,698.5 267.6,697.1 269.1,695.7 270.7,694.1 272.2,692.5 273.8,690.9 275.3,689.3 276.8,687.7 278.4,686.1 280.1,684.1 281.6,682.3 283.2,680.4 284.7,678.6 286.3,677 287.8,675.4 289.3,674 290.9,672.7 292.4,671.4 293.9,670.2 295.7,669 297.2,668.3 298.7,668 300.3,668.3 301.8,669.4 303.4,671.2 304.9,673.4 306.4,675.9 308,678.8 309.5,682 311.1,685.5 312.8,689.4 314.3,692.7 315.9,695.8 317.4,698.8 318.9,701.7 320.5,704.6 322,707.2 323.5,709.3 325.1,710.4 326.6,710.8 326.6,713.8 220.9,713.8Z" fill="rgba(74,143,210,0.13)"/>
<path d="M209.8,710.7 211.3,710.4 212.9,710.1 214.5,709.7 216,709.3 217.6,708.9 219.2,708.6 220.7,708.2 222.5,707.8 224,707.5 225.6,707.1 227.2,706.8 228.7,706.4 230.3,706.1 231.9,705.7 233.4,705.4 235,705 236.6,704.6 238.1,704.3 239.9,703.9 241.5,703.5 243,703.1 244.6,702.7 246.2,702.3 247.7,701.8 249.3,701.3 250.9,700.9 252.4,700.3 254,699.8 255.8,699.1 257.3,698.4 258.9,697.7 260.5,696.8 262,695.9 263.6,694.9 265.2,693.8 266.7,692.6 268.3,691.2 269.9,689.7 271.4,687.9 273.2,685.7 274.8,683.8 276.3,681.9 277.9,680.1 279.5,678.3 281,676.5 282.6,674.8 284.2,673.2 285.7,671.9 287.3,670.8 289,669.7 290.6,669 292.2,668.8 293.7,669.4 295.3,671 296.9,673.4 298.4,676.1 300,679.2 301.6,682.5 303.1,685.9 304.7,689.4 306.5,693 308,696 309.6,698.7 311.2,701.2 312.7,703.6 314.3,705.8 315.9,707.9 317.4,709.6 319,710.5 319,713.8 209.8,713.8Z" fill="rgba(74,143,210,0.13)"/>
<path d="M219.2,710.6 220.7,710.5 222.3,710.2 223.8,710 225.3,709.7 226.8,709.4 228.3,709.1 230,708.8 231.5,708.5 233,708.2 234.5,707.8 236,707.5 237.5,707.2 239.1,706.9 240.6,706.6 242.1,706.2 243.6,705.9 245.1,705.5 246.8,705.1 248.3,704.7 249.8,704.2 251.3,703.7 252.8,703.2 254.3,702.7 255.8,702.2 257.4,701.6 258.9,701 260.4,700.3 262.1,699.5 263.6,698.8 265.1,697.9 266.6,697.1 268.1,696.1 269.6,695.1 271.1,693.9 272.6,692.7 274.2,691.4 275.7,689.8 277.2,687.8 278.9,685.2 280.4,682.7 281.9,680 283.4,677.5 284.9,675.3 286.4,673.4 287.9,671.7 289.4,670.1 290.9,668.7 292.5,667.4 294.2,666.3 295.7,665.7 297.2,665.7 298.7,666.6 300.2,668.6 301.7,671.2 303.2,674.2 304.7,677.5 306.2,681.1 307.7,684.9 309.3,688.6 311,692.4 312.5,695.4 314,698.3 315.5,701 317,703.5 318.5,705.9 320,708 321.5,709.7 323,710.6 323,713.8 219.2,713.8Z" fill="rgba(236,80,84,0.15)"/>
<path d="M213.6,710.6 215.2,710.5 216.7,710.3 218.3,710 219.8,709.7 221.4,709.4 223.1,709 224.7,708.7 226.2,708.3 227.7,707.9 229.3,707.5 230.8,707.2 232.4,706.8 233.9,706.4 235.5,706 237,705.6 238.6,705.1 240.3,704.4 241.9,703.8 243.4,703.2 245,702.6 246.5,702 248.1,701.6 249.6,701.2 251.2,700.8 252.7,700.3 254.3,699.9 256,699.3 257.6,698.7 259.1,698 260.7,697.2 262.2,696.3 263.8,695.3 265.3,694.2 266.9,692.9 268.4,691.6 270,690.2 271.5,688.7 273.2,687 274.8,685.3 276.3,683.4 277.9,681.5 279.4,679.5 281,677.3 282.5,674.9 284.1,672.2 285.6,669.4 287.2,666.9 288.9,664.7 290.5,663.3 292,662.5 293.6,662.9 295.1,664.5 296.7,667 298.2,670.2 299.8,673.8 301.3,677.9 302.9,682.2 304.4,686.4 306.2,690.6 307.7,694 309.3,697.1 310.8,700.1 312.4,702.9 313.9,705.4 315.5,707.7 317,709.5 318.5,710.5 318.5,713.8 213.6,713.8Z" fill="rgba(236,80,84,0.15)"/>
<path d="M220.9,710.6 222.4,710.4 224,710.2 225.5,710 227,709.8 228.6,709.5 230.3,709.3 231.8,709 233.4,708.7 234.9,708.5 236.5,708.2 238,707.9 239.5,707.6 241.1,707.4 242.6,707.1 244.2,706.8 245.7,706.5 247.4,706.2 249,705.8 250.5,705.5 252,705.1 253.6,704.7 255.1,704.2 256.6,703.7 258.2,703.2 259.7,702.5 261.3,701.8 263,700.8 264.5,699.7 266.1,698.5 267.6,697.1 269.1,695.7 270.7,694.1 272.2,692.5 273.8,690.9 275.3,689.3 276.8,687.7 278.4,686.1 280.1,684.1 281.6,682.3 283.2,680.4 284.7,678.6 286.3,677 287.8,675.4 289.3,674 290.9,672.7 292.4,671.4 293.9,670.2 295.7,669 297.2,668.3 298.7,668 300.3,668.3 301.8,669.4 303.4,671.2 304.9,673.4 306.4,675.9 308,678.8 309.5,682 311.1,685.5 312.8,689.4 314.3,692.7 315.9,695.8 317.4,698.8 318.9,701.7 320.5,704.6 322,707.2 323.5,709.3 325.1,710.4 326.6,710.8" fill="none" stroke="#4b90d5" stroke-width="1.25" stroke-linejoin="round" stroke-dasharray="3.2,1.6"/>
<path d="M209.8,710.7 211.3,710.4 212.9,710.1 214.5,709.7 216,709.3 217.6,708.9 219.2,708.6 220.7,708.2 222.5,707.8 224,707.5 225.6,707.1 227.2,706.8 228.7,706.4 230.3,706.1 231.9,705.7 233.4,705.4 235,705 236.6,704.6 238.1,704.3 239.9,703.9 241.5,703.5 243,703.1 244.6,702.7 246.2,702.3 247.7,701.8 249.3,701.3 250.9,700.9 252.4,700.3 254,699.8 255.8,699.1 257.3,698.4 258.9,697.7 260.5,696.8 262,695.9 263.6,694.9 265.2,693.8 266.7,692.6 268.3,691.2 269.9,689.7 271.4,687.9 273.2,685.7 274.8,683.8 276.3,681.9 277.9,680.1 279.5,678.3 281,676.5 282.6,674.8 284.2,673.2 285.7,671.9 287.3,670.8 289,669.7 290.6,669 292.2,668.8 293.7,669.4 295.3,671 296.9,673.4 298.4,676.1 300,679.2 301.6,682.5 303.1,685.9 304.7,689.4 306.5,693 308,696 309.6,698.7 311.2,701.2 312.7,703.6 314.3,705.8 315.9,707.9 317.4,709.6 319,710.5" fill="none" stroke="#4b90d5" stroke-width="1.25" stroke-linejoin="round"/>
<path d="M219.2,710.6 220.7,710.5 222.3,710.2 223.8,710 225.3,709.7 226.8,709.4 228.3,709.1 230,708.8 231.5,708.5 233,708.2 234.5,707.8 236,707.5 237.5,707.2 239.1,706.9 240.6,706.6 242.1,706.2 243.6,705.9 245.1,705.5 246.8,705.1 248.3,704.7 249.8,704.2 251.3,703.7 252.8,703.2 254.3,702.7 255.8,702.2 257.4,701.6 258.9,701 260.4,700.3 262.1,699.5 263.6,698.8 265.1,697.9 266.6,697.1 268.1,696.1 269.6,695.1 271.1,693.9 272.6,692.7 274.2,691.4 275.7,689.8 277.2,687.8 278.9,685.2 280.4,682.7 281.9,680 283.4,677.5 284.9,675.3 286.4,673.4 287.9,671.7 289.4,670.1 290.9,668.7 292.5,667.4 294.2,666.3 295.7,665.7 297.2,665.7 298.7,666.6 300.2,668.6 301.7,671.2 303.2,674.2 304.7,677.5 306.2,681.1 307.7,684.9 309.3,688.6 311,692.4 312.5,695.4 314,698.3 315.5,701 317,703.5 318.5,705.9 320,708 321.5,709.7 323,710.6" fill="none" stroke="#ea5461" stroke-width="1.25" stroke-linejoin="round" stroke-dasharray="3.2,1.6"/>
<path d="M213.6,710.6 215.2,710.5 216.7,710.3 218.3,710 219.8,709.7 221.4,709.4 223.1,709 224.7,708.7 226.2,708.3 227.7,707.9 229.3,707.5 230.8,707.2 232.4,706.8 233.9,706.4 235.5,706 237,705.6 238.6,705.1 240.3,704.4 241.9,703.8 243.4,703.2 245,702.6 246.5,702 248.1,701.6 249.6,701.2 251.2,700.8 252.7,700.3 254.3,699.9 256,699.3 257.6,698.7 259.1,698 260.7,697.2 262.2,696.3 263.8,695.3 265.3,694.2 266.9,692.9 268.4,691.6 270,690.2 271.5,688.7 273.2,687 274.8,685.3 276.3,683.4 277.9,681.5 279.4,679.5 281,677.3 282.5,674.9 284.1,672.2 285.6,669.4 287.2,666.9 288.9,664.7 290.5,663.3 292,662.5 293.6,662.9 295.1,664.5 296.7,667 298.2,670.2 299.8,673.8 301.3,677.9 302.9,682.2 304.4,686.4 306.2,690.6 307.7,694 309.3,697.1 310.8,700.1 312.4,702.9 313.9,705.4 315.5,707.7 317,709.5 318.5,710.5" fill="none" stroke="#ea5461" stroke-width="1.25" stroke-linejoin="round"/>
</g>
<path d="M218.1,639.2 v1.2 M218.1,710 v-1.2 M234.4,639.2 v1.8 M234.4,710 v-1.8 M250.7,639.2 v1.2 M250.7,710 v-1.2 M266.9,639.2 v1.8 M266.9,710 v-1.8 M283.2,639.2 v1.2 M283.2,710 v-1.2 M299.5,639.2 v1.8 M299.5,710 v-1.8 M315.8,639.2 v1.2 M315.8,710 v-1.2 M201.8,691.4 h1.8 M332.1,691.4 h-1.8 M201.8,672 h1.8 M332.1,672 h-1.8 M201.8,652.6 h1.8 M332.1,652.6 h-1.8" stroke="#222" stroke-width="0.9" fill="none"/>
<rect x="201.8" y="639.2" width="130.3" height="70.8" fill="none" stroke="#1a1a1a" stroke-width="1.05"/>
<text x="200" y="694.9" font-size="9.8" text-anchor="end" font-weight="normal" fill="#1a1a1a" >2</text>
<text x="200" y="675.5" font-size="9.8" text-anchor="end" font-weight="normal" fill="#1a1a1a" >4</text>
<text x="200" y="656.1" font-size="9.8" text-anchor="end" font-weight="normal" fill="#1a1a1a" >6</text>
<clipPath id="clipc02"><rect x="367.4" y="496.6" width="130.3" height="72.8"/></clipPath>
<g clip-path="url(#clipc02)">
<path d="M402.1,568.4 403.6,568.3 405,568.1 406.5,567.9 407.9,567.7 409.6,567.4 411,567.2 412.4,566.9 413.9,566.6 415.3,566.3 416.8,566 418.2,565.7 419.7,565.3 421.1,564.9 422.6,564.4 424,563.7 425.6,562.9 427.1,562.1 428.5,561.3 430,560.5 431.4,559.8 432.9,559 434.3,558.3 435.8,557.5 437.2,556.8 438.7,555.9 440.3,554.9 441.7,553.8 443.2,552.5 444.6,550.8 446.1,549 447.5,547.1 449,545.6 450.4,544.3 451.9,543.3 453.3,542.4 454.8,541.7 456.4,541 457.8,540.5 459.3,540 460.7,539.4 462.2,538.8 463.6,538.1 465.1,537.5 466.5,536.9 468,536.5 469.4,536.3 471,536.3 472.5,536.6 473.9,537 475.4,537.6 476.8,538.2 478.3,538.7 479.7,539.2 481.2,540 482.6,541.6 484.1,544.2 485.5,547.6 487.1,551.7 488.6,555.2 490,558.4 491.5,561.2 492.9,563.4 494.4,565.3 495.8,566.9 497.3,568 498.7,568.5 498.7,571.6 402.1,571.6Z" fill="rgba(74,143,210,0.13)"/>
<path d="M402.1,568.4 403.5,568.2 404.9,568.1 406.4,567.8 407.8,567.6 409.4,567.2 410.9,566.9 412.3,566.6 413.7,566.3 415.2,565.9 416.6,565.6 418,565.2 419.5,564.7 420.9,564.1 422.4,563.4 423.8,562.5 425.4,561.4 426.8,560.4 428.3,559.4 429.7,558.5 431.1,557.5 432.6,556.6 434,555.7 435.5,554.7 436.9,553.7 438.3,552.4 439.9,550.7 441.4,548.7 442.8,546.3 444.2,543.9 445.7,541.8 447.1,540.2 448.6,539.1 450,538.5 451.4,538.2 452.9,538 454.3,537.8 455.9,537.7 457.3,537.5 458.8,537.4 460.2,537.3 461.7,537.3 463.1,537.5 464.5,538 466,538.9 467.4,539.9 468.8,541.1 470.4,542.6 471.9,544.1 473.3,545.4 474.8,546.6 476.2,547.7 477.6,548.7 479.1,549.7 480.5,550.8 481.9,552 483.4,553.3 484.8,554.7 486.4,556.5 487.9,558.1 489.3,559.7 490.7,561.4 492.2,563.1 493.6,564.8 495,566.4 496.5,567.7 497.9,568.4 497.9,571.6 402.1,571.6Z" fill="rgba(236,80,84,0.15)"/>
<path d="M402.1,568.4 403.6,568.3 405,568.1 406.5,567.9 407.9,567.7 409.6,567.4 411,567.2 412.4,566.9 413.9,566.6 415.3,566.3 416.8,566 418.2,565.7 419.7,565.3 421.1,564.9 422.6,564.4 424,563.7 425.6,562.9 427.1,562.1 428.5,561.3 430,560.5 431.4,559.8 432.9,559 434.3,558.3 435.8,557.5 437.2,556.8 438.7,555.9 440.3,554.9 441.7,553.8 443.2,552.5 444.6,550.8 446.1,549 447.5,547.1 449,545.6 450.4,544.3 451.9,543.3 453.3,542.4 454.8,541.7 456.4,541 457.8,540.5 459.3,540 460.7,539.4 462.2,538.8 463.6,538.1 465.1,537.5 466.5,536.9 468,536.5 469.4,536.3 471,536.3 472.5,536.6 473.9,537 475.4,537.6 476.8,538.2 478.3,538.7 479.7,539.2 481.2,540 482.6,541.6 484.1,544.2 485.5,547.6 487.1,551.7 488.6,555.2 490,558.4 491.5,561.2 492.9,563.4 494.4,565.3 495.8,566.9 497.3,568 498.7,568.5" fill="none" stroke="#4b90d5" stroke-width="1.25" stroke-linejoin="round"/>
<path d="M402.1,568.4 403.5,568.2 404.9,568.1 406.4,567.8 407.8,567.6 409.4,567.2 410.9,566.9 412.3,566.6 413.7,566.3 415.2,565.9 416.6,565.6 418,565.2 419.5,564.7 420.9,564.1 422.4,563.4 423.8,562.5 425.4,561.4 426.8,560.4 428.3,559.4 429.7,558.5 431.1,557.5 432.6,556.6 434,555.7 435.5,554.7 436.9,553.7 438.3,552.4 439.9,550.7 441.4,548.7 442.8,546.3 444.2,543.9 445.7,541.8 447.1,540.2 448.6,539.1 450,538.5 451.4,538.2 452.9,538 454.3,537.8 455.9,537.7 457.3,537.5 458.8,537.4 460.2,537.3 461.7,537.3 463.1,537.5 464.5,538 466,538.9 467.4,539.9 468.8,541.1 470.4,542.6 471.9,544.1 473.3,545.4 474.8,546.6 476.2,547.7 477.6,548.7 479.1,549.7 480.5,550.8 481.9,552 483.4,553.3 484.8,554.7 486.4,556.5 487.9,558.1 489.3,559.7 490.7,561.4 492.2,563.1 493.6,564.8 495,566.4 496.5,567.7 497.9,568.4" fill="none" stroke="#ea5461" stroke-width="1.25" stroke-linejoin="round"/>
</g>
<path d="M383.7,496.6 v1.2 M383.7,567.8 v-1.2 M400,496.6 v1.8 M400,567.8 v-1.8 M416.3,496.6 v1.2 M416.3,567.8 v-1.2 M432.5,496.6 v1.8 M432.5,567.8 v-1.8 M448.8,496.6 v1.2 M448.8,567.8 v-1.2 M465.1,496.6 v1.8 M465.1,567.8 v-1.8 M481.4,496.6 v1.2 M481.4,567.8 v-1.2 M367.4,549.2 h1.8 M497.7,549.2 h-1.8 M367.4,529.8 h1.8 M497.7,529.8 h-1.8 M367.4,510.4 h1.8 M497.7,510.4 h-1.8" stroke="#222" stroke-width="0.9" fill="none"/>
<rect x="367.4" y="496.6" width="130.3" height="71.2" fill="none" stroke="#1a1a1a" stroke-width="1.05"/>
<text x="365.6" y="552.7" font-size="9.8" text-anchor="end" font-weight="normal" fill="#1a1a1a" >2</text>
<text x="365.6" y="533.3" font-size="9.8" text-anchor="end" font-weight="normal" fill="#1a1a1a" >4</text>
<text x="365.6" y="513.9" font-size="9.8" text-anchor="end" font-weight="normal" fill="#1a1a1a" >6</text>
<clipPath id="clipc12"><rect x="367.4" y="567.8" width="130.3" height="73"/></clipPath>
<g clip-path="url(#clipc12)">
<path d="M405.4,639.8 406.7,639.6 408.1,639.4 409.4,639.1 410.8,638.7 412.1,638.4 413.5,638.1 415,637.7 416.3,637.4 417.7,637 419,636.7 420.4,636.4 421.7,636 423.1,635.7 424.4,635.3 425.8,635 427.1,634.6 428.5,634.2 430,633.7 431.3,633.3 432.7,632.8 434,632.3 435.4,631.8 436.7,631.2 438.1,630.5 439.4,629.7 440.8,628.8 442.1,627.7 443.6,626.4 445,625.2 446.3,623.9 447.7,622.5 449,621.1 450.4,619.6 451.7,618 453.1,616.5 454.4,614.9 455.8,613.2 457.1,611.6 458.6,609.7 460,608.2 461.3,606.8 462.7,605.5 464,604.2 465.4,603 466.7,601.8 468.1,600.9 469.4,600.3 470.8,600 472.3,600.1 473.6,600.7 475,601.6 476.3,602.7 477.7,603.9 479,605 480.4,606.2 481.7,607.5 483.1,608.9 484.4,610.6 485.8,612.6 487.3,615.7 488.7,619.2 490,623 491.3,626.8 492.7,630.5 494,633.8 495.4,636.6 496.7,638.7 498.1,639.7 499.4,640 499.4,643 405.4,643Z" fill="rgba(74,143,210,0.13)"/>
<path d="M405.7,639.8 406.9,639.6 408.1,639.4 409.3,639.1 410.5,638.8 411.9,638.4 413.1,638 414.3,637.6 415.6,637.2 416.8,636.8 418,636.3 419.2,635.8 420.4,635.1 421.6,634.2 422.9,633 424.1,631.7 425.5,630.3 426.7,629.2 427.9,628.4 429.1,628 430.3,627.9 431.5,628 432.8,628.2 434,628.1 435.2,627.8 436.4,626.9 437.8,625.5 439,624 440.2,622.4 441.4,620.8 442.7,619.1 443.9,617.4 445.1,615.7 446.3,613.9 447.5,612 448.7,610.2 450,608.2 451.3,606 452.6,604.1 453.8,602.4 455,601 456.2,599.9 457.4,599 458.6,598.4 459.9,598.2 461.1,598.4 462.3,599 463.7,600.1 464.9,601.6 466.1,603.7 467.3,606.3 468.5,609.3 469.8,612.4 471,615.6 472.2,618.8 473.4,622 474.6,625 475.9,627.7 477.2,630.4 478.4,632.4 479.7,634.1 480.9,635.7 482.1,637 483.3,638.3 484.5,639.2 485.7,639.7 485.7,643 405.7,643Z" fill="rgba(74,143,210,0.13)"/>
<path d="M406.7,639.7 408,639.5 409.4,639.2 410.7,638.9 412.1,638.6 413.4,638.3 414.9,637.9 416.2,637.5 417.6,637.2 418.9,636.8 420.3,636.5 421.6,636.1 423,635.7 424.3,635.3 425.6,635 427,634.5 428.3,634.1 429.8,633.6 431.2,633 432.5,632.5 433.9,631.9 435.2,631.2 436.5,630.5 437.9,629.7 439.2,628.8 440.6,627.7 441.9,626.4 443.4,624.9 444.8,623.6 446.1,622.2 447.5,620.8 448.8,619.3 450.1,617.9 451.5,616.4 452.8,615 454.2,613.4 455.5,611.9 456.8,610.3 458.4,608.5 459.7,607.2 461,606 462.4,605 463.7,604.3 465.1,603.6 466.4,603 467.8,602.5 469.1,602.1 470.4,602 471.9,602.2 473.3,602.7 474.6,603.5 476,604.5 477.3,605.5 478.7,606.4 480,607.2 481.3,608.1 482.7,609.1 484,610.6 485.4,612.8 486.9,616.3 488.2,619.9 489.6,623.5 490.9,627.1 492.2,630.6 493.6,633.8 494.9,636.6 496.3,638.7 497.6,639.7 499,640 499,643 406.7,643Z" fill="rgba(236,80,84,0.15)"/>
<path d="M405.6,639.8 406.8,639.6 408,639.3 409.3,639 410.5,638.7 411.8,638.3 413,637.9 414.2,637.5 415.5,637.1 416.7,636.7 417.9,636.3 419.1,635.8 420.3,635.3 421.5,634.7 422.7,634 423.9,633.3 425.3,632.4 426.5,631.5 427.7,630.7 428.9,630 430.2,629.2 431.4,628.5 432.6,627.8 433.8,627.1 435,626.4 436.2,625.6 437.6,624.5 438.8,623.3 440,621.9 441.2,620.3 442.4,618.4 443.6,616.4 444.8,614.2 446.1,612.1 447.3,609.9 448.5,607.8 449.7,605.7 451.1,603.3 452.3,601.2 453.5,599.3 454.7,597.6 455.9,596.1 457.1,595 458.3,594.1 459.5,593.8 460.7,594.4 462,595.8 463.3,598.3 464.5,600.9 465.7,603.7 467,606.5 468.2,609.3 469.4,612.3 470.6,615.5 471.8,618.8 473,622.2 474.2,625.4 475.4,628.3 476.8,631.1 478,633.1 479.2,634.8 480.4,636.2 481.6,637.5 482.9,638.6 484.1,639.4 485.3,639.8 485.3,643 405.6,643Z" fill="rgba(236,80,84,0.15)"/>
<path d="M405.4,639.8 406.7,639.6 408.1,639.4 409.4,639.1 410.8,638.7 412.1,638.4 413.5,638.1 415,637.7 416.3,637.4 417.7,637 419,636.7 420.4,636.4 421.7,636 423.1,635.7 424.4,635.3 425.8,635 427.1,634.6 428.5,634.2 430,633.7 431.3,633.3 432.7,632.8 434,632.3 435.4,631.8 436.7,631.2 438.1,630.5 439.4,629.7 440.8,628.8 442.1,627.7 443.6,626.4 445,625.2 446.3,623.9 447.7,622.5 449,621.1 450.4,619.6 451.7,618 453.1,616.5 454.4,614.9 455.8,613.2 457.1,611.6 458.6,609.7 460,608.2 461.3,606.8 462.7,605.5 464,604.2 465.4,603 466.7,601.8 468.1,600.9 469.4,600.3 470.8,600 472.3,600.1 473.6,600.7 475,601.6 476.3,602.7 477.7,603.9 479,605 480.4,606.2 481.7,607.5 483.1,608.9 484.4,610.6 485.8,612.6 487.3,615.7 488.7,619.2 490,623 491.3,626.8 492.7,630.5 494,633.8 495.4,636.6 496.7,638.7 498.1,639.7 499.4,640" fill="none" stroke="#4b90d5" stroke-width="1.25" stroke-linejoin="round" stroke-dasharray="3.2,1.6"/>
<path d="M405.7,639.8 406.9,639.6 408.1,639.4 409.3,639.1 410.5,638.8 411.9,638.4 413.1,638 414.3,637.6 415.6,637.2 416.8,636.8 418,636.3 419.2,635.8 420.4,635.1 421.6,634.2 422.9,633 424.1,631.7 425.5,630.3 426.7,629.2 427.9,628.4 429.1,628 430.3,627.9 431.5,628 432.8,628.2 434,628.1 435.2,627.8 436.4,626.9 437.8,625.5 439,624 440.2,622.4 441.4,620.8 442.7,619.1 443.9,617.4 445.1,615.7 446.3,613.9 447.5,612 448.7,610.2 450,608.2 451.3,606 452.6,604.1 453.8,602.4 455,601 456.2,599.9 457.4,599 458.6,598.4 459.9,598.2 461.1,598.4 462.3,599 463.7,600.1 464.9,601.6 466.1,603.7 467.3,606.3 468.5,609.3 469.8,612.4 471,615.6 472.2,618.8 473.4,622 474.6,625 475.9,627.7 477.2,630.4 478.4,632.4 479.7,634.1 480.9,635.7 482.1,637 483.3,638.3 484.5,639.2 485.7,639.7" fill="none" stroke="#4b90d5" stroke-width="1.25" stroke-linejoin="round"/>
<path d="M406.7,639.7 408,639.5 409.4,639.2 410.7,638.9 412.1,638.6 413.4,638.3 414.9,637.9 416.2,637.5 417.6,637.2 418.9,636.8 420.3,636.5 421.6,636.1 423,635.7 424.3,635.3 425.6,635 427,634.5 428.3,634.1 429.8,633.6 431.2,633 432.5,632.5 433.9,631.9 435.2,631.2 436.5,630.5 437.9,629.7 439.2,628.8 440.6,627.7 441.9,626.4 443.4,624.9 444.8,623.6 446.1,622.2 447.5,620.8 448.8,619.3 450.1,617.9 451.5,616.4 452.8,615 454.2,613.4 455.5,611.9 456.8,610.3 458.4,608.5 459.7,607.2 461,606 462.4,605 463.7,604.3 465.1,603.6 466.4,603 467.8,602.5 469.1,602.1 470.4,602 471.9,602.2 473.3,602.7 474.6,603.5 476,604.5 477.3,605.5 478.7,606.4 480,607.2 481.3,608.1 482.7,609.1 484,610.6 485.4,612.8 486.9,616.3 488.2,619.9 489.6,623.5 490.9,627.1 492.2,630.6 493.6,633.8 494.9,636.6 496.3,638.7 497.6,639.7 499,640" fill="none" stroke="#ea5461" stroke-width="1.25" stroke-linejoin="round" stroke-dasharray="3.2,1.6"/>
<path d="M405.6,639.8 406.8,639.6 408,639.3 409.3,639 410.5,638.7 411.8,638.3 413,637.9 414.2,637.5 415.5,637.1 416.7,636.7 417.9,636.3 419.1,635.8 420.3,635.3 421.5,634.7 422.7,634 423.9,633.3 425.3,632.4 426.5,631.5 427.7,630.7 428.9,630 430.2,629.2 431.4,628.5 432.6,627.8 433.8,627.1 435,626.4 436.2,625.6 437.6,624.5 438.8,623.3 440,621.9 441.2,620.3 442.4,618.4 443.6,616.4 444.8,614.2 446.1,612.1 447.3,609.9 448.5,607.8 449.7,605.7 451.1,603.3 452.3,601.2 453.5,599.3 454.7,597.6 455.9,596.1 457.1,595 458.3,594.1 459.5,593.8 460.7,594.4 462,595.8 463.3,598.3 464.5,600.9 465.7,603.7 467,606.5 468.2,609.3 469.4,612.3 470.6,615.5 471.8,618.8 473,622.2 474.2,625.4 475.4,628.3 476.8,631.1 478,633.1 479.2,634.8 480.4,636.2 481.6,637.5 482.9,638.6 484.1,639.4 485.3,639.8" fill="none" stroke="#ea5461" stroke-width="1.25" stroke-linejoin="round"/>
</g>
<path d="M383.7,567.8 v1.2 M383.7,639.2 v-1.2 M400,567.8 v1.8 M400,639.2 v-1.8 M416.3,567.8 v1.2 M416.3,639.2 v-1.2 M432.5,567.8 v1.8 M432.5,639.2 v-1.8 M448.8,567.8 v1.2 M448.8,639.2 v-1.2 M465.1,567.8 v1.8 M465.1,639.2 v-1.8 M481.4,567.8 v1.2 M481.4,639.2 v-1.2 M367.4,620.6 h1.8 M497.7,620.6 h-1.8 M367.4,601.2 h1.8 M497.7,601.2 h-1.8 M367.4,581.8 h1.8 M497.7,581.8 h-1.8" stroke="#222" stroke-width="0.9" fill="none"/>
<rect x="367.4" y="567.8" width="130.3" height="71.4" fill="none" stroke="#1a1a1a" stroke-width="1.05"/>
<text x="365.6" y="624.1" font-size="9.8" text-anchor="end" font-weight="normal" fill="#1a1a1a" >2</text>
<text x="365.6" y="604.7" font-size="9.8" text-anchor="end" font-weight="normal" fill="#1a1a1a" >4</text>
<text x="365.6" y="585.3" font-size="9.8" text-anchor="end" font-weight="normal" fill="#1a1a1a" >6</text>
<clipPath id="clipc22"><rect x="367.4" y="639.2" width="130.3" height="72.4"/></clipPath>
<g clip-path="url(#clipc22)">
<path d="M385.3,710.6 386.9,710.5 388.5,710.3 390.1,710.1 391.7,709.8 393.4,709.6 395,709.3 396.8,709 398.4,708.8 400,708.5 401.7,708.2 403.3,707.9 404.9,707.7 406.5,707.4 408.1,707.1 409.8,706.8 411.4,706.5 413,706.2 414.8,705.8 416.4,705.5 418,705.1 419.7,704.7 421.3,704.2 422.9,703.7 424.5,703.1 426.1,702.4 427.8,701.7 429.4,700.7 431.2,699.6 432.8,698.5 434.4,697.4 436.1,696.2 437.7,694.9 439.3,693.4 440.9,691.9 442.5,690.4 444.1,688.9 445.8,687.6 447.4,686.2 449.2,684.7 450.8,683.6 452.4,682.6 454.1,681.8 455.7,681.2 457.3,680.7 458.9,680.2 460.5,679.8 462.1,679.4 463.8,679.1 465.6,678.8 467.2,678.5 468.8,678.4 470.4,678.4 472.1,678.8 473.7,679.9 475.3,681.4 476.9,683.3 478.5,685.3 480.2,687.4 481.8,689.8 483.6,692.8 485.2,695.7 486.8,699 488.4,702 490.1,704.6 491.7,706.8 493.3,708.5 494.9,709.9 496.5,710.6 496.5,713.8 385.3,713.8Z" fill="rgba(74,143,210,0.13)"/>
<path d="M381.7,710.6 383.2,710.5 384.8,710.3 386.4,710.2 387.9,710 389.7,709.7 391.3,709.5 392.8,709.3 394.4,709 396,708.8 397.5,708.5 399.1,708.3 400.7,708 402.2,707.7 403.8,707.2 405.4,706.8 407.1,706.2 408.7,705.7 410.3,705.2 411.8,704.8 413.4,704.5 415,704.3 416.5,704.2 418.1,704.2 419.7,704.2 421.2,704.2 423,704.2 424.6,704.2 426.1,704 427.7,703.7 429.3,703.1 430.8,702.2 432.4,701.2 434,700 435.5,698.8 437.1,697.4 438.7,695.7 440.4,693.8 442,692 443.5,690.1 445.1,688.1 446.7,686.1 448.2,683.9 449.8,681.7 451.4,679.6 452.9,677.8 454.5,676.3 456.3,674.8 457.8,673.6 459.4,672.7 461,671.9 462.5,671.3 464.1,671.1 465.7,671.9 467.2,673.7 468.8,676.7 470.4,681 471.9,686 473.7,691.8 475.3,696.7 476.8,700.8 478.4,704 480,706.4 481.5,708.2 483.1,709.6 484.7,710.5 486.2,710.7 486.2,713.8 381.7,713.8Z" fill="rgba(74,143,210,0.13)"/>
<path d="M386.7,710.6 388.3,710.5 389.9,710.3 391.5,710.1 393.1,709.9 394.7,709.6 396.5,709.3 398.1,709 399.6,708.7 401.2,708.4 402.8,708.1 404.4,707.8 406,707.5 407.6,707.2 409.2,706.9 410.8,706.6 412.3,706.2 414.1,705.8 415.7,705.3 417.3,704.8 418.9,704.3 420.5,703.8 422.1,703.2 423.7,702.5 425.2,701.8 426.8,700.9 428.4,700 430.2,698.7 431.8,697.6 433.4,696.4 435,695.1 436.6,693.8 438.2,692.5 439.7,691 441.3,689.6 442.9,688.1 444.5,686.7 446.1,685.3 447.9,683.8 449.5,682.5 451.1,681.5 452.6,680.8 454.2,680.4 455.8,680 457.4,679.7 459,679.4 460.6,679.1 462.2,678.9 464,678.8 465.5,678.8 467.1,679.1 468.7,679.9 470.3,681.3 471.9,683.1 473.5,685 475.1,687 476.7,689.1 478.2,691.4 479.8,693.8 481.6,696.7 483.2,699.4 484.8,701.9 486.4,704.1 488,705.9 489.6,707.5 491.1,709 492.7,710.1 494.3,710.7 494.3,713.8 386.7,713.8Z" fill="rgba(236,80,84,0.15)"/>
<path d="M384.6,710.5 386.2,710.4 387.7,710.2 389.2,710.1 390.7,709.9 392.4,709.7 393.9,709.5 395.4,709.3 397,709.1 398.5,708.9 400,708.7 401.5,708.5 403,708.4 404.5,708.2 406.1,707.9 407.6,707.7 409.3,707.5 410.8,707.2 412.3,707 413.8,706.7 415.3,706.4 416.9,706 418.4,705.6 419.9,705.1 421.4,704.5 422.9,703.8 424.6,703 426.1,702.2 427.7,701.4 429.2,700.6 430.7,699.8 432.2,698.9 433.7,697.9 435.2,696.8 436.8,695.6 438.3,694.4 439.8,693 441.5,691.4 443,689.9 444.5,688.2 446,686.4 447.6,684.3 449.1,682.2 450.6,680 452.1,677.9 453.6,676.1 455.1,674.5 456.8,672.9 458.4,671.6 459.9,670.5 461.4,669.6 462.9,669.1 464.4,669.1 465.9,670.3 467.5,672.7 469,676.3 470.5,681 472,686.7 473.7,693.3 475.2,698.3 476.7,701.9 478.3,704.6 479.8,706.7 481.3,708.5 482.8,709.8 484.3,710.5 484.3,713.8 384.6,713.8Z" fill="rgba(236,80,84,0.15)"/>
<path d="M385.3,710.6 386.9,710.5 388.5,710.3 390.1,710.1 391.7,709.8 393.4,709.6 395,709.3 396.8,709 398.4,708.8 400,708.5 401.7,708.2 403.3,707.9 404.9,707.7 406.5,707.4 408.1,707.1 409.8,706.8 411.4,706.5 413,706.2 414.8,705.8 416.4,705.5 418,705.1 419.7,704.7 421.3,704.2 422.9,703.7 424.5,703.1 426.1,702.4 427.8,701.7 429.4,700.7 431.2,699.6 432.8,698.5 434.4,697.4 436.1,696.2 437.7,694.9 439.3,693.4 440.9,691.9 442.5,690.4 444.1,688.9 445.8,687.6 447.4,686.2 449.2,684.7 450.8,683.6 452.4,682.6 454.1,681.8 455.7,681.2 457.3,680.7 458.9,680.2 460.5,679.8 462.1,679.4 463.8,679.1 465.6,678.8 467.2,678.5 468.8,678.4 470.4,678.4 472.1,678.8 473.7,679.9 475.3,681.4 476.9,683.3 478.5,685.3 480.2,687.4 481.8,689.8 483.6,692.8 485.2,695.7 486.8,699 488.4,702 490.1,704.6 491.7,706.8 493.3,708.5 494.9,709.9 496.5,710.6" fill="none" stroke="#4b90d5" stroke-width="1.25" stroke-linejoin="round" stroke-dasharray="3.2,1.6"/>
<path d="M381.7,710.6 383.2,710.5 384.8,710.3 386.4,710.2 387.9,710 389.7,709.7 391.3,709.5 392.8,709.3 394.4,709 396,708.8 397.5,708.5 399.1,708.3 400.7,708 402.2,707.7 403.8,707.2 405.4,706.8 407.1,706.2 408.7,705.7 410.3,705.2 411.8,704.8 413.4,704.5 415,704.3 416.5,704.2 418.1,704.2 419.7,704.2 421.2,704.2 423,704.2 424.6,704.2 426.1,704 427.7,703.7 429.3,703.1 430.8,702.2 432.4,701.2 434,700 435.5,698.8 437.1,697.4 438.7,695.7 440.4,693.8 442,692 443.5,690.1 445.1,688.1 446.7,686.1 448.2,683.9 449.8,681.7 451.4,679.6 452.9,677.8 454.5,676.3 456.3,674.8 457.8,673.6 459.4,672.7 461,671.9 462.5,671.3 464.1,671.1 465.7,671.9 467.2,673.7 468.8,676.7 470.4,681 471.9,686 473.7,691.8 475.3,696.7 476.8,700.8 478.4,704 480,706.4 481.5,708.2 483.1,709.6 484.7,710.5 486.2,710.7" fill="none" stroke="#4b90d5" stroke-width="1.25" stroke-linejoin="round"/>
<path d="M386.7,710.6 388.3,710.5 389.9,710.3 391.5,710.1 393.1,709.9 394.7,709.6 396.5,709.3 398.1,709 399.6,708.7 401.2,708.4 402.8,708.1 404.4,707.8 406,707.5 407.6,707.2 409.2,706.9 410.8,706.6 412.3,706.2 414.1,705.8 415.7,705.3 417.3,704.8 418.9,704.3 420.5,703.8 422.1,703.2 423.7,702.5 425.2,701.8 426.8,700.9 428.4,700 430.2,698.7 431.8,697.6 433.4,696.4 435,695.1 436.6,693.8 438.2,692.5 439.7,691 441.3,689.6 442.9,688.1 444.5,686.7 446.1,685.3 447.9,683.8 449.5,682.5 451.1,681.5 452.6,680.8 454.2,680.4 455.8,680 457.4,679.7 459,679.4 460.6,679.1 462.2,678.9 464,678.8 465.5,678.8 467.1,679.1 468.7,679.9 470.3,681.3 471.9,683.1 473.5,685 475.1,687 476.7,689.1 478.2,691.4 479.8,693.8 481.6,696.7 483.2,699.4 484.8,701.9 486.4,704.1 488,705.9 489.6,707.5 491.1,709 492.7,710.1 494.3,710.7" fill="none" stroke="#ea5461" stroke-width="1.25" stroke-linejoin="round" stroke-dasharray="3.2,1.6"/>
<path d="M384.6,710.5 386.2,710.4 387.7,710.2 389.2,710.1 390.7,709.9 392.4,709.7 393.9,709.5 395.4,709.3 397,709.1 398.5,708.9 400,708.7 401.5,708.5 403,708.4 404.5,708.2 406.1,707.9 407.6,707.7 409.3,707.5 410.8,707.2 412.3,707 413.8,706.7 415.3,706.4 416.9,706 418.4,705.6 419.9,705.1 421.4,704.5 422.9,703.8 424.6,703 426.1,702.2 427.7,701.4 429.2,700.6 430.7,699.8 432.2,698.9 433.7,697.9 435.2,696.8 436.8,695.6 438.3,694.4 439.8,693 441.5,691.4 443,689.9 444.5,688.2 446,686.4 447.6,684.3 449.1,682.2 450.6,680 452.1,677.9 453.6,676.1 455.1,674.5 456.8,672.9 458.4,671.6 459.9,670.5 461.4,669.6 462.9,669.1 464.4,669.1 465.9,670.3 467.5,672.7 469,676.3 470.5,681 472,686.7 473.7,693.3 475.2,698.3 476.7,701.9 478.3,704.6 479.8,706.7 481.3,708.5 482.8,709.8 484.3,710.5" fill="none" stroke="#ea5461" stroke-width="1.25" stroke-linejoin="round"/>
</g>
<path d="M383.7,639.2 v1.2 M383.7,710 v-1.2 M400,639.2 v1.8 M400,710 v-1.8 M416.3,639.2 v1.2 M416.3,710 v-1.2 M432.5,639.2 v1.8 M432.5,710 v-1.8 M448.8,639.2 v1.2 M448.8,710 v-1.2 M465.1,639.2 v1.8 M465.1,710 v-1.8 M481.4,639.2 v1.2 M481.4,710 v-1.2 M367.4,691.4 h1.8 M497.7,691.4 h-1.8 M367.4,672 h1.8 M497.7,672 h-1.8 M367.4,652.6 h1.8 M497.7,652.6 h-1.8" stroke="#222" stroke-width="0.9" fill="none"/>
<rect x="367.4" y="639.2" width="130.3" height="70.8" fill="none" stroke="#1a1a1a" stroke-width="1.05"/>
<text x="365.6" y="694.9" font-size="9.8" text-anchor="end" font-weight="normal" fill="#1a1a1a" >2</text>
<text x="365.6" y="675.5" font-size="9.8" text-anchor="end" font-weight="normal" fill="#1a1a1a" >4</text>
<text x="365.6" y="656.1" font-size="9.8" text-anchor="end" font-weight="normal" fill="#1a1a1a" >6</text>
<clipPath id="clipc03"><rect x="533.7" y="496.6" width="130.1" height="72.8"/></clipPath>
<g clip-path="url(#clipc03)">
<path d="M553.9,568.5 554.8,568.4 555.7,568.3 556.7,568.1 557.6,568 558.5,567.8 559.4,567.6 560.3,567.3 561.2,567.1 562.1,566.9 563,566.6 563.9,566.1 564.8,565.6 565.8,564.9 566.8,564 567.7,563.1 568.6,562.1 569.5,561.1 570.4,560.1 571.3,558.9 572.2,557.5 573.1,556 574,554.4 574.9,552.8 575.9,551 576.8,549.4 577.7,548 578.6,546.7 579.5,545.5 580.4,544.4 581.3,543.4 582.2,542.3 583.1,541.3 584,540.3 584.9,539.1 585.9,537.7 586.8,536.7 587.7,536.1 588.6,536 589.5,536.3 590.4,536.9 591.3,537.6 592.2,538.4 593.1,539.2 594,540.3 595,541.6 595.9,542.9 596.8,544.5 597.7,546.4 598.7,548.5 599.6,550.8 600.5,553.2 601.4,555.4 602.3,557.4 603.2,559.1 604.1,560.7 605.1,562.3 606,563.7 606.9,565 607.8,566.2 608.7,567.4 609.6,568.3 610.5,568.6 610.5,571.6 553.9,571.6Z" fill="rgba(74,143,210,0.13)"/>
<path d="M558.7,568.5 559.5,568.3 560.3,568 561.1,567.7 562,567.1 562.7,566.6 563.5,566.1 564.3,565.5 565.1,564.9 565.9,564.3 566.7,563.7 567.5,563 568.3,562 569,560.7 569.8,559.1 570.7,557 571.5,555.1 572.3,553.3 573.1,551.5 573.9,550 574.6,548.6 575.4,547.3 576.2,546 577,544.8 577.8,543.6 578.7,542.4 579.5,541.4 580.2,540.5 581,539.8 581.8,539.1 582.6,538.4 583.4,537.7 584.2,536.9 585,536.2 585.7,536.2 586.5,536.9 587.4,538.5 588.2,540.3 589,542.2 589.8,544.3 590.6,546.4 591.3,548.4 592.1,550.2 592.9,551.9 593.7,553.4 594.5,554.9 595.4,556.4 596.2,557.7 596.9,558.9 597.7,559.9 598.5,560.9 599.3,561.8 600.1,562.6 600.9,563.4 601.7,564.2 602.5,564.9 603.2,565.6 604.1,566.4 604.9,567 605.7,567.6 606.5,568.1 607.3,568.4 608.1,568.6 608.1,571.6 558.7,571.6Z" fill="rgba(236,80,84,0.15)"/>
<path d="M553.9,568.5 554.8,568.4 555.7,568.3 556.7,568.1 557.6,568 558.5,567.8 559.4,567.6 560.3,567.3 561.2,567.1 562.1,566.9 563,566.6 563.9,566.1 564.8,565.6 565.8,564.9 566.8,564 567.7,563.1 568.6,562.1 569.5,561.1 570.4,560.1 571.3,558.9 572.2,557.5 573.1,556 574,554.4 574.9,552.8 575.9,551 576.8,549.4 577.7,548 578.6,546.7 579.5,545.5 580.4,544.4 581.3,543.4 582.2,542.3 583.1,541.3 584,540.3 584.9,539.1 585.9,537.7 586.8,536.7 587.7,536.1 588.6,536 589.5,536.3 590.4,536.9 591.3,537.6 592.2,538.4 593.1,539.2 594,540.3 595,541.6 595.9,542.9 596.8,544.5 597.7,546.4 598.7,548.5 599.6,550.8 600.5,553.2 601.4,555.4 602.3,557.4 603.2,559.1 604.1,560.7 605.1,562.3 606,563.7 606.9,565 607.8,566.2 608.7,567.4 609.6,568.3 610.5,568.6" fill="none" stroke="#4b90d5" stroke-width="1.25" stroke-linejoin="round"/>
<path d="M558.7,568.5 559.5,568.3 560.3,568 561.1,567.7 562,567.1 562.7,566.6 563.5,566.1 564.3,565.5 565.1,564.9 565.9,564.3 566.7,563.7 567.5,563 568.3,562 569,560.7 569.8,559.1 570.7,557 571.5,555.1 572.3,553.3 573.1,551.5 573.9,550 574.6,548.6 575.4,547.3 576.2,546 577,544.8 577.8,543.6 578.7,542.4 579.5,541.4 580.2,540.5 581,539.8 581.8,539.1 582.6,538.4 583.4,537.7 584.2,536.9 585,536.2 585.7,536.2 586.5,536.9 587.4,538.5 588.2,540.3 589,542.2 589.8,544.3 590.6,546.4 591.3,548.4 592.1,550.2 592.9,551.9 593.7,553.4 594.5,554.9 595.4,556.4 596.2,557.7 596.9,558.9 597.7,559.9 598.5,560.9 599.3,561.8 600.1,562.6 600.9,563.4 601.7,564.2 602.5,564.9 603.2,565.6 604.1,566.4 604.9,567 605.7,567.6 606.5,568.1 607.3,568.4 608.1,568.6" fill="none" stroke="#ea5461" stroke-width="1.25" stroke-linejoin="round"/>
</g>
<path d="M550,496.6 v1.2 M550,567.8 v-1.2 M566.2,496.6 v1.8 M566.2,567.8 v-1.8 M582.5,496.6 v1.2 M582.5,567.8 v-1.2 M598.8,496.6 v1.8 M598.8,567.8 v-1.8 M615,496.6 v1.2 M615,567.8 v-1.2 M631.3,496.6 v1.8 M631.3,567.8 v-1.8 M647.5,496.6 v1.2 M647.5,567.8 v-1.2 M533.7,559.4 h1.2 M663.8,559.4 h-1.2 M533.7,550.2 h1.8 M663.8,550.2 h-1.8 M533.7,541 h1.2 M663.8,541 h-1.2 M533.7,531.8 h1.8 M663.8,531.8 h-1.8 M533.7,522.6 h1.2 M663.8,522.6 h-1.2 M533.7,513.4 h1.8 M663.8,513.4 h-1.8 M533.7,504.2 h1.2 M663.8,504.2 h-1.2" stroke="#222" stroke-width="0.9" fill="none"/>
<rect x="533.7" y="496.6" width="130.1" height="71.2" fill="none" stroke="#1a1a1a" stroke-width="1.05"/>
<text x="531.9" y="553.7" font-size="9.8" text-anchor="end" font-weight="normal" fill="#1a1a1a" >4</text>
<text x="531.9" y="535.3" font-size="9.8" text-anchor="end" font-weight="normal" fill="#1a1a1a" >8</text>
<text x="531.9" y="516.9" font-size="9.8" text-anchor="end" font-weight="normal" fill="#1a1a1a" >12</text>
<clipPath id="clipc13"><rect x="533.7" y="567.8" width="130.1" height="73"/></clipPath>
<g clip-path="url(#clipc13)">
<path d="M558.8,640 559.6,639.8 560.4,639.6 561.2,639.2 562,638.8 562.8,638.2 563.6,637.7 564.4,637.1 565.2,636.5 566,635.9 566.8,635.3 567.6,634.6 568.4,634 569.2,633.3 570,632.5 570.8,631.7 571.7,630.6 572.5,629.4 573.3,628.2 574,626.9 574.8,625.5 575.6,624.1 576.4,622.7 577.2,621.3 578,619.9 578.8,618.6 579.7,617.1 580.5,615.7 581.3,614.4 582.1,613.1 582.9,611.9 583.7,610.8 584.5,609.9 585.2,609 586,608.3 586.8,607.8 587.6,607.6 588.5,607.8 589.3,608.2 590.1,608.8 590.9,609.4 591.7,610.2 592.5,611.1 593.3,612.2 594.1,613.6 594.9,615.3 595.6,617.1 596.5,619.2 597.3,621.1 598.1,622.9 598.9,624.6 599.7,626.2 600.5,627.9 601.3,629.5 602.1,631 602.9,632.4 603.7,633.7 604.5,634.8 605.4,636 606.2,637 606.9,638 607.7,638.9 608.5,639.6 609.3,639.9 609.3,643 558.8,643Z" fill="rgba(74,143,210,0.13)"/>
<path d="M547,639.9 547.6,639.6 548.3,639.2 549,638.6 549.6,638 550.3,637.3 550.9,636.5 551.6,635.7 552.2,634.9 552.8,634 553.5,633 554.1,632 554.8,630.8 555.4,629.5 556.1,627.5 556.8,625.4 557.4,623.2 558.1,620.8 558.7,618.4 559.4,616.2 560,614.2 560.6,612.3 561.3,610.5 561.9,608.8 562.6,606.9 563.3,605.3 563.9,603.9 564.6,602.6 565.2,601.4 565.9,600.4 566.5,599.4 567.1,598.6 567.8,598 568.4,597.7 569.1,597.9 569.8,598.7 570.4,599.9 571.1,601.3 571.7,603 572.4,604.8 573,606.8 573.7,609.1 574.3,611.4 574.9,613.8 575.6,616.1 576.3,618.5 576.9,620.5 577.6,622.4 578.2,624.2 578.9,625.9 579.5,627.6 580.2,629.2 580.8,630.7 581.4,632.2 582.1,633.6 582.7,634.9 583.5,636.3 584.1,637.5 584.7,638.7 585.4,639.5 586,639.9 586,643 547,643Z" fill="rgba(74,143,210,0.13)"/>
<path d="M558.8,639.9 559.5,639.8 560.3,639.6 561.1,639.2 561.9,638.8 562.8,638.3 563.6,637.7 564.4,637.2 565.2,636.6 566,636 566.7,635.4 567.5,634.8 568.3,634.2 569.1,633.5 569.9,632.8 570.7,632 571.6,631 572.4,629.9 573.1,628.8 573.9,627.5 574.7,626.2 575.5,624.9 576.3,623.6 577.1,622.3 577.9,621 578.7,619.7 579.6,618.3 580.3,617 581.1,615.7 581.9,614.4 582.7,613.3 583.5,612.3 584.3,611.5 585.1,610.8 585.9,610.1 586.6,609.6 587.4,609.2 588.3,609 589.1,609.1 589.9,609.5 590.7,610.1 591.5,610.8 592.3,611.7 593.1,612.8 593.8,614.1 594.6,615.7 595.4,617.4 596.3,619.4 597.1,621.2 597.9,622.9 598.7,624.5 599.5,626.1 600.2,627.6 601,629.1 601.8,630.6 602.6,632 603.4,633.3 604.2,634.5 605.1,635.7 605.9,636.7 606.7,637.8 607.4,638.8 608.2,639.6 609,639.9 609,643 558.8,643Z" fill="rgba(236,80,84,0.15)"/>
<path d="M549.3,639.9 549.9,639.6 550.5,639.1 551.1,638.5 551.8,637.6 552.4,636.8 553,635.9 553.6,635 554.2,634.1 554.8,633.1 555.3,632.1 555.9,631.1 556.5,629.9 557.1,628.7 557.7,627.4 558.4,625.8 559,624.2 559.6,622.6 560.2,620.9 560.8,619.1 561.4,617.4 562,615.7 562.6,613.9 563.2,612.1 563.8,610.3 564.5,608.3 565.1,606.5 565.7,604.8 566.3,603.1 566.9,601.5 567.5,600 568.1,599 568.7,598.6 569.3,598.9 569.9,599.8 570.5,601 571.2,602.4 571.8,603.7 572.4,605 573,606.3 573.6,607.6 574.2,609 574.8,610.4 575.4,611.8 576,613.3 576.6,614.9 577.2,616.6 577.8,618.3 578.4,619.9 579,621.6 579.6,623.3 580.2,625 580.8,626.7 581.4,628.4 582,630.1 582.6,631.9 583.2,633.6 583.9,635.6 584.5,637.2 585.1,638.6 585.7,639.5 586.3,639.9 586.3,643 549.3,643Z" fill="rgba(236,80,84,0.15)"/>
<path d="M558.8,640 559.6,639.8 560.4,639.6 561.2,639.2 562,638.8 562.8,638.2 563.6,637.7 564.4,637.1 565.2,636.5 566,635.9 566.8,635.3 567.6,634.6 568.4,634 569.2,633.3 570,632.5 570.8,631.7 571.7,630.6 572.5,629.4 573.3,628.2 574,626.9 574.8,625.5 575.6,624.1 576.4,622.7 577.2,621.3 578,619.9 578.8,618.6 579.7,617.1 580.5,615.7 581.3,614.4 582.1,613.1 582.9,611.9 583.7,610.8 584.5,609.9 585.2,609 586,608.3 586.8,607.8 587.6,607.6 588.5,607.8 589.3,608.2 590.1,608.8 590.9,609.4 591.7,610.2 592.5,611.1 593.3,612.2 594.1,613.6 594.9,615.3 595.6,617.1 596.5,619.2 597.3,621.1 598.1,622.9 598.9,624.6 599.7,626.2 600.5,627.9 601.3,629.5 602.1,631 602.9,632.4 603.7,633.7 604.5,634.8 605.4,636 606.2,637 606.9,638 607.7,638.9 608.5,639.6 609.3,639.9" fill="none" stroke="#4b90d5" stroke-width="1.25" stroke-linejoin="round" stroke-dasharray="3.2,1.6"/>
<path d="M547,639.9 547.6,639.6 548.3,639.2 549,638.6 549.6,638 550.3,637.3 550.9,636.5 551.6,635.7 552.2,634.9 552.8,634 553.5,633 554.1,632 554.8,630.8 555.4,629.5 556.1,627.5 556.8,625.4 557.4,623.2 558.1,620.8 558.7,618.4 559.4,616.2 560,614.2 560.6,612.3 561.3,610.5 561.9,608.8 562.6,606.9 563.3,605.3 563.9,603.9 564.6,602.6 565.2,601.4 565.9,600.4 566.5,599.4 567.1,598.6 567.8,598 568.4,597.7 569.1,597.9 569.8,598.7 570.4,599.9 571.1,601.3 571.7,603 572.4,604.8 573,606.8 573.7,609.1 574.3,611.4 574.9,613.8 575.6,616.1 576.3,618.5 576.9,620.5 577.6,622.4 578.2,624.2 578.9,625.9 579.5,627.6 580.2,629.2 580.8,630.7 581.4,632.2 582.1,633.6 582.7,634.9 583.5,636.3 584.1,637.5 584.7,638.7 585.4,639.5 586,639.9" fill="none" stroke="#4b90d5" stroke-width="1.25" stroke-linejoin="round"/>
<path d="M558.8,639.9 559.5,639.8 560.3,639.6 561.1,639.2 561.9,638.8 562.8,638.3 563.6,637.7 564.4,637.2 565.2,636.6 566,636 566.7,635.4 567.5,634.8 568.3,634.2 569.1,633.5 569.9,632.8 570.7,632 571.6,631 572.4,629.9 573.1,628.8 573.9,627.5 574.7,626.2 575.5,624.9 576.3,623.6 577.1,622.3 577.9,621 578.7,619.7 579.6,618.3 580.3,617 581.1,615.7 581.9,614.4 582.7,613.3 583.5,612.3 584.3,611.5 585.1,610.8 585.9,610.1 586.6,609.6 587.4,609.2 588.3,609 589.1,609.1 589.9,609.5 590.7,610.1 591.5,610.8 592.3,611.7 593.1,612.8 593.8,614.1 594.6,615.7 595.4,617.4 596.3,619.4 597.1,621.2 597.9,622.9 598.7,624.5 599.5,626.1 600.2,627.6 601,629.1 601.8,630.6 602.6,632 603.4,633.3 604.2,634.5 605.1,635.7 605.9,636.7 606.7,637.8 607.4,638.8 608.2,639.6 609,639.9" fill="none" stroke="#ea5461" stroke-width="1.25" stroke-linejoin="round" stroke-dasharray="3.2,1.6"/>
<path d="M549.3,639.9 549.9,639.6 550.5,639.1 551.1,638.5 551.8,637.6 552.4,636.8 553,635.9 553.6,635 554.2,634.1 554.8,633.1 555.3,632.1 555.9,631.1 556.5,629.9 557.1,628.7 557.7,627.4 558.4,625.8 559,624.2 559.6,622.6 560.2,620.9 560.8,619.1 561.4,617.4 562,615.7 562.6,613.9 563.2,612.1 563.8,610.3 564.5,608.3 565.1,606.5 565.7,604.8 566.3,603.1 566.9,601.5 567.5,600 568.1,599 568.7,598.6 569.3,598.9 569.9,599.8 570.5,601 571.2,602.4 571.8,603.7 572.4,605 573,606.3 573.6,607.6 574.2,609 574.8,610.4 575.4,611.8 576,613.3 576.6,614.9 577.2,616.6 577.8,618.3 578.4,619.9 579,621.6 579.6,623.3 580.2,625 580.8,626.7 581.4,628.4 582,630.1 582.6,631.9 583.2,633.6 583.9,635.6 584.5,637.2 585.1,638.6 585.7,639.5 586.3,639.9" fill="none" stroke="#ea5461" stroke-width="1.25" stroke-linejoin="round"/>
</g>
<path d="M550,567.8 v1.2 M550,639.2 v-1.2 M566.2,567.8 v1.8 M566.2,639.2 v-1.8 M582.5,567.8 v1.2 M582.5,639.2 v-1.2 M598.8,567.8 v1.8 M598.8,639.2 v-1.8 M615,567.8 v1.2 M615,639.2 v-1.2 M631.3,567.8 v1.8 M631.3,639.2 v-1.8 M647.5,567.8 v1.2 M647.5,639.2 v-1.2 M533.7,630.8 h1.2 M663.8,630.8 h-1.2 M533.7,621.6 h1.8 M663.8,621.6 h-1.8 M533.7,612.4 h1.2 M663.8,612.4 h-1.2 M533.7,603.2 h1.8 M663.8,603.2 h-1.8 M533.7,594 h1.2 M663.8,594 h-1.2 M533.7,584.8 h1.8 M663.8,584.8 h-1.8 M533.7,575.6 h1.2 M663.8,575.6 h-1.2" stroke="#222" stroke-width="0.9" fill="none"/>
<rect x="533.7" y="567.8" width="130.1" height="71.4" fill="none" stroke="#1a1a1a" stroke-width="1.05"/>
<text x="531.9" y="625.1" font-size="9.8" text-anchor="end" font-weight="normal" fill="#1a1a1a" >4</text>
<text x="531.9" y="606.7" font-size="9.8" text-anchor="end" font-weight="normal" fill="#1a1a1a" >8</text>
<text x="531.9" y="588.3" font-size="9.8" text-anchor="end" font-weight="normal" fill="#1a1a1a" >12</text>
<clipPath id="clipc23"><rect x="533.7" y="639.2" width="130.1" height="72.4"/></clipPath>
<g clip-path="url(#clipc23)">
<path d="M556.4,710.7 557.2,710.4 558,710 558.8,709.4 559.6,708.8 560.5,708.1 561.3,707.5 562.1,706.8 562.8,706.1 563.6,705.3 564.4,704.5 565.2,703.7 566,702.8 566.8,701.9 567.6,701 568.4,700 569.3,698.6 570.1,697.3 570.9,695.8 571.7,694.2 572.5,692.7 573.3,691.1 574.1,689.7 574.9,688.4 575.7,687.1 576.5,685.9 577.4,684.5 578.2,683.3 579,682.2 579.8,681.2 580.6,680.4 581.4,679.7 582.2,679.2 583,678.9 583.8,678.7 584.6,678.5 585.4,678.4 586.3,678.4 587.1,678.8 587.9,679.4 588.7,680.3 589.5,681.3 590.2,682.4 591,683.6 591.8,685.1 592.6,686.7 593.4,688.4 594.3,690.4 595.1,692.2 595.9,693.9 596.7,695.6 597.5,697.4 598.3,699.1 599.1,700.7 599.9,702.2 600.7,703.5 601.5,704.7 602.3,705.8 603.2,706.9 604,707.9 604.8,708.8 605.6,709.8 606.4,710.4 607.2,710.7 607.2,713.8 556.4,713.8Z" fill="rgba(74,143,210,0.13)"/>
<path d="M543.3,710.7 544.1,710.5 544.8,710.1 545.6,709.7 546.5,709 547.3,708.5 548,707.9 548.8,707.3 549.6,706.7 550.3,705.9 551.1,705.1 551.9,704.1 552.6,702.9 553.4,701.7 554.2,700.3 555,698.5 555.8,696.5 556.6,694.2 557.3,691.8 558.1,689.5 558.9,687.3 559.6,685.6 560.4,684.4 561.2,683.4 562,682.6 562.8,681.9 563.6,681.3 564.4,680.8 565.1,680.4 565.9,680 566.7,679.3 567.4,678.4 568.2,677.3 569,676.4 569.7,675.9 570.5,676 571.4,676.7 572.1,677.7 572.9,678.8 573.7,680 574.4,681.1 575.2,682.2 576,683.2 576.8,684.3 577.5,685.4 578.3,686.7 579.2,688.2 579.9,689.7 580.7,691.2 581.5,692.9 582.2,694.6 583,696.3 583.8,698.2 584.5,700 585.3,701.8 586.1,703.5 586.8,705.2 587.7,706.8 588.5,708.1 589.3,709.3 590,710.1 590.8,710.6 591.6,710.8 591.6,713.8 543.3,713.8Z" fill="rgba(74,143,210,0.13)"/>
<path d="M554,710.8 554.8,710.6 555.6,710.3 556.4,709.8 557.2,709.3 558,708.8 558.9,708.1 559.7,707.6 560.5,707 561.3,706.4 562.1,705.8 562.9,705.2 563.7,704.4 564.5,703.7 565.3,702.8 566.1,701.9 566.9,701 567.8,699.8 568.6,698.7 569.5,697.3 570.3,695.9 571.1,694.3 571.9,692.7 572.7,691.1 573.5,689.6 574.3,688.1 575.1,686.5 576,684.8 576.8,683.2 577.6,681.7 578.4,680.3 579.2,679.3 580,678.6 580.8,678.2 581.6,678 582.4,677.9 583.2,677.9 584,678 584.9,678.5 585.7,679.1 586.5,680 587.3,681.1 588.1,682.4 588.9,684 589.7,686 590.5,688 591.3,690 592.2,691.8 593.1,693.8 593.9,695.4 594.7,696.9 595.5,698.4 596.3,699.8 597.1,701.2 597.9,702.5 598.7,703.7 599.5,704.8 600.3,705.8 601.1,706.7 602,707.6 602.8,708.4 603.6,709.2 604.4,710 605.2,710.5 606,710.7 606,713.8 554,713.8Z" fill="rgba(236,80,84,0.15)"/>
<path d="M543.9,710.7 544.7,710.5 545.4,710.1 546.2,709.7 547,709.1 547.8,708.5 548.6,707.9 549.3,707.4 550.1,706.7 550.8,705.9 551.6,705.1 552.4,704 553.1,702.9 553.9,701.7 554.6,700.3 555.5,698.4 556.3,696.3 557,694.1 557.8,691.8 558.5,689.6 559.3,687.8 560.1,686.3 560.8,685.1 561.6,684.2 562.3,683.4 563.2,682.6 563.9,682 564.7,681.5 565.5,681 566.2,680.4 567,679.6 567.8,678.5 568.5,677.4 569.3,676.6 570,676.3 570.8,676.6 571.6,677.5 572.4,678.5 573.2,679.7 573.9,680.8 574.7,681.9 575.4,682.9 576.2,684 577,685 577.7,686.2 578.5,687.5 579.3,689 580.1,690.5 580.9,692.1 581.6,693.7 582.4,695.4 583.1,697.1 583.9,699 584.7,700.8 585.4,702.6 586.2,704.2 586.9,705.8 587.8,707.4 588.6,708.6 589.3,709.6 590.1,710.3 590.8,710.7 590.8,713.8 543.9,713.8Z" fill="rgba(236,80,84,0.15)"/>
<path d="M556.4,710.7 557.2,710.4 558,710 558.8,709.4 559.6,708.8 560.5,708.1 561.3,707.5 562.1,706.8 562.8,706.1 563.6,705.3 564.4,704.5 565.2,703.7 566,702.8 566.8,701.9 567.6,701 568.4,700 569.3,698.6 570.1,697.3 570.9,695.8 571.7,694.2 572.5,692.7 573.3,691.1 574.1,689.7 574.9,688.4 575.7,687.1 576.5,685.9 577.4,684.5 578.2,683.3 579,682.2 579.8,681.2 580.6,680.4 581.4,679.7 582.2,679.2 583,678.9 583.8,678.7 584.6,678.5 585.4,678.4 586.3,678.4 587.1,678.8 587.9,679.4 588.7,680.3 589.5,681.3 590.2,682.4 591,683.6 591.8,685.1 592.6,686.7 593.4,688.4 594.3,690.4 595.1,692.2 595.9,693.9 596.7,695.6 597.5,697.4 598.3,699.1 599.1,700.7 599.9,702.2 600.7,703.5 601.5,704.7 602.3,705.8 603.2,706.9 604,707.9 604.8,708.8 605.6,709.8 606.4,710.4 607.2,710.7" fill="none" stroke="#4b90d5" stroke-width="1.25" stroke-linejoin="round" stroke-dasharray="3.2,1.6"/>
<path d="M543.3,710.7 544.1,710.5 544.8,710.1 545.6,709.7 546.5,709 547.3,708.5 548,707.9 548.8,707.3 549.6,706.7 550.3,705.9 551.1,705.1 551.9,704.1 552.6,702.9 553.4,701.7 554.2,700.3 555,698.5 555.8,696.5 556.6,694.2 557.3,691.8 558.1,689.5 558.9,687.3 559.6,685.6 560.4,684.4 561.2,683.4 562,682.6 562.8,681.9 563.6,681.3 564.4,680.8 565.1,680.4 565.9,680 566.7,679.3 567.4,678.4 568.2,677.3 569,676.4 569.7,675.9 570.5,676 571.4,676.7 572.1,677.7 572.9,678.8 573.7,680 574.4,681.1 575.2,682.2 576,683.2 576.8,684.3 577.5,685.4 578.3,686.7 579.2,688.2 579.9,689.7 580.7,691.2 581.5,692.9 582.2,694.6 583,696.3 583.8,698.2 584.5,700 585.3,701.8 586.1,703.5 586.8,705.2 587.7,706.8 588.5,708.1 589.3,709.3 590,710.1 590.8,710.6 591.6,710.8" fill="none" stroke="#4b90d5" stroke-width="1.25" stroke-linejoin="round"/>
<path d="M554,710.8 554.8,710.6 555.6,710.3 556.4,709.8 557.2,709.3 558,708.8 558.9,708.1 559.7,707.6 560.5,707 561.3,706.4 562.1,705.8 562.9,705.2 563.7,704.4 564.5,703.7 565.3,702.8 566.1,701.9 566.9,701 567.8,699.8 568.6,698.7 569.5,697.3 570.3,695.9 571.1,694.3 571.9,692.7 572.7,691.1 573.5,689.6 574.3,688.1 575.1,686.5 576,684.8 576.8,683.2 577.6,681.7 578.4,680.3 579.2,679.3 580,678.6 580.8,678.2 581.6,678 582.4,677.9 583.2,677.9 584,678 584.9,678.5 585.7,679.1 586.5,680 587.3,681.1 588.1,682.4 588.9,684 589.7,686 590.5,688 591.3,690 592.2,691.8 593.1,693.8 593.9,695.4 594.7,696.9 595.5,698.4 596.3,699.8 597.1,701.2 597.9,702.5 598.7,703.7 599.5,704.8 600.3,705.8 601.1,706.7 602,707.6 602.8,708.4 603.6,709.2 604.4,710 605.2,710.5 606,710.7" fill="none" stroke="#ea5461" stroke-width="1.25" stroke-linejoin="round" stroke-dasharray="3.2,1.6"/>
<path d="M543.9,710.7 544.7,710.5 545.4,710.1 546.2,709.7 547,709.1 547.8,708.5 548.6,707.9 549.3,707.4 550.1,706.7 550.8,705.9 551.6,705.1 552.4,704 553.1,702.9 553.9,701.7 554.6,700.3 555.5,698.4 556.3,696.3 557,694.1 557.8,691.8 558.5,689.6 559.3,687.8 560.1,686.3 560.8,685.1 561.6,684.2 562.3,683.4 563.2,682.6 563.9,682 564.7,681.5 565.5,681 566.2,680.4 567,679.6 567.8,678.5 568.5,677.4 569.3,676.6 570,676.3 570.8,676.6 571.6,677.5 572.4,678.5 573.2,679.7 573.9,680.8 574.7,681.9 575.4,682.9 576.2,684 577,685 577.7,686.2 578.5,687.5 579.3,689 580.1,690.5 580.9,692.1 581.6,693.7 582.4,695.4 583.1,697.1 583.9,699 584.7,700.8 585.4,702.6 586.2,704.2 586.9,705.8 587.8,707.4 588.6,708.6 589.3,709.6 590.1,710.3 590.8,710.7" fill="none" stroke="#ea5461" stroke-width="1.25" stroke-linejoin="round"/>
</g>
<path d="M550,639.2 v1.2 M550,710 v-1.2 M566.2,639.2 v1.8 M566.2,710 v-1.8 M582.5,639.2 v1.2 M582.5,710 v-1.2 M598.8,639.2 v1.8 M598.8,710 v-1.8 M615,639.2 v1.2 M615,710 v-1.2 M631.3,639.2 v1.8 M631.3,710 v-1.8 M647.5,639.2 v1.2 M647.5,710 v-1.2 M533.7,701.6 h1.2 M663.8,701.6 h-1.2 M533.7,692.4 h1.8 M663.8,692.4 h-1.8 M533.7,683.2 h1.2 M663.8,683.2 h-1.2 M533.7,674 h1.8 M663.8,674 h-1.8 M533.7,664.8 h1.2 M663.8,664.8 h-1.2 M533.7,655.6 h1.8 M663.8,655.6 h-1.8 M533.7,646.4 h1.2 M663.8,646.4 h-1.2" stroke="#222" stroke-width="0.9" fill="none"/>
<rect x="533.7" y="639.2" width="130.1" height="70.8" fill="none" stroke="#1a1a1a" stroke-width="1.05"/>
<text x="531.9" y="695.9" font-size="9.8" text-anchor="end" font-weight="normal" fill="#1a1a1a" >4</text>
<text x="531.9" y="677.5" font-size="9.8" text-anchor="end" font-weight="normal" fill="#1a1a1a" >8</text>
<text x="531.9" y="659.1" font-size="9.8" text-anchor="end" font-weight="normal" fill="#1a1a1a" >12</text>
<text x="44.6" y="719.5" font-size="9.8" text-anchor="middle" font-weight="normal" fill="#1a1a1a" >0.4</text>
<text x="66.4" y="719.5" font-size="9.8" text-anchor="middle" font-weight="normal" fill="#1a1a1a" >0.5</text>
<text x="88.2" y="719.5" font-size="9.8" text-anchor="middle" font-weight="normal" fill="#1a1a1a" >0.6</text>
<text x="110" y="719.5" font-size="9.8" text-anchor="middle" font-weight="normal" fill="#1a1a1a" >0.7</text>
<text x="131.9" y="719.5" font-size="9.8" text-anchor="middle" font-weight="normal" fill="#1a1a1a" >0.8</text>
<text x="153.7" y="719.5" font-size="9.8" text-anchor="middle" font-weight="normal" fill="#1a1a1a" >0.9</text>
<text x="175.5" y="719.5" font-size="9.8" text-anchor="middle" font-weight="normal" fill="#1a1a1a" >1.0</text>
<text x="201.8" y="719.5" font-size="9.8" text-anchor="middle" font-weight="normal" fill="#1a1a1a" >0.2</text>
<text x="234.4" y="719.5" font-size="9.8" text-anchor="middle" font-weight="normal" fill="#1a1a1a" >0.4</text>
<text x="266.9" y="719.5" font-size="9.8" text-anchor="middle" font-weight="normal" fill="#1a1a1a" >0.6</text>
<text x="299.5" y="719.5" font-size="9.8" text-anchor="middle" font-weight="normal" fill="#1a1a1a" >0.8</text>
<text x="332.1" y="719.5" font-size="9.8" text-anchor="middle" font-weight="normal" fill="#1a1a1a" >1.0</text>
<text x="367.4" y="719.5" font-size="9.8" text-anchor="middle" font-weight="normal" fill="#1a1a1a" >0.2</text>
<text x="400" y="719.5" font-size="9.8" text-anchor="middle" font-weight="normal" fill="#1a1a1a" >0.4</text>
<text x="432.5" y="719.5" font-size="9.8" text-anchor="middle" font-weight="normal" fill="#1a1a1a" >0.6</text>
<text x="465.1" y="719.5" font-size="9.8" text-anchor="middle" font-weight="normal" fill="#1a1a1a" >0.8</text>
<text x="497.7" y="719.5" font-size="9.8" text-anchor="middle" font-weight="normal" fill="#1a1a1a" >1.0</text>
<text x="533.7" y="719.5" font-size="9.8" text-anchor="middle" font-weight="normal" fill="#1a1a1a" >0.2</text>
<text x="566.2" y="719.5" font-size="9.8" text-anchor="middle" font-weight="normal" fill="#1a1a1a" >0.4</text>
<text x="598.8" y="719.5" font-size="9.8" text-anchor="middle" font-weight="normal" fill="#1a1a1a" >0.6</text>
<text x="631.3" y="719.5" font-size="9.8" text-anchor="middle" font-weight="normal" fill="#1a1a1a" >0.8</text>
<text x="663.8" y="719.5" font-size="9.8" text-anchor="middle" font-weight="normal" fill="#1a1a1a" >1.0</text>
<text class="b" x="113.8" y="459.6" font-size="13.6" text-anchor="middle" font-weight="normal" fill="#111" >Aspect ratio</text>
<text class="b" x="268.6" y="459.6" font-size="13.6" text-anchor="middle" font-weight="normal" fill="#111" >Sphericity</text>
<text class="b" x="434.5" y="459.6" font-size="13.6" text-anchor="middle" font-weight="normal" fill="#111" >Convexity</text>
<text class="b" x="603" y="459.5" font-size="13.6" text-anchor="middle" font-weight="normal" fill="#111" >Roundness</text>
<text class="b" x="112.8" y="735" font-size="13.6" text-anchor="middle" font-weight="normal" fill="#111" >Aspect ratio</text>
<text class="b" x="268.8" y="735.5" font-size="13.6" text-anchor="middle" font-weight="normal" fill="#111" >Sphericity</text>
<text class="b" x="434.5" y="735.3" font-size="13.6" text-anchor="middle" font-weight="normal" fill="#111" >Convexity</text>
<text class="b" x="603" y="735.2" font-size="13.6" text-anchor="middle" font-weight="normal" fill="#111" >Roundness</text>
<text class="b" transform="translate(29.5,289.2) rotate(-90)" font-size="14.1" text-anchor="middle" fill="#111">Kernel density estimate</text>
<text class="b" transform="translate(29.3,607) rotate(-90)" font-size="14.1" text-anchor="middle" fill="#111">Kernel density estimate</text>
<text class="b" transform="translate(670.8,186.2) rotate(90)" font-size="14" text-anchor="middle" fill="#111">Basalt</text>
<text class="b" transform="translate(670.8,256.9) rotate(90)" font-size="14" text-anchor="middle" fill="#111">Breccia</text>
<text class="b" transform="translate(670.8,329.3) rotate(90)" font-size="14" text-anchor="middle" fill="#111">Agglutinate</text>
<text class="b" transform="translate(670.8,399.3) rotate(90)" font-size="14" text-anchor="middle" fill="#111">LRS</text>
<text class="b" transform="translate(670.8,531.4) rotate(90)" font-size="14" text-anchor="middle" fill="#111">Hm</text>
<text class="b" transform="translate(670.8,602.9) rotate(90)" font-size="14" text-anchor="middle" fill="#111">Mm</text>
<text class="b" transform="translate(670.8,675.3) rotate(90)" font-size="14" text-anchor="middle" fill="#111">Lm</text>
<rect x="207.5" y="466" width="286.4" height="18.8" fill="#fff" stroke="#111" stroke-width="1.3"/>
<path d="M215.4,475.4 H242.6" stroke="#111" stroke-width="1.4"/>
<path d="M351.2,475.4 H378.3" stroke="#111" stroke-width="1.4" stroke-dasharray="4,2"/>
<text class="b" x="254.4" y="480.4" font-size="12.5" text-anchor="start" font-weight="normal" fill="#1a1a1a" >Large particle</text>
<text class="b" x="390.6" y="480.4" font-size="12.5" text-anchor="start" font-weight="normal" fill="#1a1a1a" >Small particle</text>
<path d="M57.3,793.3 V817.2 M57.3,834.3 V858.6 M53.8,793.3 h7 M53.8,858.6 h7" stroke="#1a1a1a" stroke-width="1.1"/>
<rect x="50.9" y="817.2" width="12.9" height="17.1" fill="#ec4e5a" stroke="#1a1a1a" stroke-width="1.1"/>
<path d="M50.9,824.8 H63.8" stroke="#1a1a1a" stroke-width="1.3"/>
<path d="M84,793 V815.9 M84,833.4 V859.6 M80.5,793 h7 M80.5,859.6 h7" stroke="#1a1a1a" stroke-width="1.1"/>
<rect x="77.4" y="815.9" width="13.1" height="17.5" fill="#4289d0" stroke="#1a1a1a" stroke-width="1.1"/>
<path d="M77.4,824.1 H90.5" stroke="#1a1a1a" stroke-width="1.3"/>
<path d="M110.2,824.7 V836.5 M110.2,852.6 V867.3 M106.8,824.7 h7 M106.8,867.3 h7" stroke="#1a1a1a" stroke-width="1.1"/>
<rect x="103.8" y="836.5" width="12.9" height="16.1" fill="#ec4e5a" stroke="#1a1a1a" stroke-width="1.1"/>
<path d="M103.8,843.7 H116.7" stroke="#1a1a1a" stroke-width="1.3"/>
<path d="M136.8,816 V834.6 M136.8,855.4 V867 M133.3,816 h7 M133.3,867 h7" stroke="#1a1a1a" stroke-width="1.1"/>
<rect x="130.5" y="834.6" width="12.7" height="20.8" fill="#4289d0" stroke="#1a1a1a" stroke-width="1.1"/>
<path d="M130.5,844.7 H143.2" stroke="#1a1a1a" stroke-width="1.3"/>
<path d="M163.6,829.3 V850.6 M163.6,865.5 V886 M160.1,829.3 h7 M160.1,886 h7" stroke="#1a1a1a" stroke-width="1.1"/>
<rect x="157.2" y="850.6" width="12.7" height="14.9" fill="#ec4e5a" stroke="#1a1a1a" stroke-width="1.1"/>
<path d="M157.2,857.8 H169.9" stroke="#1a1a1a" stroke-width="1.3"/>
<path d="M190.1,824.7 V847.3 M190.1,863 V886 M186.6,824.7 h7 M186.6,886 h7" stroke="#1a1a1a" stroke-width="1.1"/>
<rect x="183.5" y="847.3" width="13.1" height="15.7" fill="#4289d0" stroke="#1a1a1a" stroke-width="1.1"/>
<path d="M183.5,855.4 H196.6" stroke="#1a1a1a" stroke-width="1.3"/>
<path d="M216.4,784.8 V809.5 M216.4,827.5 V851.9 M212.9,784.8 h7 M212.9,851.9 h7" stroke="#1a1a1a" stroke-width="1.1"/>
<rect x="209.9" y="809.5" width="12.9" height="18" fill="#ec4e5a" stroke="#1a1a1a" stroke-width="1.1"/>
<path d="M209.9,817.4 H222.8" stroke="#1a1a1a" stroke-width="1.3"/>
<path d="M243.1,787.2 V805.8 M243.1,824.4 V852.2 M239.6,787.2 h7 M239.6,852.2 h7" stroke="#1a1a1a" stroke-width="1.1"/>
<rect x="236.5" y="805.8" width="13.1" height="18.6" fill="#4289d0" stroke="#1a1a1a" stroke-width="1.1"/>
<path d="M236.5,814 H249.6" stroke="#1a1a1a" stroke-width="1.3"/>
<path d="M269.1,783 V806.5 M269.1,823.4 V848.5 M265.6,783 h7 M265.6,848.5 h7" stroke="#1a1a1a" stroke-width="1.1"/>
<rect x="262.5" y="806.5" width="13.2" height="16.9" fill="#ec4e5a" stroke="#1a1a1a" stroke-width="1.1"/>
<path d="M262.5,814.5 H275.7" stroke="#1a1a1a" stroke-width="1.3"/>
<path d="M295.9,779 V805.3 M295.9,822.7 V849.2 M292.4,779 h7 M292.4,849.2 h7" stroke="#1a1a1a" stroke-width="1.1"/>
<rect x="289.4" y="805.3" width="12.9" height="17.4" fill="#4289d0" stroke="#1a1a1a" stroke-width="1.1"/>
<path d="M289.4,813.5 H302.3" stroke="#1a1a1a" stroke-width="1.3"/>
<path d="M322.4,785.4 V812.5 M322.4,831.1 V857.9 M318.9,785.4 h7 M318.9,857.9 h7" stroke="#1a1a1a" stroke-width="1.1"/>
<rect x="315.9" y="812.5" width="13.1" height="18.6" fill="#ec4e5a" stroke="#1a1a1a" stroke-width="1.1"/>
<path d="M315.9,821.2 H329" stroke="#1a1a1a" stroke-width="1.3"/>
<path d="M348.9,785.9 V809.5 M348.9,829.4 V859.6 M345.4,785.9 h7 M345.4,859.6 h7" stroke="#1a1a1a" stroke-width="1.1"/>
<rect x="342.2" y="809.5" width="13.4" height="19.9" fill="#4289d0" stroke="#1a1a1a" stroke-width="1.1"/>
<path d="M342.2,818.7 H355.6" stroke="#1a1a1a" stroke-width="1.3"/>
<rect x="44.4" y="805" width="318.4" height="29.1" fill="rgba(192,192,192,0.24)"/>
<path d="M44.4,805 H362.8 M44.4,834.1 H362.8" stroke="#c2c2c2" stroke-width="0.9"/>
<path d="M97.7,750.8 V896.5 M150.7,750.8 V896.5 M203.3,750.8 V896.5 M256.3,750.8 V896.5 M308.7,750.8 V896.5" stroke="#222" stroke-width="1"/>
<rect x="44.4" y="750.8" width="318.4" height="145.7" fill="none" stroke="#1a1a1a" stroke-width="1.1"/>
<path d="M44.4,885.2 h4.5 M362.8,885.2 h-4 M44.4,874 h2.3 M362.8,874 h-2.3 M44.4,862.8 h4.5 M362.8,862.8 h-4 M44.4,851.6 h2.3 M362.8,851.6 h-2.3 M44.4,840.4 h4.5 M362.8,840.4 h-4 M44.4,829.2 h2.3 M362.8,829.2 h-2.3 M44.4,818 h4.5 M362.8,818 h-4 M44.4,806.8 h2.3 M362.8,806.8 h-2.3 M44.4,795.6 h4.5 M362.8,795.6 h-4 M44.4,784.4 h2.3 M362.8,784.4 h-2.3 M44.4,773.2 h4.5 M362.8,773.2 h-4 M44.4,762 h2.3 M362.8,762 h-2.3" stroke="#1a1a1a" stroke-width="0.9"/>
<text x="39.1" y="754" font-size="9.1" text-anchor="end" font-weight="normal" fill="#1a1a1a" >1.0</text>
<text x="39.1" y="776.4" font-size="9.1" text-anchor="end" font-weight="normal" fill="#1a1a1a" >0.9</text>
<text x="39.1" y="798.8" font-size="9.1" text-anchor="end" font-weight="normal" fill="#1a1a1a" >0.8</text>
<text x="39.1" y="821.2" font-size="9.1" text-anchor="end" font-weight="normal" fill="#1a1a1a" >0.7</text>
<text x="39.1" y="843.6" font-size="9.1" text-anchor="end" font-weight="normal" fill="#1a1a1a" >0.6</text>
<text x="39.1" y="866" font-size="9.1" text-anchor="end" font-weight="normal" fill="#1a1a1a" >0.5</text>
<text x="39.1" y="888.4" font-size="9.1" text-anchor="end" font-weight="normal" fill="#1a1a1a" >0.4</text>
<text transform="translate(20.8,823.5) rotate(-90)" font-size="11.6" text-anchor="middle" fill="#111">Overall regularity</text>
<text x="71.1" y="907.8" font-size="9.3" text-anchor="middle" font-weight="normal" fill="#1a1a1a" >Basalt</text>
<text x="124.2" y="907.8" font-size="9.3" text-anchor="middle" font-weight="normal" fill="#1a1a1a" >Breccia</text>
<text x="177" y="907.8" font-size="9.3" text-anchor="middle" font-weight="normal" fill="#1a1a1a" >Agglutinate</text>
<text x="229.8" y="907.8" font-size="9.3" text-anchor="middle" font-weight="normal" fill="#1a1a1a" >Hm</text>
<text x="282.5" y="907.8" font-size="9.3" text-anchor="middle" font-weight="normal" fill="#1a1a1a" >Mm</text>
<text x="335.7" y="907.8" font-size="9.3" text-anchor="middle" font-weight="normal" fill="#1a1a1a" >Lm</text>
<rect x="296.8" y="752.4" width="62.5" height="24.8" fill="#fff" stroke="#1a1a1a" stroke-width="1"/>
<rect x="300.5" y="754.9" width="11.7" height="7.9" fill="#ec4e5a" stroke="#1a1a1a" stroke-width="1.1"/>
<rect x="300.5" y="766.8" width="11.7" height="7.9" fill="#4289d0" stroke="#1a1a1a" stroke-width="1.1"/>
<text x="314.7" y="762.6" font-size="9.4" text-anchor="start" font-weight="normal" fill="#1a1a1a" >Chang’e-5</text>
<text x="314.7" y="774.5" font-size="9.4" text-anchor="start" font-weight="normal" fill="#1a1a1a" >Chang’e-6</text>
<path d="M441,751.3 V896.3 M478,751.3 V896.3 M515.1,751.3 V896.3 M552.1,751.3 V896.3 M589.2,751.3 V896.3 M626.2,751.3 V896.3" stroke="#d4d4d4" stroke-width="1"/>
<rect x="409.1" y="755.5" width="11.8" height="140.8" fill="#ec4e5a" stroke="#1a1a1a" stroke-width="0.9"/>
<rect x="423.8" y="824.8" width="11.8" height="71.5" fill="#4289d0" stroke="#1a1a1a" stroke-width="0.9"/>
<rect x="446.2" y="864.5" width="11.8" height="31.8" fill="#ec4e5a" stroke="#1a1a1a" stroke-width="0.9"/>
<rect x="460.9" y="853.1" width="11.8" height="43.2" fill="#4289d0" stroke="#1a1a1a" stroke-width="0.9"/>
<rect x="483.2" y="871.1" width="11.8" height="25.2" fill="#ec4e5a" stroke="#1a1a1a" stroke-width="0.9"/>
<rect x="497.9" y="841.5" width="11.8" height="54.8" fill="#4289d0" stroke="#1a1a1a" stroke-width="0.9"/>
<rect x="520.3" y="893.1" width="11.8" height="3.1" fill="#ec4e5a" stroke="#1a1a1a" stroke-width="0.9"/>
<rect x="535" y="889.7" width="11.8" height="6.6" fill="#4289d0" stroke="#1a1a1a" stroke-width="0.9"/>
<rect x="557.3" y="827.6" width="11.8" height="68.7" fill="#ec4e5a" stroke="#1a1a1a" stroke-width="0.9"/>
<rect x="572" y="814.1" width="11.8" height="82.2" fill="#4289d0" stroke="#1a1a1a" stroke-width="0.9"/>
<rect x="594.4" y="867" width="11.8" height="29.3" fill="#ec4e5a" stroke="#1a1a1a" stroke-width="0.9"/>
<rect x="609.1" y="856.9" width="11.8" height="39.4" fill="#4289d0" stroke="#1a1a1a" stroke-width="0.9"/>
<rect x="631.4" y="895.5" width="11.8" height="0.8" fill="#ec4e5a" stroke="#1a1a1a" stroke-width="0.9"/>
<rect x="646.1" y="894.4" width="11.8" height="1.9" fill="#4289d0" stroke="#1a1a1a" stroke-width="0.9"/>
<rect x="403.9" y="751.3" width="259.4" height="145" fill="none" stroke="#1a1a1a" stroke-width="1.1"/>
<path d="M403.9,896.3 h4 M663.3,896.3 h-4 M403.9,880.5 h2.3 M663.3,880.5 h-2.3 M403.9,864.8 h4 M663.3,864.8 h-4 M403.9,849 h2.3 M663.3,849 h-2.3 M403.9,833.3 h4 M663.3,833.3 h-4 M403.9,817.5 h2.3 M663.3,817.5 h-2.3 M403.9,801.8 h4 M663.3,801.8 h-4 M403.9,786 h2.3 M663.3,786 h-2.3 M403.9,770.3 h4 M663.3,770.3 h-4 M403.9,754.5 h2.3 M663.3,754.5 h-2.3" stroke="#1a1a1a" stroke-width="0.9"/>
<text x="399.6" y="899.6" font-size="10.7" text-anchor="end" font-weight="normal" fill="#1a1a1a" >0</text>
<text x="666" y="899.6" font-size="10.7" text-anchor="start" font-weight="normal" fill="#1a1a1a" >0</text>
<text x="399.6" y="868.1" font-size="10.7" text-anchor="end" font-weight="normal" fill="#1a1a1a" >10</text>
<text x="666" y="868.1" font-size="10.7" text-anchor="start" font-weight="normal" fill="#1a1a1a" >10</text>
<text x="399.6" y="836.6" font-size="10.7" text-anchor="end" font-weight="normal" fill="#1a1a1a" >20</text>
<text x="666" y="836.6" font-size="10.7" text-anchor="start" font-weight="normal" fill="#1a1a1a" >20</text>
<text x="399.6" y="805.1" font-size="10.7" text-anchor="end" font-weight="normal" fill="#1a1a1a" >30</text>
<text x="666" y="805.1" font-size="10.7" text-anchor="start" font-weight="normal" fill="#1a1a1a" >30</text>
<text x="399.6" y="773.6" font-size="10.7" text-anchor="end" font-weight="normal" fill="#1a1a1a" >40</text>
<text x="666" y="773.6" font-size="10.7" text-anchor="start" font-weight="normal" fill="#1a1a1a" >40</text>
<text class="b" transform="translate(384.0,823.3) rotate(-90)" font-size="12.2" text-anchor="middle" fill="#111">Volume fraction (vol%)</text>
<rect x="564.9" y="754.7" width="95.3" height="33.7" fill="#fff" stroke="#1a1a1a" stroke-width="1.1"/>
<rect x="567.3" y="756.3" width="28" height="13.8" fill="#ec4e5a" stroke="#111" stroke-width="1.6"/>
<rect x="567.3" y="772.6" width="28" height="13.8" fill="#4289d0" stroke="#111" stroke-width="1.6"/>
<text class="b" x="599.4" y="768.4" font-size="12.8" text-anchor="start" font-weight="normal" fill="#1a1a1a" >Chang’e-5</text>
<text class="b" x="599.4" y="784.6" font-size="12.8" text-anchor="start" font-weight="normal" fill="#1a1a1a" >Chang’e-6</text>
<text class="b" transform="translate(422.5,913.0) rotate(-30)" font-size="13.8" text-anchor="middle" dominant-baseline="central" fill="#111">Basalt</text>
<text class="b" transform="translate(457.9,914.1) rotate(-30)" font-size="13.8" text-anchor="middle" dominant-baseline="central" fill="#111">Breccia</text>
<text class="b" transform="translate(497.8,921.0) rotate(-30)" font-size="13.8" text-anchor="middle" dominant-baseline="central" fill="#111">Agglutinate</text>
<text class="b" transform="translate(534.5,916.0) rotate(-30)" font-size="13.8" text-anchor="middle" dominant-baseline="central" fill="#111">Hm</text>
<text class="b" transform="translate(571.4,917.0) rotate(-30)" font-size="13.8" text-anchor="middle" dominant-baseline="central" fill="#111">Mm</text>
<text class="b" transform="translate(611.0,916.7) rotate(-30)" font-size="13.8" text-anchor="middle" dominant-baseline="central" fill="#111">Lm</text>
<text class="b" transform="translate(646.4,914.3) rotate(-30)" font-size="13.8" text-anchor="middle" dominant-baseline="central" fill="#111">Glass</text>
<text class="b" transform="translate(655.4,928.2) rotate(-30)" font-size="13.8" text-anchor="middle" dominant-baseline="central" fill="#111">bead</text>
</g></svg>
</body></html>
